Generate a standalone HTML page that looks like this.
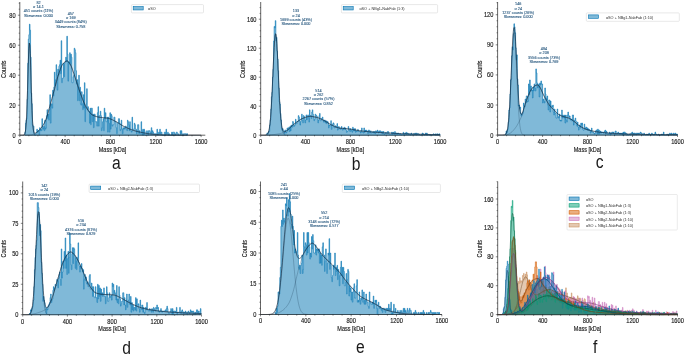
<!DOCTYPE html>
<html><head><meta charset="utf-8"><title>Mass photometry histograms</title>
<style>
html,body{margin:0;padding:0;background:#fff;}
svg{display:block;will-change:transform;}
text{font-family:"Liberation Sans",sans-serif;fill:#1a1a1a;}
.tk,.lb{stroke:#1a1a1a;stroke-width:0.14px;}
.tk{font-size:6.3px;}
.lb{font-size:6.5px;}
.lg{font-size:3.8px;fill:#333;}
.an{font-size:3.8px;fill:#28587f;stroke:#28587f;stroke-width:0.1px;}
.pl{font-size:17.6px;fill:#1a1a1a;}
</style></head><body>
<svg width="685" height="355" viewBox="0 0 685 355">
<rect width="685" height="355" fill="#fff"/>
<defs><filter id="idf" x="0" y="0" width="685" height="355" filterUnits="userSpaceOnUse" color-interpolation-filters="sRGB"><feColorMatrix type="matrix" values="1 0 0 0 0 0 1 0 0 0 0 0 1 0 0 0 0 0 1 0"/></filter></defs>
<g filter="url(#idf)">
<path d="M24.9,135.2V132.2H25.47V123.2H26.03V120.2H26.6V118.7H27.17V99.2H27.73V63.2H28.3V39.2H28.86V34.7H29.43V24.2H30V30.2H30.56V57.2H31.13V93.2H31.7V103.7H32.26V124.7H32.83V126.2H33.4V126.2H33.96V133.7H34.53V135.2H35.1V135.2H35.66V133.7H36.23V133.7H36.8V129.2H37.36V132.2H37.93V130.7H38.5V130.7H39.06V135.2H39.63V127.7H40.2V130.7H40.76V129.2H41.33V130.7H41.9V118.7H42.46V127.7H43.03V129.2H43.6V126.2H44.16V130.7H44.73V120.2H45.3V129.2H45.86V127.7H46.43V115.7H46.99V109.7H47.56V118.7H48.13V114.2H48.69V120.2H49.26V109.7H49.83V94.7H50.39V123.2H50.96V105.2H51.53V103.7H52.09V108.2H52.66V90.2H53.23V96.2H53.79V87.2H54.36V72.2H54.93V85.7H55.49V79.7H56.06V64.7H56.63V75.2H57.19V90.2H57.76V69.2H58.33V75.2H58.89V66.2H59.46V64.7H60.03V60.2H60.59V73.7H61.16V40.7H61.73V82.7H62.29V78.2H62.86V78.2H63.43V63.2H63.99V76.7H64.56V63.2H65.12V61.7H65.69V57.2H66.26V61.7H66.82V36.2H67.39V54.2H67.96V81.2H68.52V61.7H69.09V63.2H69.66V52.7H70.22V64.7H70.79V54.2H71.36V57.2H71.92V82.7H72.49V82.7H73.06V76.7H73.62V75.2H74.19V48.2H74.76V49.7H75.32V52.7H75.89V70.7H76.46V84.2H77.02V79.7H77.59V100.7H78.16V84.2H78.72V75.2H79.29V100.7H79.86V87.2H80.42V103.7H80.99V105.2H81.56V91.7H82.12V103.7H82.69V109.7H83.25V94.7H83.82V108.2H84.39V82.7H84.95V121.7H85.52V106.7H86.09V103.7H86.65V88.7H87.22V109.7H87.79V106.7H88.35V111.2H88.92V111.2H89.49V123.2H90.05V108.2H90.62V124.7H91.19V108.2H91.75V108.2H92.32V121.7H92.89V114.2H93.45V127.7H94.02V114.2H94.59V114.2H95.15V121.7H95.72V121.7H96.29V121.7H96.85V126.2H97.42V112.7H97.99V106.7H98.55V126.2H99.12V115.7H99.69V115.7H100.25V111.2H100.82V115.7H101.38V130.7H101.95V127.7H102.52V121.7H103.08V118.7H103.65V130.7H104.22V108.2H104.78V118.7H105.35V112.7H105.92V121.7H106.48V121.7H107.05V117.2H107.62V132.2H108.18V117.2H108.75V123.2H109.32V132.2H109.88V112.7H110.45V129.2H111.02V114.2H111.58V115.7H112.15V126.2H112.72V124.7H113.28V124.7H113.85V117.2H114.42V117.2H114.98V121.7H115.55V121.7H116.12V127.7H116.68V133.7H117.25V123.2H117.82V123.2H118.38V118.7H118.95V118.7H119.51V123.2H120.08V130.7H120.65V129.2H121.21V120.2H121.78V129.2H122.35V133.7H122.91V127.7H123.48V129.2H124.05V127.7H124.61V129.2H125.18V126.2H125.75V126.2H126.31V129.2H126.88V130.7H127.45V120.2H128.01V121.7H128.58V124.7H129.15V130.7H129.71V121.7H130.28V130.7H130.85V130.7H131.41V132.2H131.98V117.2H132.55V129.2H133.11V129.2H133.68V129.2H134.25V123.2H134.81V124.7H135.38V129.2H135.95V129.2H136.51V133.7H137.08V130.7H137.64V124.7H138.21V124.7H138.78V133.7H139.34V130.7H139.91V133.7H140.48V133.7H141.04V121.7H141.61V130.7H142.18V135.2H142.74V129.2H143.31V135.2H143.88V129.2H144.44V130.7H145.01V135.2H145.58V135.2H146.14V132.2H146.71V130.7H147.28V132.2H147.84V135.2H148.41V130.7H148.98V130.7H149.54V130.7H150.11V132.2H150.68V133.7H151.24V127.7H151.81V133.7H152.38V130.7H152.94V132.2H153.51V133.7H154.08V133.7H154.64V133.7H155.21V133.7H155.77V133.7H156.34V133.7H156.91V129.2H157.47V135.2H158.04V133.7H158.61V132.2H159.17V133.7H159.74V129.2H160.31V133.7H160.87V132.2H161.44V132.2H162.01V135.2H162.57V135.2H163.14V135.2H163.71V135.2H164.27V132.2H164.84V132.2H165.41V135.2H165.97V129.2H166.54V133.7H167.11V133.7H167.67V132.2H168.24V135.2H168.81V133.7H169.37V135.2H169.94V135.2H170.51V135.2H171.07V135.2H171.64V132.2H172.21V135.2H172.77V132.2H173.34V132.2H173.91V132.2H174.47V133.7H175.04V135.2H175.6V133.7H176.17V132.2H176.74V132.2H177.3V133.7H177.87V133.7H178.44V135.2H179V135.2H179.57V135.2H180.14V130.7H180.7V133.7H181.27V130.7H181.84V133.7H182.4V135.2H182.97V135.2H183.54V133.7H184.1V133.7H184.67V133.7H185.24V133.7H185.8V133.7H186.37V135.2H186.94V133.7H187.5V135.2Z" fill="#0173b2" fill-opacity="0.5" stroke="#0173b2" stroke-width="0.6" stroke-opacity="1" stroke-linejoin="miter"/>
<path d="M23.04,135.17L23.49,135.11L23.95,134.95L24.4,134.55L24.85,133.68L25.31,131.91L25.76,128.62L26.21,123.07L26.67,114.56L27.12,102.81L27.57,88.3L28.03,72.54L28.48,57.95L28.93,47.33L29.39,42.99L29.84,45.91L30.29,55.42L30.75,69.43L31.2,85.18L31.65,100.09L32.11,112.47L32.56,121.62L33.01,127.71L33.47,131.39L33.92,133.41L34.37,134.43L34.83,134.89L35.28,135.09L35.73,135.16" fill="none" stroke="#0b2a45" stroke-width="0.3" stroke-opacity="0.8"/>
<path d="M19.8,135.2L20.25,135.2L20.71,135.2L21.16,135.2L21.61,135.2L22.07,135.2L22.52,135.2L22.97,135.2L23.43,135.2L23.88,135.2L24.33,135.2L24.79,135.2L25.24,135.2L25.69,135.2L26.15,135.2L26.6,135.2L27.05,135.2L27.51,135.2L27.96,135.2L28.41,135.2L28.86,135.2L29.32,135.2L29.77,135.2L30.22,135.2L30.68,135.2L31.13,135.2L31.58,135.04L32.04,134.87L32.49,134.68L32.94,134.48L33.4,134.27L33.85,134.05L34.3,133.82L34.76,133.58L35.21,133.33L35.66,133.06L36.12,132.78L36.57,132.48L37.02,132.16L37.48,131.81L37.93,131.45L38.38,131.06L38.84,130.63L39.29,130.18L39.74,129.69L40.2,129.18L40.65,128.64L41.1,128.07L41.56,127.47L42.01,126.85L42.46,126.2L42.92,125.51L43.37,124.78L43.82,123.99L44.28,123.15L44.73,122.25L45.18,121.29L45.64,120.26L46.09,119.17L46.54,117.92L46.99,116.52L47.45,114.99L47.9,113.38L48.35,111.71L48.81,110.02L49.26,108.34L49.71,106.7L50.17,105.08L50.62,103.44L51.07,101.78L51.53,100.1L51.98,98.42L52.43,96.73L52.89,95.05L53.34,93.37L53.79,91.7L54.25,90.02L54.7,88.29L55.15,86.54L55.61,84.79L56.06,83.05L56.51,81.34L56.97,79.69L57.42,78.1L57.87,76.6L58.33,75.2L58.78,73.85L59.23,72.48L59.69,71.12L60.14,69.79L60.59,68.53L61.05,67.35L61.5,66.27L61.95,65.33L62.41,64.55L62.86,63.95L63.31,63.45L63.77,62.98L64.22,62.52L64.67,62.11L65.12,61.74L65.58,61.43L66.03,61.19L66.48,61.03L66.94,60.95L67.39,61.01L67.84,61.25L68.3,61.65L68.75,62.18L69.2,62.82L69.66,63.53L70.11,64.29L70.56,65.07L71.02,65.86L71.47,66.85L71.92,68.02L72.38,69.3L72.83,70.66L73.28,72.04L73.74,73.38L74.19,74.67L74.64,76.01L75.1,77.37L75.55,78.76L76,80.17L76.46,81.59L76.91,83.02L77.36,84.44L77.82,85.84L78.27,87.23L78.72,88.59L79.18,89.92L79.63,91.21L80.08,92.45L80.54,93.67L80.99,94.9L81.44,96.13L81.9,97.35L82.35,98.56L82.8,99.75L83.25,100.91L83.71,102.04L84.16,103.12L84.61,104.15L85.07,105.13L85.52,106.04L85.97,106.87L86.43,107.63L86.88,108.36L87.33,109.08L87.79,109.78L88.24,110.46L88.69,111.11L89.15,111.73L89.6,112.32L90.05,112.87L90.51,113.38L90.96,113.84L91.41,114.25L91.87,114.6L92.32,114.89L92.77,115.13L93.23,115.35L93.68,115.56L94.13,115.76L94.59,115.94L95.04,116.11L95.49,116.28L95.95,116.42L96.4,116.56L96.85,116.69L97.31,116.81L97.76,116.92L98.21,117.02L98.67,117.11L99.12,117.2L99.57,117.28L100.03,117.35L100.48,117.41L100.93,117.46L101.38,117.52L101.84,117.56L102.29,117.61L102.74,117.65L103.2,117.69L103.65,117.73L104.1,117.77L104.56,117.81L105.01,117.85L105.46,117.9L105.92,117.95L106.37,118L106.82,118.06L107.28,118.13L107.73,118.21L108.18,118.29L108.64,118.4L109.09,118.52L109.54,118.66L110,118.81L110.45,118.98L110.9,119.16L111.36,119.35L111.81,119.55L112.26,119.76L112.72,119.98L113.17,120.2L113.62,120.43L114.08,120.66L114.53,120.89L114.98,121.12L115.44,121.36L115.89,121.59L116.34,121.82L116.8,122.06L117.25,122.32L117.7,122.59L118.16,122.87L118.61,123.16L119.06,123.46L119.51,123.76L119.97,124.06L120.42,124.36L120.87,124.66L121.33,124.95L121.78,125.24L122.23,125.51L122.69,125.78L123.14,126.02L123.59,126.26L124.05,126.48L124.5,126.7L124.95,126.92L125.41,127.14L125.86,127.35L126.31,127.56L126.77,127.76L127.22,127.97L127.67,128.16L128.13,128.36L128.58,128.55L129.03,128.74L129.49,128.92L129.94,129.1L130.39,129.28L130.85,129.45L131.3,129.62L131.75,129.78L132.21,129.94L132.66,130.1L133.11,130.25L133.57,130.4L134.02,130.54L134.47,130.69L134.93,130.83L135.38,130.96L135.83,131.1L136.29,131.22L136.74,131.35L137.19,131.47L137.64,131.58L138.1,131.69L138.55,131.8L139,131.9L139.46,132L139.91,132.09L140.36,132.19L140.82,132.29L141.27,132.38L141.72,132.48L142.18,132.57L142.63,132.66L143.08,132.76L143.54,132.85L143.99,132.94L144.44,133.02L144.9,133.11L145.35,133.2L145.8,133.28L146.26,133.36L146.71,133.44L147.16,133.52L147.62,133.6L148.07,133.67L148.52,133.74L148.98,133.81L149.43,133.88L149.88,133.95L150.34,134.01L150.79,134.07L151.24,134.13L151.7,134.18L152.15,134.23L152.6,134.28L153.06,134.33L153.51,134.37L153.96,134.41L154.42,134.44L154.87,134.47L155.32,134.51L155.77,134.54L156.23,134.57L156.68,134.6L157.13,134.63L157.59,134.66L158.04,134.69L158.49,134.72L158.95,134.74L159.4,134.77L159.85,134.79L160.31,134.82L160.76,134.84L161.21,134.86L161.67,134.89L162.12,134.91L162.57,134.92L163.03,134.94L163.48,134.96L163.93,134.98L164.39,134.99L164.84,135L165.29,135.02L165.75,135.03L166.2,135.04L166.65,135.04L167.11,135.05L167.56,135.06L168.01,135.06L168.47,135.07L168.92,135.07L169.37,135.08L169.83,135.08L170.28,135.09L170.73,135.09L171.19,135.1L171.64,135.1L172.09,135.11L172.55,135.11L173,135.12L173.45,135.12L173.91,135.12L174.36,135.13L174.81,135.13L175.26,135.14L175.72,135.14L176.17,135.14L176.62,135.15L177.08,135.15L177.53,135.15L177.98,135.16L178.44,135.16L178.89,135.16L179.34,135.17L179.8,135.17L180.25,135.17L180.7,135.17L181.16,135.18L181.61,135.18L182.06,135.18L182.52,135.18L182.97,135.19L183.42,135.19L183.88,135.19L184.33,135.19L184.78,135.19L185.24,135.19L185.69,135.19L186.14,135.2L186.6,135.2L187.05,135.2L187.5,135.2L187.96,135.2L188.41,135.2L188.86,135.2L189.32,135.2L189.77,135.2L190.22,135.2L190.68,135.2L191.13,135.2L191.58,135.2L192.03,135.2L192.49,135.2L192.94,135.2L193.39,135.2L193.85,135.2L194.3,135.2L194.75,135.2L195.21,135.2L195.66,135.2L196.11,135.2L196.57,135.2L197.02,135.2L197.47,135.2L197.93,135.2L198.38,135.2L198.83,135.2L199.29,135.2L199.74,135.2L200.19,135.2L200.65,135.2L201.1,135.2" fill="none" stroke="#0b2a45" stroke-width="0.3" stroke-opacity="0.8"/>
<path d="M19.8,135.2L20.25,135.2L20.71,135.2L21.16,135.2L21.61,135.2L22.07,135.2L22.52,135.19L22.97,135.17L23.43,135.12L23.88,134.98L24.33,134.63L24.79,133.85L25.24,132.25L25.69,129.24L26.15,124.07L26.6,116.04L27.05,104.77L27.51,90.6L27.96,74.89L28.41,59.95L28.86,48.57L29.32,43.18L29.77,45.01L30.22,53.65L30.68,67.15L31.13,82.81L31.58,97.83L32.04,110.48L32.49,119.94L32.94,126.25L33.4,130.04L33.85,132.04L34.3,132.94L34.76,133.22L35.21,133.19L35.66,133.01L36.12,132.76L36.57,132.47L37.02,132.16L37.48,131.81L37.93,131.45L38.38,131.06L38.84,130.63L39.29,130.18L39.74,129.69L40.2,129.18L40.65,128.64L41.1,128.07L41.56,127.47L42.01,126.85L42.46,126.2L42.92,125.51L43.37,124.78L43.82,123.99L44.28,123.15L44.73,122.25L45.18,121.29L45.64,120.26L46.09,119.17L46.54,117.92L46.99,116.52L47.45,114.99L47.9,113.38L48.35,111.71L48.81,110.02L49.26,108.34L49.71,106.7L50.17,105.08L50.62,103.44L51.07,101.78L51.53,100.1L51.98,98.42L52.43,96.73L52.89,95.05L53.34,93.37L53.79,91.7L54.25,90.02L54.7,88.29L55.15,86.54L55.61,84.79L56.06,83.05L56.51,81.34L56.97,79.69L57.42,78.1L57.87,76.6L58.33,75.2L58.78,73.85L59.23,72.48L59.69,71.12L60.14,69.79L60.59,68.53L61.05,67.35L61.5,66.27L61.95,65.33L62.41,64.55L62.86,63.95L63.31,63.45L63.77,62.98L64.22,62.52L64.67,62.11L65.12,61.74L65.58,61.43L66.03,61.19L66.48,61.03L66.94,60.95L67.39,61.01L67.84,61.25L68.3,61.65L68.75,62.18L69.2,62.82L69.66,63.53L70.11,64.29L70.56,65.07L71.02,65.86L71.47,66.85L71.92,68.02L72.38,69.3L72.83,70.66L73.28,72.04L73.74,73.38L74.19,74.67L74.64,76.01L75.1,77.37L75.55,78.76L76,80.17L76.46,81.59L76.91,83.02L77.36,84.44L77.82,85.84L78.27,87.23L78.72,88.59L79.18,89.92L79.63,91.21L80.08,92.45L80.54,93.67L80.99,94.9L81.44,96.13L81.9,97.35L82.35,98.56L82.8,99.75L83.25,100.91L83.71,102.04L84.16,103.12L84.61,104.15L85.07,105.13L85.52,106.04L85.97,106.87L86.43,107.63L86.88,108.36L87.33,109.08L87.79,109.78L88.24,110.46L88.69,111.11L89.15,111.73L89.6,112.32L90.05,112.87L90.51,113.38L90.96,113.84L91.41,114.25L91.87,114.6L92.32,114.89L92.77,115.13L93.23,115.35L93.68,115.56L94.13,115.76L94.59,115.94L95.04,116.11L95.49,116.28L95.95,116.42L96.4,116.56L96.85,116.69L97.31,116.81L97.76,116.92L98.21,117.02L98.67,117.11L99.12,117.2L99.57,117.28L100.03,117.35L100.48,117.41L100.93,117.46L101.38,117.52L101.84,117.56L102.29,117.61L102.74,117.65L103.2,117.69L103.65,117.73L104.1,117.77L104.56,117.81L105.01,117.85L105.46,117.9L105.92,117.95L106.37,118L106.82,118.06L107.28,118.13L107.73,118.21L108.18,118.29L108.64,118.4L109.09,118.52L109.54,118.66L110,118.81L110.45,118.98L110.9,119.16L111.36,119.35L111.81,119.55L112.26,119.76L112.72,119.98L113.17,120.2L113.62,120.43L114.08,120.66L114.53,120.89L114.98,121.12L115.44,121.36L115.89,121.59L116.34,121.82L116.8,122.06L117.25,122.32L117.7,122.59L118.16,122.87L118.61,123.16L119.06,123.46L119.51,123.76L119.97,124.06L120.42,124.36L120.87,124.66L121.33,124.95L121.78,125.24L122.23,125.51L122.69,125.78L123.14,126.02L123.59,126.26L124.05,126.48L124.5,126.7L124.95,126.92L125.41,127.14L125.86,127.35L126.31,127.56L126.77,127.76L127.22,127.97L127.67,128.16L128.13,128.36L128.58,128.55L129.03,128.74L129.49,128.92L129.94,129.1L130.39,129.28L130.85,129.45L131.3,129.62L131.75,129.78L132.21,129.94L132.66,130.1L133.11,130.25L133.57,130.4L134.02,130.54L134.47,130.69L134.93,130.83L135.38,130.96L135.83,131.1L136.29,131.22L136.74,131.35L137.19,131.47L137.64,131.58L138.1,131.69L138.55,131.8L139,131.9L139.46,132L139.91,132.09L140.36,132.19L140.82,132.29L141.27,132.38L141.72,132.48L142.18,132.57L142.63,132.66L143.08,132.76L143.54,132.85L143.99,132.94L144.44,133.02L144.9,133.11L145.35,133.2L145.8,133.28L146.26,133.36L146.71,133.44L147.16,133.52L147.62,133.6L148.07,133.67L148.52,133.74L148.98,133.81L149.43,133.88L149.88,133.95L150.34,134.01L150.79,134.07L151.24,134.13L151.7,134.18L152.15,134.23L152.6,134.28L153.06,134.33L153.51,134.37L153.96,134.41L154.42,134.44L154.87,134.47L155.32,134.51L155.77,134.54L156.23,134.57L156.68,134.6L157.13,134.63L157.59,134.66L158.04,134.69L158.49,134.72L158.95,134.74L159.4,134.77L159.85,134.79L160.31,134.82L160.76,134.84L161.21,134.86L161.67,134.89L162.12,134.91L162.57,134.92L163.03,134.94L163.48,134.96L163.93,134.98L164.39,134.99L164.84,135L165.29,135.02L165.75,135.03L166.2,135.04L166.65,135.04L167.11,135.05L167.56,135.06L168.01,135.06L168.47,135.07L168.92,135.07L169.37,135.08L169.83,135.08L170.28,135.09L170.73,135.09L171.19,135.1L171.64,135.1L172.09,135.11L172.55,135.11L173,135.12L173.45,135.12L173.91,135.12L174.36,135.13L174.81,135.13L175.26,135.14L175.72,135.14L176.17,135.14L176.62,135.15L177.08,135.15L177.53,135.15L177.98,135.16L178.44,135.16L178.89,135.16L179.34,135.17L179.8,135.17L180.25,135.17L180.7,135.17L181.16,135.18L181.61,135.18L182.06,135.18L182.52,135.18L182.97,135.19L183.42,135.19L183.88,135.19L184.33,135.19L184.78,135.19L185.24,135.19L185.69,135.19L186.14,135.2L186.6,135.2L187.05,135.2L187.5,135.2L187.96,135.2L188.41,135.2L188.86,135.2L189.32,135.2L189.77,135.2L190.22,135.2L190.68,135.2L191.13,135.2L191.58,135.2L192.03,135.2L192.49,135.2L192.94,135.2L193.39,135.2L193.85,135.2L194.3,135.2L194.75,135.2L195.21,135.2L195.66,135.2L196.11,135.2L196.57,135.2L197.02,135.2L197.47,135.2L197.93,135.2L198.38,135.2L198.83,135.2L199.29,135.2L199.74,135.2L200.19,135.2L200.65,135.2L201.1,135.2" fill="none" stroke="#0b2238" stroke-width="0.6"/>
<path d="M19.8,2V135.2H205.3" fill="none" stroke="#333" stroke-width="0.75"/>
<path d="M19.8,135.2v1.9M65.12,135.2v1.9M110.45,135.2v1.9M155.77,135.2v1.9M201.1,135.2v1.9M28.86,135.2v1.1M37.93,135.2v1.1M46.99,135.2v1.1M56.06,135.2v1.1M74.19,135.2v1.1M83.25,135.2v1.1M92.32,135.2v1.1M101.38,135.2v1.1M119.51,135.2v1.1M128.58,135.2v1.1M137.64,135.2v1.1M146.71,135.2v1.1M164.84,135.2v1.1M173.91,135.2v1.1M182.97,135.2v1.1M192.03,135.2v1.1M19.8,135.2h-1.9M19.8,105.2h-1.9M19.8,75.2h-1.9M19.8,45.2h-1.9M19.8,15.2h-1.9M19.8,129.2h-1.1M19.8,123.2h-1.1M19.8,117.2h-1.1M19.8,111.2h-1.1M19.8,99.2h-1.1M19.8,93.2h-1.1M19.8,87.2h-1.1M19.8,81.2h-1.1M19.8,69.2h-1.1M19.8,63.2h-1.1M19.8,57.2h-1.1M19.8,51.2h-1.1M19.8,39.2h-1.1M19.8,33.2h-1.1M19.8,27.2h-1.1M19.8,21.2h-1.1M19.8,9.2h-1.1M19.8,3.2h-1.1" fill="none" stroke="#111" stroke-width="0.5"/>
<text transform="translate(19.8,144) scale(0.9,1)" text-anchor="middle" class="tk">0</text>
<text transform="translate(65.12,144) scale(0.9,1)" text-anchor="middle" class="tk">400</text>
<text transform="translate(110.45,144) scale(0.9,1)" text-anchor="middle" class="tk">800</text>
<text transform="translate(155.77,144) scale(0.9,1)" text-anchor="middle" class="tk">1200</text>
<text transform="translate(201.1,144) scale(0.9,1)" text-anchor="middle" class="tk">1600</text>
<text transform="translate(15.6,137.7) scale(0.9,1)" text-anchor="end" class="tk">0</text>
<text transform="translate(15.6,107.7) scale(0.9,1)" text-anchor="end" class="tk">20</text>
<text transform="translate(15.6,77.7) scale(0.9,1)" text-anchor="end" class="tk">40</text>
<text transform="translate(15.6,47.7) scale(0.9,1)" text-anchor="end" class="tk">60</text>
<text transform="translate(15.6,17.7) scale(0.9,1)" text-anchor="end" class="tk">80</text>
<text transform="translate(112.55,151.6) scale(0.85,1)" text-anchor="middle" class="lb">Mass [kDa]</text>
<text transform="translate(6.2,69.2) rotate(-90) scale(0.85,1)" text-anchor="middle" class="lb">Counts</text>
<rect x="131.4" y="4.6" width="72.1" height="8.3" rx="0.9" fill="#fff" fill-opacity="0.8" stroke="#d0d0d0" stroke-width="0.5"/>
<rect x="133.2" y="6.55" width="10" height="3.4" fill="#0173b2" fill-opacity="0.5" stroke="#0173b2" stroke-width="0.6"/>
<text x="148.1" y="10.25" class="lg">αSO</text>
<text x="38.5" y="3.6" text-anchor="middle" class="an">82</text>
<text x="38.5" y="7.9" text-anchor="middle" class="an">σ 14.1</text>
<text x="38.5" y="12.2" text-anchor="middle" class="an">451 counts (11%)</text>
<text x="38.5" y="16.5" text-anchor="middle" class="an">Skewness: 0.000</text>
<text x="70.8" y="14.6" text-anchor="middle" class="an">457</text>
<text x="70.8" y="18.9" text-anchor="middle" class="an">σ 169</text>
<text x="70.8" y="23.2" text-anchor="middle" class="an">3449 counts (84%)</text>
<text x="70.8" y="27.5" text-anchor="middle" class="an">Skewness: 0.758</text>
<path d="M266.87,135.2V133.02H267.43V133.02H267.99V133.02H268.55V131.57H269.11V131.57H269.67V125.05H270.23V119.97H270.79V109.1H271.35V96.77H271.91V92.42H272.47V77.2H273.03V69.22H273.59V40.95H274.15V26.45H274.72V27.9H275.28V20.65H275.84V40.95H276.4V37.32H276.96V51.1H277.52V59.07H278.08V70.67H278.64V88.07H279.2V101.85H279.76V104.02H280.32V113.45H280.88V119.97H281.44V127.95H282V130.12H282.56V128.67H283.12V131.57H283.69V131.57H284.25V133.75H284.81V130.12H285.37V130.12H285.93V133.02H286.49V132.3H287.05V127.95H287.61V130.12H288.17V129.4H288.73V127.22H289.29V131.57H289.85V126.5H290.41V130.85H290.97V125.05H291.53V125.77H292.09V127.22H292.66V121.42H293.22V122.87H293.78V126.5H294.34V125.05H294.9V125.05H295.46V119.25H296.02V123.6H296.58V123.6H297.14V121.42H297.7V121.42H298.26V115.62H298.82V117.07H299.38V121.42H299.94V125.05H300.5V121.42H301.06V118.52H301.63V114.17H302.19V119.97H302.75V122.87H303.31V115.62H303.87V116.35H304.43V117.8H304.99V122.87H305.55V119.97H306.11V114.9H306.67V119.97H307.23V117.8H307.79V114.9H308.35V117.8H308.91V122.15H309.47V109.82H310.03V115.62H310.6V115.62H311.16V118.52H311.72V112H312.28V109.82H312.84V114.17H313.4V117.07H313.96V120.7H314.52V119.25H315.08V114.17H315.64V114.9H316.2V115.62H316.76V116.35H317.32V119.25H317.88V122.87H318.44V119.97H319V115.62H319.57V113.45H320.13V120.7H320.69V120.7H321.25V118.52H321.81V118.52H322.37V117.07H322.93V119.97H323.49V122.15H324.05V120.7H324.61V119.97H325.17V122.87H325.73V120.7H326.29V123.6H326.85V121.42H327.41V121.42H327.98V122.87H328.54V127.95H329.1V125.05H329.66V125.77H330.22V125.77H330.78V120.7H331.34V129.4H331.9V125.05H332.46V124.32H333.02V122.87H333.58V123.6H334.14V127.95H334.7V127.22H335.26V125.77H335.82V127.22H336.38V126.5H336.94V123.6H337.51V130.12H338.07V129.4H338.63V126.5H339.19V128.67H339.75V127.95H340.31V129.4H340.87V128.67H341.43V126.5H341.99V129.4H342.55V130.12H343.11V127.95H343.67V129.4H344.23V127.22H344.79V129.4H345.35V127.95H345.92V130.12H346.48V132.3H347.04V131.57H347.6V130.85H348.16V126.5H348.72V128.67H349.28V130.12H349.84V131.57H350.4V128.67H350.96V130.12H351.52V130.85H352.08V132.3H352.64V127.22H353.2V130.85H353.76V128.67H354.32V130.85H354.88V128.67H355.45V132.3H356.01V130.85H356.57V131.57H357.13V131.57H357.69V129.4H358.25V130.85H358.81V131.57H359.37V131.57H359.93V131.57H360.49V133.02H361.05V130.12H361.61V127.95H362.17V132.3H362.73V132.3H363.29V133.02H363.86V127.95H364.42V132.3H364.98V130.12H365.54V131.57H366.1V130.12H366.66V130.85H367.22V131.57H367.78V133.75H368.34V130.12H368.9V130.12H369.46V133.02H370.02V133.02H370.58V130.85H371.14V133.02H371.7V133.02H372.26V132.3H372.82V131.57H373.39V133.02H373.95V131.57H374.51V133.02H375.07V133.75H375.63V130.85H376.19V132.3H376.75V131.57H377.31V130.12H377.87V131.57H378.43V133.02H378.99V130.85H379.55V131.57H380.11V130.85H380.67V131.57H381.23V133.02H381.8V131.57H382.36V133.75H382.92V131.57H383.48V131.57H384.04V134.47H384.6V133.75H385.16V133.02H385.72V132.3H386.28V133.75H386.84V133.75H387.4V131.57H387.96V131.57H388.52V132.3H389.08V134.47H389.64V134.47H390.2V134.47H390.76V134.47H391.33V132.3H391.89V132.3H392.45V134.47H393.01V132.3H393.57V133.02H394.13V134.47H394.69V131.57H395.25V133.02H395.81V134.47H396.37V133.02H396.93V133.02H397.49V134.47H398.05V133.02H398.61V133.75H399.17V134.47H399.74V133.75H400.3V133.75H400.86V135.2H401.42V134.47H401.98V134.47H402.54V134.47H403.1V132.3H403.66V134.47H404.22V135.2H404.78V133.02H405.34V133.75H405.9V132.3H406.46V134.47H407.02V133.02H407.58V133.02H408.14V134.47H408.71V133.75H409.27V134.47H409.83V134.47H410.39V135.2H410.95V133.02H411.51V133.75H412.07V134.47H412.63V134.47H413.19V133.75H413.75V133.75H414.31V134.47H414.87V133.02H415.43V134.47H415.99V135.2H416.55V133.02H417.11V134.47H417.68V133.75H418.24V133.75H418.8V134.47H419.36V134.47H419.92V135.2H420.48V135.2H421.04V135.2H421.6V134.47H422.16V133.02H422.72V134.47H423.28V133.75H423.84V134.47H424.4V135.2H424.96V134.47H425.52V133.02H426.08V135.2H426.64V133.02H427.21V135.2H427.77V134.47H428.33V134.47H428.89V134.47H429.45V135.2H430.01V135.2H430.57V134.47H431.13V135.2H431.69V135.2H432.25V135.2H432.81V134.47H433.37V133.75H433.93V134.47H434.49V134.47H435.05V135.2H435.62V133.75H436.18V135.2H436.74V135.2H437.3V133.75H437.86V135.2H438.42V134.47H438.98V133.75H439.54V134.47H440.1V135.2Z" fill="#0173b2" fill-opacity="0.5" stroke="#0173b2" stroke-width="0.6" stroke-opacity="1" stroke-linejoin="miter"/>
<path d="M264.85,135.17L265.3,135.14L265.75,135.08L266.19,134.98L266.64,134.81L267.09,134.53L267.54,134.08L267.99,133.38L268.44,132.32L268.89,130.77L269.33,128.58L269.78,125.56L270.23,121.56L270.68,116.43L271.13,110.07L271.58,102.48L272.02,93.77L272.47,84.17L272.92,74.08L273.37,63.99L273.82,54.51L274.27,46.27L274.72,39.87L275.16,35.81L275.61,34.42L276.06,35.81L276.51,39.87L276.96,46.27L277.41,54.51L277.86,63.99L278.3,74.08L278.75,84.17L279.2,93.77L279.65,102.48L280.1,110.07L280.55,116.43L280.99,121.56L281.44,125.56L281.89,128.58L282.34,130.77L282.79,132.32L283.24,133.38L283.69,134.08L284.13,134.53L284.58,134.81L285.03,134.98L285.48,135.08L285.93,135.14L286.38,135.17" fill="none" stroke="#0b2a45" stroke-width="0.3" stroke-opacity="0.8"/>
<path d="M260.7,135.2L261.15,135.2L261.6,135.2L262.05,135.2L262.49,135.2L262.94,135.2L263.39,135.2L263.84,135.2L264.29,135.2L264.74,135.19L265.19,135.18L265.63,135.16L266.08,135.15L266.53,135.13L266.98,135.1L267.43,135.08L267.88,135.05L268.32,135.03L268.77,135L269.22,134.97L269.67,134.94L270.12,134.9L270.57,134.87L271.02,134.84L271.46,134.8L271.91,134.76L272.36,134.73L272.81,134.69L273.26,134.64L273.71,134.59L274.15,134.54L274.6,134.48L275.05,134.42L275.5,134.35L275.95,134.29L276.4,134.22L276.85,134.15L277.29,134.08L277.74,134L278.19,133.93L278.64,133.85L279.09,133.76L279.54,133.67L279.99,133.58L280.43,133.48L280.88,133.38L281.33,133.27L281.78,133.15L282.23,133.02L282.68,132.88L283.12,132.73L283.57,132.57L284.02,132.37L284.47,132.14L284.92,131.89L285.37,131.62L285.82,131.33L286.26,131.03L286.71,130.72L287.16,130.41L287.61,130.05L288.06,129.66L288.51,129.24L288.96,128.8L289.4,128.34L289.85,127.88L290.3,127.42L290.75,126.97L291.2,126.54L291.65,126.14L292.09,125.75L292.54,125.37L292.99,125L293.44,124.63L293.89,124.26L294.34,123.9L294.79,123.55L295.23,123.2L295.68,122.86L296.13,122.52L296.58,122.2L297.03,121.88L297.48,121.58L297.93,121.28L298.37,120.98L298.82,120.68L299.27,120.38L299.72,120.08L300.17,119.8L300.62,119.52L301.06,119.25L301.51,119L301.96,118.76L302.41,118.54L302.86,118.34L303.31,118.16L303.76,117.99L304.2,117.82L304.65,117.65L305.1,117.49L305.55,117.32L306,117.16L306.45,117.01L306.9,116.87L307.34,116.75L307.79,116.63L308.24,116.54L308.69,116.46L309.14,116.4L309.59,116.36L310.03,116.35L310.48,116.36L310.93,116.38L311.38,116.41L311.83,116.46L312.28,116.52L312.73,116.58L313.17,116.66L313.62,116.74L314.07,116.83L314.52,116.92L314.97,117.02L315.42,117.12L315.87,117.23L316.31,117.33L316.76,117.44L317.21,117.55L317.66,117.68L318.11,117.82L318.56,117.98L319,118.15L319.45,118.33L319.9,118.52L320.35,118.72L320.8,118.93L321.25,119.14L321.7,119.35L322.14,119.57L322.59,119.8L323.04,120.02L323.49,120.24L323.94,120.47L324.39,120.7L324.84,120.95L325.28,121.21L325.73,121.48L326.18,121.76L326.63,122.04L327.08,122.33L327.53,122.62L327.98,122.91L328.42,123.2L328.87,123.48L329.32,123.75L329.77,124.02L330.22,124.28L330.67,124.52L331.11,124.74L331.56,124.97L332.01,125.2L332.46,125.42L332.91,125.65L333.36,125.88L333.81,126.1L334.25,126.32L334.7,126.53L335.15,126.74L335.6,126.93L336.05,127.11L336.5,127.28L336.94,127.43L337.39,127.57L337.84,127.68L338.29,127.78L338.74,127.87L339.19,127.94L339.64,128.01L340.08,128.08L340.53,128.14L340.98,128.2L341.43,128.25L341.88,128.3L342.33,128.35L342.78,128.39L343.22,128.44L343.67,128.48L344.12,128.52L344.57,128.56L345.02,128.6L345.47,128.64L345.92,128.67L346.36,128.71L346.81,128.75L347.26,128.8L347.71,128.84L348.16,128.88L348.61,128.93L349.05,128.98L349.5,129.04L349.95,129.09L350.4,129.16L350.85,129.22L351.3,129.29L351.75,129.37L352.19,129.44L352.64,129.52L353.09,129.6L353.54,129.69L353.99,129.77L354.44,129.86L354.88,129.94L355.33,130.03L355.78,130.11L356.23,130.2L356.68,130.28L357.13,130.36L357.58,130.44L358.02,130.52L358.47,130.59L358.92,130.66L359.37,130.73L359.82,130.79L360.27,130.85L360.72,130.9L361.16,130.96L361.61,131.01L362.06,131.06L362.51,131.11L362.96,131.16L363.41,131.21L363.86,131.25L364.3,131.3L364.75,131.34L365.2,131.39L365.65,131.43L366.1,131.47L366.55,131.51L366.99,131.55L367.44,131.59L367.89,131.63L368.34,131.67L368.79,131.71L369.24,131.75L369.69,131.78L370.13,131.82L370.58,131.86L371.03,131.89L371.48,131.93L371.93,131.96L372.38,132L372.82,132.03L373.27,132.07L373.72,132.1L374.17,132.13L374.62,132.17L375.07,132.2L375.52,132.23L375.96,132.26L376.41,132.29L376.86,132.32L377.31,132.36L377.76,132.39L378.21,132.42L378.66,132.44L379.1,132.47L379.55,132.5L380,132.53L380.45,132.56L380.9,132.59L381.35,132.62L381.8,132.65L382.24,132.67L382.69,132.7L383.14,132.73L383.59,132.76L384.04,132.78L384.49,132.81L384.93,132.84L385.38,132.86L385.83,132.89L386.28,132.92L386.73,132.94L387.18,132.97L387.63,132.99L388.07,133.02L388.52,133.04L388.97,133.07L389.42,133.09L389.87,133.12L390.32,133.14L390.76,133.17L391.21,133.19L391.66,133.21L392.11,133.24L392.56,133.26L393.01,133.28L393.46,133.3L393.9,133.33L394.35,133.35L394.8,133.37L395.25,133.39L395.7,133.41L396.15,133.43L396.6,133.45L397.04,133.47L397.49,133.49L397.94,133.51L398.39,133.53L398.84,133.55L399.29,133.57L399.74,133.59L400.18,133.6L400.63,133.62L401.08,133.64L401.53,133.66L401.98,133.68L402.43,133.7L402.87,133.72L403.32,133.74L403.77,133.75L404.22,133.77L404.67,133.79L405.12,133.81L405.57,133.82L406.01,133.84L406.46,133.86L406.91,133.88L407.36,133.89L407.81,133.91L408.26,133.93L408.71,133.94L409.15,133.96L409.6,133.97L410.05,133.99L410.5,134L410.95,134.02L411.4,134.03L411.84,134.05L412.29,134.06L412.74,134.08L413.19,134.09L413.64,134.1L414.09,134.12L414.54,134.13L414.98,134.14L415.43,134.15L415.88,134.16L416.33,134.18L416.78,134.19L417.23,134.2L417.68,134.21L418.12,134.22L418.57,134.23L419.02,134.24L419.47,134.25L419.92,134.26L420.37,134.28L420.81,134.29L421.26,134.3L421.71,134.31L422.16,134.32L422.61,134.33L423.06,134.34L423.51,134.35L423.95,134.36L424.4,134.37L424.85,134.38L425.3,134.39L425.75,134.4L426.2,134.41L426.64,134.41L427.09,134.42L427.54,134.43L427.99,134.44L428.44,134.45L428.89,134.46L429.34,134.47L429.78,134.48L430.23,134.48L430.68,134.49L431.13,134.5L431.58,134.51L432.03,134.52L432.48,134.52L432.92,134.53L433.37,134.54L433.82,134.54L434.27,134.55L434.72,134.56L435.17,134.56L435.62,134.57L436.06,134.58L436.51,134.58L436.96,134.59L437.41,134.59L437.86,134.6L438.31,134.6L438.75,134.61L439.2,134.61L439.65,134.62L440.1,134.62" fill="none" stroke="#0b2a45" stroke-width="0.3" stroke-opacity="0.8"/>
<path d="M260.7,135.2L261.15,135.2L261.6,135.2L262.05,135.2L262.49,135.2L262.94,135.2L263.39,135.2L263.84,135.19L264.29,135.18L264.74,135.16L265.19,135.12L265.63,135.06L266.08,134.96L266.53,134.79L266.98,134.52L267.43,134.09L267.88,133.44L268.32,132.45L268.77,131.01L269.22,128.96L269.67,126.14L270.12,122.37L270.57,117.49L271.02,111.41L271.46,104.09L271.91,95.61L272.36,86.16L272.81,76.11L273.26,65.92L273.71,56.17L274.15,47.51L274.6,40.55L275.05,35.81L275.5,33.67L275.95,34.3L276.4,37.64L276.85,43.42L277.29,51.18L277.74,60.34L278.19,70.26L278.64,80.32L279.09,90L279.54,98.88L279.99,106.67L280.43,113.24L280.88,118.57L281.33,122.73L281.78,125.85L282.23,128.11L282.68,129.67L283.12,130.69L283.57,131.3L284.02,131.6L284.47,131.69L284.92,131.64L285.37,131.48L285.82,131.26L286.26,130.99L286.71,130.7L287.16,130.4L287.61,130.05L288.06,129.66L288.51,129.24L288.96,128.8L289.4,128.34L289.85,127.88L290.3,127.42L290.75,126.97L291.2,126.54L291.65,126.14L292.09,125.75L292.54,125.37L292.99,125L293.44,124.63L293.89,124.26L294.34,123.9L294.79,123.55L295.23,123.2L295.68,122.86L296.13,122.52L296.58,122.2L297.03,121.88L297.48,121.58L297.93,121.28L298.37,120.98L298.82,120.68L299.27,120.38L299.72,120.08L300.17,119.8L300.62,119.52L301.06,119.25L301.51,119L301.96,118.76L302.41,118.54L302.86,118.34L303.31,118.16L303.76,117.99L304.2,117.82L304.65,117.65L305.1,117.49L305.55,117.32L306,117.16L306.45,117.01L306.9,116.87L307.34,116.75L307.79,116.63L308.24,116.54L308.69,116.46L309.14,116.4L309.59,116.36L310.03,116.35L310.48,116.36L310.93,116.38L311.38,116.41L311.83,116.46L312.28,116.52L312.73,116.58L313.17,116.66L313.62,116.74L314.07,116.83L314.52,116.92L314.97,117.02L315.42,117.12L315.87,117.23L316.31,117.33L316.76,117.44L317.21,117.55L317.66,117.68L318.11,117.82L318.56,117.98L319,118.15L319.45,118.33L319.9,118.52L320.35,118.72L320.8,118.93L321.25,119.14L321.7,119.35L322.14,119.57L322.59,119.8L323.04,120.02L323.49,120.24L323.94,120.47L324.39,120.7L324.84,120.95L325.28,121.21L325.73,121.48L326.18,121.76L326.63,122.04L327.08,122.33L327.53,122.62L327.98,122.91L328.42,123.2L328.87,123.48L329.32,123.75L329.77,124.02L330.22,124.28L330.67,124.52L331.11,124.74L331.56,124.97L332.01,125.2L332.46,125.42L332.91,125.65L333.36,125.88L333.81,126.1L334.25,126.32L334.7,126.53L335.15,126.74L335.6,126.93L336.05,127.11L336.5,127.28L336.94,127.43L337.39,127.57L337.84,127.68L338.29,127.78L338.74,127.87L339.19,127.94L339.64,128.01L340.08,128.08L340.53,128.14L340.98,128.2L341.43,128.25L341.88,128.3L342.33,128.35L342.78,128.39L343.22,128.44L343.67,128.48L344.12,128.52L344.57,128.56L345.02,128.6L345.47,128.64L345.92,128.67L346.36,128.71L346.81,128.75L347.26,128.8L347.71,128.84L348.16,128.88L348.61,128.93L349.05,128.98L349.5,129.04L349.95,129.09L350.4,129.16L350.85,129.22L351.3,129.29L351.75,129.37L352.19,129.44L352.64,129.52L353.09,129.6L353.54,129.69L353.99,129.77L354.44,129.86L354.88,129.94L355.33,130.03L355.78,130.11L356.23,130.2L356.68,130.28L357.13,130.36L357.58,130.44L358.02,130.52L358.47,130.59L358.92,130.66L359.37,130.73L359.82,130.79L360.27,130.85L360.72,130.9L361.16,130.96L361.61,131.01L362.06,131.06L362.51,131.11L362.96,131.16L363.41,131.21L363.86,131.25L364.3,131.3L364.75,131.34L365.2,131.39L365.65,131.43L366.1,131.47L366.55,131.51L366.99,131.55L367.44,131.59L367.89,131.63L368.34,131.67L368.79,131.71L369.24,131.75L369.69,131.78L370.13,131.82L370.58,131.86L371.03,131.89L371.48,131.93L371.93,131.96L372.38,132L372.82,132.03L373.27,132.07L373.72,132.1L374.17,132.13L374.62,132.17L375.07,132.2L375.52,132.23L375.96,132.26L376.41,132.29L376.86,132.32L377.31,132.36L377.76,132.39L378.21,132.42L378.66,132.44L379.1,132.47L379.55,132.5L380,132.53L380.45,132.56L380.9,132.59L381.35,132.62L381.8,132.65L382.24,132.67L382.69,132.7L383.14,132.73L383.59,132.76L384.04,132.78L384.49,132.81L384.93,132.84L385.38,132.86L385.83,132.89L386.28,132.92L386.73,132.94L387.18,132.97L387.63,132.99L388.07,133.02L388.52,133.04L388.97,133.07L389.42,133.09L389.87,133.12L390.32,133.14L390.76,133.17L391.21,133.19L391.66,133.21L392.11,133.24L392.56,133.26L393.01,133.28L393.46,133.3L393.9,133.33L394.35,133.35L394.8,133.37L395.25,133.39L395.7,133.41L396.15,133.43L396.6,133.45L397.04,133.47L397.49,133.49L397.94,133.51L398.39,133.53L398.84,133.55L399.29,133.57L399.74,133.59L400.18,133.6L400.63,133.62L401.08,133.64L401.53,133.66L401.98,133.68L402.43,133.7L402.87,133.72L403.32,133.74L403.77,133.75L404.22,133.77L404.67,133.79L405.12,133.81L405.57,133.82L406.01,133.84L406.46,133.86L406.91,133.88L407.36,133.89L407.81,133.91L408.26,133.93L408.71,133.94L409.15,133.96L409.6,133.97L410.05,133.99L410.5,134L410.95,134.02L411.4,134.03L411.84,134.05L412.29,134.06L412.74,134.08L413.19,134.09L413.64,134.1L414.09,134.12L414.54,134.13L414.98,134.14L415.43,134.15L415.88,134.16L416.33,134.18L416.78,134.19L417.23,134.2L417.68,134.21L418.12,134.22L418.57,134.23L419.02,134.24L419.47,134.25L419.92,134.26L420.37,134.28L420.81,134.29L421.26,134.3L421.71,134.31L422.16,134.32L422.61,134.33L423.06,134.34L423.51,134.35L423.95,134.36L424.4,134.37L424.85,134.38L425.3,134.39L425.75,134.4L426.2,134.41L426.64,134.41L427.09,134.42L427.54,134.43L427.99,134.44L428.44,134.45L428.89,134.46L429.34,134.47L429.78,134.48L430.23,134.48L430.68,134.49L431.13,134.5L431.58,134.51L432.03,134.52L432.48,134.52L432.92,134.53L433.37,134.54L433.82,134.54L434.27,134.55L434.72,134.56L435.17,134.56L435.62,134.57L436.06,134.58L436.51,134.58L436.96,134.59L437.41,134.59L437.86,134.6L438.31,134.6L438.75,134.61L439.2,134.61L439.65,134.62L440.1,134.62" fill="none" stroke="#0b2238" stroke-width="0.6"/>
<path d="M260.7,2V135.2H440.1" fill="none" stroke="#333" stroke-width="0.75"/>
<path d="M260.7,135.2v1.9M305.55,135.2v1.9M350.4,135.2v1.9M395.25,135.2v1.9M440.1,135.2v1.9M269.67,135.2v1.1M278.64,135.2v1.1M287.61,135.2v1.1M296.58,135.2v1.1M314.52,135.2v1.1M323.49,135.2v1.1M332.46,135.2v1.1M341.43,135.2v1.1M359.37,135.2v1.1M368.34,135.2v1.1M377.31,135.2v1.1M386.28,135.2v1.1M404.22,135.2v1.1M413.19,135.2v1.1M422.16,135.2v1.1M431.13,135.2v1.1M260.7,135.2h-1.9M260.7,106.2h-1.9M260.7,77.2h-1.9M260.7,48.2h-1.9M260.7,19.2h-1.9M260.7,129.4h-1.1M260.7,123.6h-1.1M260.7,117.8h-1.1M260.7,112h-1.1M260.7,100.4h-1.1M260.7,94.6h-1.1M260.7,88.8h-1.1M260.7,83h-1.1M260.7,71.4h-1.1M260.7,65.6h-1.1M260.7,59.8h-1.1M260.7,54h-1.1M260.7,42.4h-1.1M260.7,36.6h-1.1M260.7,30.8h-1.1M260.7,25h-1.1M260.7,13.4h-1.1M260.7,7.6h-1.1" fill="none" stroke="#111" stroke-width="0.5"/>
<text transform="translate(260.7,144) scale(0.9,1)" text-anchor="middle" class="tk">0</text>
<text transform="translate(305.55,144) scale(0.9,1)" text-anchor="middle" class="tk">400</text>
<text transform="translate(350.4,144) scale(0.9,1)" text-anchor="middle" class="tk">800</text>
<text transform="translate(395.25,144) scale(0.9,1)" text-anchor="middle" class="tk">1200</text>
<text transform="translate(440.1,144) scale(0.9,1)" text-anchor="middle" class="tk">1600</text>
<text transform="translate(256.5,137.7) scale(0.9,1)" text-anchor="end" class="tk">0</text>
<text transform="translate(256.5,108.7) scale(0.9,1)" text-anchor="end" class="tk">40</text>
<text transform="translate(256.5,79.7) scale(0.9,1)" text-anchor="end" class="tk">80</text>
<text transform="translate(256.5,50.7) scale(0.9,1)" text-anchor="end" class="tk">120</text>
<text transform="translate(256.5,21.7) scale(0.9,1)" text-anchor="end" class="tk">160</text>
<text transform="translate(350.4,151.6) scale(0.85,1)" text-anchor="middle" class="lb">Mass [kDa]</text>
<text transform="translate(244.5,69.2) rotate(-90) scale(0.85,1)" text-anchor="middle" class="lb">Counts</text>
<rect x="341.4" y="4.6" width="96.2" height="8.3" rx="0.9" fill="#fff" fill-opacity="0.8" stroke="#d0d0d0" stroke-width="0.5"/>
<rect x="343.2" y="6.55" width="10" height="3.4" fill="#0173b2" fill-opacity="0.5" stroke="#0173b2" stroke-width="0.6"/>
<text x="359.4" y="10.25" class="lg">αSO + NBg1-NabFab (1:3)</text>
<text x="296" y="12.3" text-anchor="middle" class="an">133</text>
<text x="296" y="16.6" text-anchor="middle" class="an">σ 24</text>
<text x="296" y="20.9" text-anchor="middle" class="an">1699 counts (43%)</text>
<text x="296" y="25.2" text-anchor="middle" class="an">Skewness: 0.000</text>
<text x="318.5" y="91.8" text-anchor="middle" class="an">514</text>
<text x="318.5" y="96.1" text-anchor="middle" class="an">σ 262</text>
<text x="318.5" y="100.4" text-anchor="middle" class="an">2267 counts (57%)</text>
<text x="318.5" y="104.7" text-anchor="middle" class="an">Skewness: 0.852</text>
<path d="M505.47,135.1V134.1H506.03V131.09H506.6V133.09H507.16V130.09H507.72V129.08H508.28V122.06H508.84V110.03H509.41V108.02H509.97V93.98H510.53V79.94H511.09V78.93H511.65V55.86H512.22V46.84H512.78V49.84H513.34V33.8H513.9V23.77H514.47V26.78H515.03V32.79H515.59V47.84H516.15V59.88H516.71V54.86H517.28V78.93H517.84V84.95H518.4V106.01H518.96V105.01H519.53V109.02H520.09V107.02H520.65V113.03H521.21V116.04H521.77V114.04H522.34V114.04H522.9V112.03H523.46V103H524.02V106.01H524.59V107.02H525.15V98.99H525.71V103H526.27V95.98H526.83V95.98H527.4V102H527.96V101H528.52V83.95H529.08V94.98H529.64V79.94H530.21V90.97H530.77V85.95H531.33V90.97H531.89V89.97H532.46V97.99H533.02V86.96H533.58V90.97H534.14V83.95H534.7V87.96H535.27V90.97H535.83V68.9H536.39V72.91H536.95V82.94H537.52V87.96H538.08V85.95H538.64V83.95H539.2V96.99H539.76V82.94H540.33V84.95H540.89V80.94H541.45V83.95H542.01V83.95H542.58V103H543.14V98.99H543.7V101H544.26V103H544.82V87.96H545.39V93.98H545.95V97.99H546.51V100H547.07V95.98H547.63V105.01H548.2V110.03H548.76V100H549.32V100H549.88V112.03H550.45V101H551.01V106.01H551.57V106.01H552.13V107.02H552.69V105.01H553.26V112.03H553.82V115.04H554.38V109.02H554.94V113.03H555.51V113.03H556.07V118.05H556.63V118.05H557.19V109.02H557.75V116.04H558.32V118.05H558.88V117.05H559.44V114.04H560V121.06H560.57V120.05H561.13V121.06H561.69V110.03H562.25V118.05H562.81V115.04H563.38V117.05H563.94V118.05H564.5V115.04H565.06V123.06H565.62V115.04H566.19V120.05H566.75V122.06H567.31V115.04H567.87V112.03H568.44V115.04H569V117.05H569.56V116.04H570.12V120.05H570.68V119.05H571.25V119.05H571.81V121.06H572.37V115.04H572.93V115.04H573.5V125.07H574.06V121.06H574.62V120.05H575.18V118.05H575.74V121.06H576.31V124.07H576.87V126.07H577.43V122.06H577.99V127.08H578.56V130.09H579.12V125.07H579.68V125.07H580.24V128.08H580.8V123.06H581.37V125.07H581.93V123.06H582.49V128.08H583.05V130.09H583.61V130.09H584.18V124.07H584.74V127.08H585.3V129.08H585.86V128.08H586.43V127.08H586.99V130.09H587.55V128.08H588.11V130.09H588.67V129.08H589.24V130.09H589.8V130.09H590.36V133.09H590.92V131.09H591.49V128.08H592.05V132.09H592.61V132.09H593.17V132.09H593.73V133.09H594.3V134.1H594.86V133.09H595.42V131.09H595.98V130.09H596.54V130.09H597.11V134.1H597.67V129.08H598.23V134.1H598.79V130.09H599.36V134.1H599.92V132.09H600.48V131.09H601.04V133.09H601.6V132.09H602.17V132.09H602.73V132.09H603.29V133.09H603.85V132.09H604.42V131.09H604.98V130.09H605.54V134.1H606.1V131.09H606.66V132.09H607.23V134.1H607.79V134.1H608.35V134.1H608.91V133.09H609.48V132.09H610.04V135.1H610.6V133.09H611.16V134.1H611.72V132.09H612.29V132.09H612.85V133.09H613.41V132.09H613.97V134.1H614.53V135.1H615.1V131.09H615.66V131.09H616.22V134.1H616.78V134.1H617.35V133.09H617.91V132.09H618.47V133.09H619.03V134.1H619.59V133.09H620.16V134.1H620.72V133.09H621.28V134.1H621.84V133.09H622.41V135.1H622.97V132.09H623.53V135.1H624.09V132.09H624.65V132.09H625.22V134.1H625.78V133.09H626.34V135.1H626.9V135.1H627.47V134.1H628.03V135.1H628.59V135.1H629.15V134.1H629.71V134.1H630.28V135.1H630.84V133.09H631.4V133.09H631.96V132.09H632.52V134.1H633.09V133.09H633.65V135.1H634.21V133.09H634.77V133.09H635.34V134.1H635.9V135.1H636.46V133.09H637.02V133.09H637.58V134.1H638.15V133.09H638.71V134.1H639.27V133.09H639.83V133.09H640.4V132.09H640.96V133.09H641.52V133.09H642.08V134.1H642.64V135.1H643.21V135.1H643.77V133.09H644.33V134.1H644.89V135.1H645.46V135.1H646.02V135.1H646.58V134.1H647.14V135.1H647.7V134.1H648.27V135.1H648.83V133.09H649.39V134.1H649.95V134.1H650.51V135.1H651.08V135.1H651.64V133.09H652.2V134.1H652.76V134.1H653.33V135.1H653.89V135.1H654.45V134.1H655.01V132.09H655.57V134.1H656.14V134.1H656.7V135.1H657.26V135.1H657.82V135.1H658.39V134.1H658.95V135.1H659.51V135.1H660.07V135.1H660.63V135.1H661.2V134.1H661.76V135.1H662.32V134.1H662.88V135.1H663.45V132.09H664.01V135.1H664.57V135.1H665.13V135.1H665.69V135.1H666.26V135.1H666.82V134.1H667.38V135.1H667.94V134.1H668.5V135.1H669.07V135.1H669.63V133.09H670.19V134.1H670.75V135.1H671.32V133.09H671.88V134.1H672.44V134.1H673V135.1H673.56V133.09H674.13V134.1H674.69V135.1H675.25V133.09H675.81V134.1H676.38V135.1H676.94V134.1H677.5V135.1Z" fill="#0173b2" fill-opacity="0.5" stroke="#0173b2" stroke-width="0.6" stroke-opacity="1" stroke-linejoin="miter"/>
<path d="M503.22,135.07L503.67,135.03L504.12,134.98L504.57,134.88L505.02,134.7L505.47,134.42L505.92,133.96L506.37,133.25L506.82,132.18L507.27,130.6L507.72,128.38L508.17,125.32L508.62,121.25L509.07,116.04L509.52,109.59L509.97,101.89L510.42,93.04L510.87,83.3L511.32,73.05L511.77,62.81L512.22,53.18L512.67,44.82L513.12,38.32L513.57,34.21L514.02,32.79L514.47,34.21L514.92,38.32L515.37,44.82L515.81,53.18L516.26,62.81L516.71,73.05L517.16,83.3L517.61,93.04L518.06,101.89L518.51,109.59L518.96,116.04L519.41,121.25L519.86,125.32L520.31,128.38L520.76,130.6L521.21,132.18L521.66,133.25L522.11,133.96L522.56,134.42L523.01,134.7L523.46,134.88L523.91,134.98L524.36,135.03L524.81,135.07" fill="none" stroke="#0b2a45" stroke-width="0.3" stroke-opacity="0.8"/>
<path d="M497.6,135.1L498.05,135.1L498.5,135.1L498.95,135.1L499.4,135.1L499.85,135.1L500.3,135.1L500.75,135.1L501.2,135.1L501.65,135.1L502.1,135.1L502.55,135.1L503,135.1L503.45,135.1L503.9,135.1L504.35,135.1L504.8,135.08L505.25,135.04L505.7,134.96L506.15,134.85L506.6,134.73L507.04,134.58L507.49,134.41L507.94,134.23L508.39,134.04L508.84,133.83L509.29,133.62L509.74,133.4L510.19,133.18L510.64,132.9L511.09,132.57L511.54,132.2L511.99,131.79L512.44,131.34L512.89,130.87L513.34,130.37L513.79,129.86L514.24,129.34L514.69,128.81L515.14,128.25L515.59,127.63L516.04,126.98L516.49,126.29L516.94,125.58L517.39,124.83L517.84,124.07L518.29,123.25L518.74,122.36L519.19,121.43L519.64,120.48L520.09,119.55L520.54,118.68L520.99,117.81L521.44,116.82L521.89,115.59L522.34,114.08L522.79,112.43L523.24,110.79L523.69,109.28L524.14,107.77L524.59,106.25L525.03,104.75L525.48,103.3L525.93,101.91L526.38,100.61L526.83,99.4L527.28,98.21L527.73,97.04L528.18,95.89L528.63,94.78L529.08,93.72L529.53,92.72L529.98,91.78L530.43,90.92L530.88,90.14L531.33,89.46L531.78,88.85L532.23,88.27L532.68,87.72L533.13,87.22L533.58,86.78L534.03,86.39L534.48,86.08L534.93,85.84L535.38,85.6L535.83,85.39L536.28,85.2L536.73,85.06L537.18,84.97L537.63,84.96L538.08,85.13L538.53,85.5L538.98,86.01L539.43,86.62L539.88,87.29L540.33,87.96L540.78,88.75L541.23,89.75L541.68,90.85L542.13,91.96L542.58,92.97L543.02,93.9L543.47,94.81L543.92,95.71L544.37,96.58L544.82,97.44L545.27,98.28L545.72,99.09L546.17,99.89L546.62,100.69L547.07,101.48L547.52,102.25L547.97,103L548.42,103.73L548.87,104.42L549.32,105.06L549.77,105.66L550.22,106.21L550.67,106.74L551.12,107.25L551.57,107.74L552.02,108.21L552.47,108.66L552.92,109.11L553.37,109.54L553.82,109.97L554.27,110.39L554.72,110.82L555.17,111.24L555.62,111.68L556.07,112.13L556.52,112.57L556.97,113.01L557.42,113.44L557.87,113.84L558.32,114.21L558.77,114.55L559.22,114.85L559.67,115.1L560.12,115.32L560.57,115.52L561.01,115.71L561.46,115.88L561.91,116.04L562.36,116.2L562.81,116.34L563.26,116.48L563.71,116.62L564.16,116.76L564.61,116.9L565.06,117.05L565.51,117.19L565.96,117.31L566.41,117.43L566.86,117.55L567.31,117.67L567.76,117.79L568.21,117.92L568.66,118.06L569.11,118.22L569.56,118.4L570.01,118.61L570.46,118.85L570.91,119.12L571.36,119.41L571.81,119.72L572.26,120.04L572.71,120.38L573.16,120.72L573.61,121.07L574.06,121.41L574.51,121.74L574.96,122.1L575.41,122.48L575.86,122.87L576.31,123.28L576.76,123.68L577.21,124.09L577.66,124.48L578.11,124.86L578.56,125.22L579,125.55L579.45,125.84L579.9,126.12L580.35,126.4L580.8,126.67L581.25,126.93L581.7,127.19L582.15,127.44L582.6,127.69L583.05,127.92L583.5,128.15L583.95,128.37L584.4,128.59L584.85,128.79L585.3,128.98L585.75,129.16L586.2,129.34L586.65,129.5L587.1,129.65L587.55,129.78L588,129.91L588.45,130.04L588.9,130.16L589.35,130.28L589.8,130.39L590.25,130.5L590.7,130.61L591.15,130.71L591.6,130.81L592.05,130.91L592.5,131.01L592.95,131.1L593.4,131.19L593.85,131.27L594.3,131.35L594.75,131.44L595.2,131.51L595.65,131.59L596.1,131.66L596.54,131.73L596.99,131.8L597.44,131.87L597.89,131.94L598.34,132L598.79,132.06L599.24,132.12L599.69,132.18L600.14,132.24L600.59,132.29L601.04,132.35L601.49,132.4L601.94,132.45L602.39,132.5L602.84,132.55L603.29,132.6L603.74,132.64L604.19,132.69L604.64,132.73L605.09,132.77L605.54,132.81L605.99,132.85L606.44,132.89L606.89,132.93L607.34,132.97L607.79,133.01L608.24,133.04L608.69,133.08L609.14,133.11L609.59,133.14L610.04,133.18L610.49,133.21L610.94,133.24L611.39,133.27L611.84,133.3L612.29,133.33L612.74,133.36L613.19,133.39L613.64,133.42L614.09,133.45L614.53,133.47L614.98,133.5L615.43,133.53L615.88,133.55L616.33,133.57L616.78,133.6L617.23,133.62L617.68,133.64L618.13,133.66L618.58,133.69L619.03,133.71L619.48,133.73L619.93,133.75L620.38,133.77L620.83,133.78L621.28,133.8L621.73,133.82L622.18,133.84L622.63,133.86L623.08,133.88L623.53,133.9L623.98,133.91L624.43,133.93L624.88,133.95L625.33,133.97L625.78,133.98L626.23,134L626.68,134.02L627.13,134.03L627.58,134.05L628.03,134.07L628.48,134.08L628.93,134.1L629.38,134.11L629.83,134.12L630.28,134.14L630.73,134.15L631.18,134.17L631.63,134.18L632.08,134.19L632.52,134.2L632.97,134.22L633.42,134.23L633.87,134.24L634.32,134.25L634.77,134.26L635.22,134.27L635.67,134.28L636.12,134.29L636.57,134.3L637.02,134.31L637.47,134.31L637.92,134.32L638.37,134.33L638.82,134.34L639.27,134.35L639.72,134.36L640.17,134.37L640.62,134.37L641.07,134.38L641.52,134.39L641.97,134.4L642.42,134.41L642.87,134.42L643.32,134.42L643.77,134.43L644.22,134.44L644.67,134.45L645.12,134.46L645.57,134.46L646.02,134.47L646.47,134.48L646.92,134.49L647.37,134.5L647.82,134.5L648.27,134.51L648.72,134.52L649.17,134.53L649.62,134.53L650.07,134.54L650.51,134.55L650.96,134.56L651.41,134.56L651.86,134.57L652.31,134.58L652.76,134.58L653.21,134.59L653.66,134.6L654.11,134.6L654.56,134.61L655.01,134.62L655.46,134.62L655.91,134.63L656.36,134.64L656.81,134.64L657.26,134.65L657.71,134.66L658.16,134.66L658.61,134.67L659.06,134.67L659.51,134.68L659.96,134.68L660.41,134.69L660.86,134.69L661.31,134.7L661.76,134.71L662.21,134.71L662.66,134.71L663.11,134.72L663.56,134.72L664.01,134.73L664.46,134.73L664.91,134.74L665.36,134.74L665.81,134.75L666.26,134.75L666.71,134.75L667.16,134.76L667.61,134.76L668.06,134.76L668.5,134.77L668.95,134.77L669.4,134.77L669.85,134.78L670.3,134.78L670.75,134.78L671.2,134.78L671.65,134.79L672.1,134.79L672.55,134.79L673,134.79L673.45,134.79L673.9,134.79L674.35,134.79L674.8,134.8L675.25,134.8L675.7,134.8L676.15,134.8L676.6,134.8L677.05,134.8L677.5,134.8" fill="none" stroke="#0b2a45" stroke-width="0.3" stroke-opacity="0.8"/>
<path d="M497.6,135.1L498.05,135.1L498.5,135.1L498.95,135.1L499.4,135.1L499.85,135.1L500.3,135.1L500.75,135.1L501.2,135.1L501.65,135.1L502.1,135.09L502.55,135.09L503,135.08L503.45,135.05L503.9,135.01L504.35,134.93L504.8,134.78L505.25,134.51L505.7,134.08L506.15,133.4L506.6,132.4L507.04,130.94L507.49,128.9L507.94,126.09L508.39,122.36L508.84,117.53L509.29,111.5L509.74,104.19L510.19,95.67L510.64,86.06L511.09,75.68L511.54,64.99L511.99,54.56L512.44,45.04L512.89,37.07L513.34,31.21L513.79,27.91L514.24,27.39L514.69,29.66L515.14,34.45L515.59,41.33L516.04,49.76L516.49,59.08L516.94,68.68L517.39,77.99L517.84,86.56L518.29,94.04L518.74,100.23L519.19,105.13L519.64,108.8L520.09,111.41L520.54,113.16L520.99,114.17L521.44,114.49L521.89,114.13L522.34,113.19L522.79,111.91L523.24,110.5L523.69,109.11L524.14,107.68L524.59,106.2L525.03,104.73L525.48,103.29L525.93,101.9L526.38,100.6L526.83,99.4L527.28,98.21L527.73,97.04L528.18,95.89L528.63,94.78L529.08,93.72L529.53,92.72L529.98,91.78L530.43,90.92L530.88,90.14L531.33,89.46L531.78,88.85L532.23,88.27L532.68,87.72L533.13,87.22L533.58,86.78L534.03,86.39L534.48,86.08L534.93,85.84L535.38,85.6L535.83,85.39L536.28,85.2L536.73,85.06L537.18,84.97L537.63,84.96L538.08,85.13L538.53,85.5L538.98,86.01L539.43,86.62L539.88,87.29L540.33,87.96L540.78,88.75L541.23,89.75L541.68,90.85L542.13,91.96L542.58,92.97L543.02,93.9L543.47,94.81L543.92,95.71L544.37,96.58L544.82,97.44L545.27,98.28L545.72,99.09L546.17,99.89L546.62,100.69L547.07,101.48L547.52,102.25L547.97,103L548.42,103.73L548.87,104.42L549.32,105.06L549.77,105.66L550.22,106.21L550.67,106.74L551.12,107.25L551.57,107.74L552.02,108.21L552.47,108.66L552.92,109.11L553.37,109.54L553.82,109.97L554.27,110.39L554.72,110.82L555.17,111.24L555.62,111.68L556.07,112.13L556.52,112.57L556.97,113.01L557.42,113.44L557.87,113.84L558.32,114.21L558.77,114.55L559.22,114.85L559.67,115.1L560.12,115.32L560.57,115.52L561.01,115.71L561.46,115.88L561.91,116.04L562.36,116.2L562.81,116.34L563.26,116.48L563.71,116.62L564.16,116.76L564.61,116.9L565.06,117.05L565.51,117.19L565.96,117.31L566.41,117.43L566.86,117.55L567.31,117.67L567.76,117.79L568.21,117.92L568.66,118.06L569.11,118.22L569.56,118.4L570.01,118.61L570.46,118.85L570.91,119.12L571.36,119.41L571.81,119.72L572.26,120.04L572.71,120.38L573.16,120.72L573.61,121.07L574.06,121.41L574.51,121.74L574.96,122.1L575.41,122.48L575.86,122.87L576.31,123.28L576.76,123.68L577.21,124.09L577.66,124.48L578.11,124.86L578.56,125.22L579,125.55L579.45,125.84L579.9,126.12L580.35,126.4L580.8,126.67L581.25,126.93L581.7,127.19L582.15,127.44L582.6,127.69L583.05,127.92L583.5,128.15L583.95,128.37L584.4,128.59L584.85,128.79L585.3,128.98L585.75,129.16L586.2,129.34L586.65,129.5L587.1,129.65L587.55,129.78L588,129.91L588.45,130.04L588.9,130.16L589.35,130.28L589.8,130.39L590.25,130.5L590.7,130.61L591.15,130.71L591.6,130.81L592.05,130.91L592.5,131.01L592.95,131.1L593.4,131.19L593.85,131.27L594.3,131.35L594.75,131.44L595.2,131.51L595.65,131.59L596.1,131.66L596.54,131.73L596.99,131.8L597.44,131.87L597.89,131.94L598.34,132L598.79,132.06L599.24,132.12L599.69,132.18L600.14,132.24L600.59,132.29L601.04,132.35L601.49,132.4L601.94,132.45L602.39,132.5L602.84,132.55L603.29,132.6L603.74,132.64L604.19,132.69L604.64,132.73L605.09,132.77L605.54,132.81L605.99,132.85L606.44,132.89L606.89,132.93L607.34,132.97L607.79,133.01L608.24,133.04L608.69,133.08L609.14,133.11L609.59,133.14L610.04,133.18L610.49,133.21L610.94,133.24L611.39,133.27L611.84,133.3L612.29,133.33L612.74,133.36L613.19,133.39L613.64,133.42L614.09,133.45L614.53,133.47L614.98,133.5L615.43,133.53L615.88,133.55L616.33,133.57L616.78,133.6L617.23,133.62L617.68,133.64L618.13,133.66L618.58,133.69L619.03,133.71L619.48,133.73L619.93,133.75L620.38,133.77L620.83,133.78L621.28,133.8L621.73,133.82L622.18,133.84L622.63,133.86L623.08,133.88L623.53,133.9L623.98,133.91L624.43,133.93L624.88,133.95L625.33,133.97L625.78,133.98L626.23,134L626.68,134.02L627.13,134.03L627.58,134.05L628.03,134.07L628.48,134.08L628.93,134.1L629.38,134.11L629.83,134.12L630.28,134.14L630.73,134.15L631.18,134.17L631.63,134.18L632.08,134.19L632.52,134.2L632.97,134.22L633.42,134.23L633.87,134.24L634.32,134.25L634.77,134.26L635.22,134.27L635.67,134.28L636.12,134.29L636.57,134.3L637.02,134.31L637.47,134.31L637.92,134.32L638.37,134.33L638.82,134.34L639.27,134.35L639.72,134.36L640.17,134.37L640.62,134.37L641.07,134.38L641.52,134.39L641.97,134.4L642.42,134.41L642.87,134.42L643.32,134.42L643.77,134.43L644.22,134.44L644.67,134.45L645.12,134.46L645.57,134.46L646.02,134.47L646.47,134.48L646.92,134.49L647.37,134.5L647.82,134.5L648.27,134.51L648.72,134.52L649.17,134.53L649.62,134.53L650.07,134.54L650.51,134.55L650.96,134.56L651.41,134.56L651.86,134.57L652.31,134.58L652.76,134.58L653.21,134.59L653.66,134.6L654.11,134.6L654.56,134.61L655.01,134.62L655.46,134.62L655.91,134.63L656.36,134.64L656.81,134.64L657.26,134.65L657.71,134.66L658.16,134.66L658.61,134.67L659.06,134.67L659.51,134.68L659.96,134.68L660.41,134.69L660.86,134.69L661.31,134.7L661.76,134.71L662.21,134.71L662.66,134.71L663.11,134.72L663.56,134.72L664.01,134.73L664.46,134.73L664.91,134.74L665.36,134.74L665.81,134.75L666.26,134.75L666.71,134.75L667.16,134.76L667.61,134.76L668.06,134.76L668.5,134.77L668.95,134.77L669.4,134.77L669.85,134.78L670.3,134.78L670.75,134.78L671.2,134.78L671.65,134.79L672.1,134.79L672.55,134.79L673,134.79L673.45,134.79L673.9,134.79L674.35,134.79L674.8,134.8L675.25,134.8L675.7,134.8L676.15,134.8L676.6,134.8L677.05,134.8L677.5,134.8" fill="none" stroke="#0b2238" stroke-width="0.6"/>
<path d="M497.6,2V135.1H677.5" fill="none" stroke="#333" stroke-width="0.75"/>
<path d="M497.6,135.1v1.9M542.58,135.1v1.9M587.55,135.1v1.9M632.52,135.1v1.9M677.5,135.1v1.9M506.6,135.1v1.1M515.59,135.1v1.1M524.59,135.1v1.1M533.58,135.1v1.1M551.57,135.1v1.1M560.57,135.1v1.1M569.56,135.1v1.1M578.56,135.1v1.1M596.54,135.1v1.1M605.54,135.1v1.1M614.53,135.1v1.1M623.53,135.1v1.1M641.52,135.1v1.1M650.51,135.1v1.1M659.51,135.1v1.1M668.5,135.1v1.1M497.6,135.1h-1.9M497.6,105.01h-1.9M497.6,74.92h-1.9M497.6,44.83h-1.9M497.6,14.74h-1.9M497.6,129.08h-1.1M497.6,123.06h-1.1M497.6,117.05h-1.1M497.6,111.03h-1.1M497.6,98.99h-1.1M497.6,92.97h-1.1M497.6,86.96h-1.1M497.6,80.94h-1.1M497.6,68.9h-1.1M497.6,62.88h-1.1M497.6,56.87h-1.1M497.6,50.85h-1.1M497.6,38.81h-1.1M497.6,32.79h-1.1M497.6,26.78h-1.1M497.6,20.76h-1.1M497.6,8.72h-1.1M497.6,2.7h-1.1" fill="none" stroke="#111" stroke-width="0.5"/>
<text transform="translate(497.6,143.9) scale(0.9,1)" text-anchor="middle" class="tk">0</text>
<text transform="translate(542.58,143.9) scale(0.9,1)" text-anchor="middle" class="tk">400</text>
<text transform="translate(587.55,143.9) scale(0.9,1)" text-anchor="middle" class="tk">800</text>
<text transform="translate(632.52,143.9) scale(0.9,1)" text-anchor="middle" class="tk">1200</text>
<text transform="translate(677.5,143.9) scale(0.9,1)" text-anchor="middle" class="tk">1600</text>
<text transform="translate(493.4,137.6) scale(0.9,1)" text-anchor="end" class="tk">0</text>
<text transform="translate(493.4,107.51) scale(0.9,1)" text-anchor="end" class="tk">30</text>
<text transform="translate(493.4,77.42) scale(0.9,1)" text-anchor="end" class="tk">60</text>
<text transform="translate(493.4,47.33) scale(0.9,1)" text-anchor="end" class="tk">90</text>
<text transform="translate(493.4,17.24) scale(0.9,1)" text-anchor="end" class="tk">120</text>
<text transform="translate(587.55,151.5) scale(0.85,1)" text-anchor="middle" class="lb">Mass [kDa]</text>
<text transform="translate(481.8,69.15) rotate(-90) scale(0.85,1)" text-anchor="middle" class="lb">Counts</text>
<rect x="586.3" y="12.9" width="93" height="8.4" rx="0.9" fill="#fff" fill-opacity="0.8" stroke="#d0d0d0" stroke-width="0.5"/>
<rect x="588.5" y="14.9" width="10" height="3.4" fill="#0173b2" fill-opacity="0.5" stroke="#0173b2" stroke-width="0.6"/>
<text x="605.9" y="18.6" class="lg">αSO + NBg1-NabFab (1:10)</text>
<text x="518.2" y="5.4" text-anchor="middle" class="an">146</text>
<text x="518.2" y="9.7" text-anchor="middle" class="an">σ 24</text>
<text x="518.2" y="14" text-anchor="middle" class="an">1237 counts (26%)</text>
<text x="518.2" y="18.3" text-anchor="middle" class="an">Skewness: 0.000</text>
<text x="544" y="50" text-anchor="middle" class="an">484</text>
<text x="544" y="54.3" text-anchor="middle" class="an">σ 209</text>
<text x="544" y="58.6" text-anchor="middle" class="an">3556 counts (73%)</text>
<text x="544" y="62.9" text-anchor="middle" class="an">Skewness: 0.769</text>
<path d="M29.41,314.7V313.48H29.96V314.7H30.52V309.83H31.08V311.05H31.64V308.61H32.2V307.39H32.76V306.17H33.32V300.08H33.88V286.69H34.43V269.63H34.99V257.45H35.55V248.93H36.11V245.27H36.67V240.4H37.23V202.64H37.79V202.64H38.34V207.52H38.9V212.39H39.46V235.53H40.02V224.57H40.58V230.66H41.14V262.33H41.7V273.29H42.26V284.25H42.81V301.3H43.37V296.43H43.93V300.08H44.49V302.52H45.05V307.39H45.61V307.39H46.17V313.48H46.73V308.61H47.28V309.83H47.84V306.17H48.4V304.96H48.96V303.74H49.52V302.52H50.08V297.65H50.64V293.99H51.2V302.52H51.75V300.08H52.31V298.87H52.87V290.34H53.43V286.69H53.99V290.34H54.55V287.9H55.11V284.25H55.67V285.47H56.22V285.47H56.78V279.38H57.34V280.6H57.9V287.9H58.46V278.16H59.02V274.51H59.58V272.07H60.14V279.38H60.69V285.47H61.25V248.93H61.81V278.16H62.37V272.07H62.93V261.11H63.49V268.42H64.05V251.36H64.61V261.11H65.17V237.97H65.72V268.42H66.28V255.02H66.84V274.51H67.4V258.67H67.96V251.36H68.52V273.29H69.08V257.45H69.64V233.09H70.19V244.06H70.75V264.76H71.31V269.63H71.87V253.8H72.43V247.71H72.99V263.54H73.55V247.71H74.11V248.93H74.66V256.24H75.22V268.42H75.78V257.45H76.34V269.63H76.9V261.11H77.46V257.45H78.02V242.84H78.58V262.33H79.13V265.98H79.69V272.07H80.25V265.98H80.81V268.42H81.37V263.54H81.93V268.42H82.49V272.07H83.05V269.63H83.6V289.12H84.16V279.38H84.72V274.51H85.28V280.6H85.84V276.94H86.4V283.03H86.96V284.25H87.52V281.81H88.07V286.69H88.63V285.47H89.19V275.72H89.75V274.51H90.31V289.12H90.87V289.12H91.43V283.03H91.98V286.69H92.54V296.43H93.1V286.69H93.66V296.43H94.22V297.65H94.78V297.65H95.34V286.69H95.9V297.65H96.45V297.65H97.01V302.52H97.57V284.25H98.13V298.87H98.69V285.47H99.25V296.43H99.81V287.9H100.37V301.3H100.93V289.12H101.48V295.21H102.04V292.78H102.6V296.43H103.16V293.99H103.72V287.9H104.28V296.43H104.84V296.43H105.4V303.74H105.95V293.99H106.51V286.69H107.07V292.78H107.63V301.3H108.19V301.3H108.75V297.65H109.31V292.78H109.87V297.65H110.42V296.43H110.98V295.21H111.54V300.08H112.1V283.03H112.66V286.69H113.22V284.25H113.78V293.99H114.34V290.34H114.89V292.78H115.45V296.43H116.01V300.08H116.57V285.47H117.13V302.52H117.69V298.87H118.25V303.74H118.81V286.69H119.36V295.21H119.92V298.87H120.48V306.17H121.04V303.74H121.6V301.3H122.16V301.3H122.72V292.78H123.28V292.78H123.83V304.96H124.39V297.65H124.95V304.96H125.51V309.83H126.07V300.08H126.63V293.99H127.19V307.39H127.75V301.3H128.3V300.08H128.86V293.99H129.42V301.3H129.98V304.96H130.54V296.43H131.1V312.26H131.66V302.52H132.22V309.83H132.77V304.96H133.33V311.05H133.89V307.39H134.45V307.39H135.01V309.83H135.57V297.65H136.13V311.05H136.69V298.87H137.24V304.96H137.8V304.96H138.36V303.74H138.92V308.61H139.48V312.26H140.04V300.08H140.6V304.96H141.16V308.61H141.71V309.83H142.27V304.96H142.83V312.26H143.39V307.39H143.95V312.26H144.51V313.48H145.07V307.39H145.62V307.39H146.18V309.83H146.74V302.52H147.3V309.83H147.86V309.83H148.42V311.05H148.98V311.05H149.54V308.61H150.09V309.83H150.65V309.83H151.21V312.26H151.77V308.61H152.33V309.83H152.89V312.26H153.45V307.39H154.01V308.61H154.56V309.83H155.12V311.05H155.68V307.39H156.24V308.61H156.8V304.96H157.36V308.61H157.92V307.39H158.48V311.05H159.03V312.26H159.59V311.05H160.15V311.05H160.71V308.61H161.27V311.05H161.83V312.26H162.39V311.05H162.95V311.05H163.5V311.05H164.06V311.05H164.62V311.05H165.18V309.83H165.74V311.05H166.3V308.61H166.86V306.17H167.42V308.61H167.97V312.26H168.53V313.48H169.09V313.48H169.65V312.26H170.21V311.05H170.77V308.61H171.33V309.83H171.89V314.7H172.44V308.61H173V314.7H173.56V311.05H174.12V311.05H174.68V311.05H175.24V312.26H175.8V311.05H176.36V307.39H176.91V314.7H177.47V312.26H178.03V312.26H178.59V312.26H179.15V312.26H179.71V307.39H180.27V312.26H180.83V313.48H181.38V311.05H181.94V309.83H182.5V311.05H183.06V313.48H183.62V312.26H184.18V312.26H184.74V313.48H185.3V311.05H185.85V312.26H186.41V313.48H186.97V314.7H187.53V312.26H188.09V311.05H188.65V312.26H189.21V313.48H189.77V312.26H190.32V309.83H190.88V312.26H191.44V311.05H192V312.26H192.56V311.05H193.12V311.05H193.68V314.7H194.24V313.48H194.79V312.26H195.35V314.7H195.91V312.26H196.47V309.83H197.03V309.83H197.59V313.48H198.15V311.05H198.71V313.48H199.26V314.7H199.82V311.05H200.38V308.61H200.94V314.7Z" fill="#0173b2" fill-opacity="0.5" stroke="#0173b2" stroke-width="0.6" stroke-opacity="1" stroke-linejoin="miter"/>
<path d="M27.73,314.67L28.18,314.63L28.62,314.58L29.07,314.48L29.52,314.31L29.96,314.03L30.41,313.58L30.86,312.87L31.3,311.81L31.75,310.26L32.2,308.06L32.65,305.03L33.09,301.02L33.54,295.87L33.99,289.49L34.43,281.88L34.88,273.14L35.33,263.51L35.77,253.38L36.22,243.26L36.67,233.75L37.12,225.48L37.56,219.07L38.01,215L38.46,213.61L38.9,215L39.35,219.07L39.8,225.48L40.24,233.75L40.69,243.26L41.14,253.38L41.59,263.51L42.03,273.14L42.48,281.88L42.93,289.49L43.37,295.87L43.82,301.02L44.27,305.03L44.71,308.06L45.16,310.26L45.61,311.81L46.06,312.87L46.5,313.58L46.95,314.03L47.4,314.31L47.84,314.48L48.29,314.58L48.74,314.63L49.18,314.67" fill="none" stroke="#0b2a45" stroke-width="0.3" stroke-opacity="0.8"/>
<path d="M22.7,314.7L23.15,314.7L23.59,314.7L24.04,314.7L24.49,314.7L24.93,314.7L25.38,314.7L25.83,314.7L26.28,314.7L26.72,314.7L27.17,314.7L27.62,314.7L28.06,314.7L28.51,314.68L28.96,314.63L29.41,314.58L29.85,314.53L30.3,314.47L30.75,314.4L31.19,314.33L31.64,314.26L32.09,314.18L32.53,314.1L32.98,314.02L33.43,313.94L33.88,313.85L34.32,313.76L34.77,313.66L35.22,313.55L35.66,313.44L36.11,313.33L36.56,313.2L37,313.08L37.45,312.94L37.9,312.8L38.34,312.66L38.79,312.5L39.24,312.35L39.69,312.18L40.13,312.02L40.58,311.85L41.03,311.68L41.47,311.51L41.92,311.32L42.37,311.13L42.81,310.93L43.26,310.72L43.71,310.49L44.16,310.25L44.6,309.99L45.05,309.71L45.5,309.42L45.94,309.1L46.39,308.76L46.84,308.39L47.28,308L47.73,307.52L48.18,306.89L48.63,306.14L49.07,305.28L49.52,304.33L49.97,303.31L50.41,302.23L50.86,301.11L51.31,299.97L51.75,298.83L52.2,297.68L52.65,296.44L53.1,295.1L53.54,293.69L53.99,292.2L54.44,290.67L54.88,289.09L55.33,287.5L55.78,285.89L56.22,284.28L56.67,282.69L57.12,281.13L57.57,279.62L58.01,278.16L58.46,276.72L58.91,275.24L59.35,273.73L59.8,272.22L60.25,270.71L60.69,269.22L61.14,267.75L61.59,266.34L62.04,264.97L62.48,263.68L62.93,262.48L63.38,261.37L63.82,260.36L64.27,259.46L64.72,258.59L65.17,257.76L65.61,256.97L66.06,256.23L66.51,255.55L66.95,254.93L67.4,254.38L67.85,253.91L68.29,253.48L68.74,253.06L69.19,252.67L69.64,252.33L70.08,252.09L70.53,251.98L70.98,252.01L71.42,252.16L71.87,252.4L72.32,252.73L72.76,253.11L73.21,253.53L73.66,253.97L74.11,254.41L74.55,254.88L75,255.42L75.45,256.02L75.89,256.69L76.34,257.41L76.79,258.18L77.23,258.99L77.68,259.83L78.13,260.71L78.58,261.6L79.02,262.52L79.47,263.44L79.92,264.37L80.36,265.29L80.81,266.21L81.26,267.17L81.7,268.18L82.15,269.23L82.6,270.32L83.05,271.42L83.49,272.54L83.94,273.66L84.39,274.78L84.83,275.87L85.28,276.94L85.73,278.02L86.17,279.11L86.62,280.21L87.07,281.26L87.52,282.24L87.96,283.12L88.41,283.94L88.86,284.72L89.3,285.45L89.75,286.15L90.2,286.82L90.64,287.45L91.09,288.05L91.54,288.66L91.98,289.26L92.43,289.86L92.88,290.43L93.33,290.97L93.77,291.46L94.22,291.89L94.67,292.26L95.11,292.53L95.56,292.75L96.01,292.94L96.45,293.12L96.9,293.27L97.35,293.41L97.8,293.53L98.24,293.65L98.69,293.75L99.14,293.85L99.58,293.95L100.03,294.04L100.48,294.12L100.93,294.2L101.37,294.26L101.82,294.32L102.27,294.36L102.71,294.39L103.16,294.42L103.61,294.44L104.05,294.46L104.5,294.48L104.95,294.5L105.4,294.51L105.84,294.53L106.29,294.54L106.74,294.56L107.18,294.58L107.63,294.6L108.08,294.63L108.52,294.65L108.97,294.67L109.42,294.69L109.87,294.71L110.31,294.73L110.76,294.75L111.21,294.77L111.65,294.8L112.1,294.83L112.55,294.86L112.99,294.89L113.44,294.94L113.89,294.98L114.34,295.05L114.78,295.15L115.23,295.28L115.68,295.43L116.12,295.6L116.57,295.79L117.02,295.99L117.46,296.2L117.91,296.42L118.36,296.64L118.81,296.86L119.25,297.07L119.7,297.28L120.15,297.5L120.59,297.72L121.04,297.96L121.49,298.2L121.93,298.45L122.38,298.71L122.83,298.96L123.28,299.22L123.72,299.47L124.17,299.72L124.62,299.97L125.06,300.23L125.51,300.49L125.96,300.75L126.4,301.01L126.85,301.27L127.3,301.53L127.75,301.79L128.19,302.04L128.64,302.29L129.09,302.53L129.53,302.76L129.98,302.99L130.43,303.21L130.87,303.43L131.32,303.65L131.77,303.86L132.22,304.07L132.66,304.27L133.11,304.48L133.56,304.68L134,304.88L134.45,305.08L134.9,305.28L135.34,305.48L135.79,305.69L136.24,305.89L136.69,306.09L137.13,306.29L137.58,306.48L138.03,306.66L138.47,306.84L138.92,307L139.37,307.15L139.81,307.29L140.26,307.43L140.71,307.56L141.16,307.69L141.6,307.82L142.05,307.94L142.5,308.06L142.94,308.18L143.39,308.3L143.84,308.41L144.28,308.52L144.73,308.63L145.18,308.73L145.62,308.83L146.07,308.93L146.52,309.03L146.97,309.12L147.41,309.22L147.86,309.31L148.31,309.39L148.75,309.48L149.2,309.56L149.65,309.65L150.09,309.73L150.54,309.81L150.99,309.89L151.44,309.96L151.88,310.04L152.33,310.11L152.78,310.18L153.22,310.26L153.67,310.33L154.12,310.39L154.56,310.46L155.01,310.52L155.46,310.59L155.91,310.65L156.35,310.71L156.8,310.77L157.25,310.83L157.69,310.88L158.14,310.93L158.59,310.98L159.03,311.03L159.48,311.08L159.93,311.13L160.38,311.18L160.82,311.22L161.27,311.27L161.72,311.31L162.16,311.36L162.61,311.4L163.06,311.45L163.5,311.49L163.95,311.53L164.4,311.57L164.85,311.62L165.29,311.66L165.74,311.7L166.19,311.74L166.63,311.78L167.08,311.81L167.53,311.85L167.97,311.89L168.42,311.93L168.87,311.96L169.32,312L169.76,312.03L170.21,312.07L170.66,312.1L171.1,312.14L171.55,312.17L172,312.2L172.44,312.23L172.89,312.26L173.34,312.29L173.79,312.32L174.23,312.35L174.68,312.38L175.13,312.41L175.57,312.44L176.02,312.47L176.47,312.49L176.91,312.52L177.36,312.54L177.81,312.57L178.26,312.59L178.7,312.62L179.15,312.64L179.6,312.66L180.04,312.69L180.49,312.71L180.94,312.73L181.38,312.75L181.83,312.78L182.28,312.8L182.73,312.82L183.17,312.84L183.62,312.87L184.07,312.89L184.51,312.91L184.96,312.93L185.41,312.95L185.85,312.97L186.3,312.99L186.75,313.01L187.2,313.03L187.64,313.05L188.09,313.07L188.54,313.09L188.98,313.11L189.43,313.13L189.88,313.15L190.32,313.16L190.77,313.18L191.22,313.2L191.67,313.21L192.11,313.23L192.56,313.25L193.01,313.26L193.45,313.28L193.9,313.29L194.35,313.31L194.79,313.32L195.24,313.34L195.69,313.35L196.14,313.36L196.58,313.38L197.03,313.39L197.48,313.4L197.92,313.41L198.37,313.42L198.82,313.43L199.26,313.44L199.71,313.45L200.16,313.46L200.61,313.47L201.05,313.47L201.5,313.48" fill="none" stroke="#0b2a45" stroke-width="0.3" stroke-opacity="0.8"/>
<path d="M22.7,314.7L23.15,314.7L23.59,314.7L24.04,314.7L24.49,314.7L24.93,314.7L25.38,314.7L25.83,314.7L26.28,314.7L26.72,314.69L27.17,314.69L27.62,314.67L28.06,314.64L28.51,314.58L28.96,314.44L29.41,314.24L29.85,313.94L30.3,313.48L30.75,312.78L31.19,311.75L31.64,310.26L32.09,308.16L32.53,305.28L32.98,301.44L33.43,296.5L33.88,290.35L34.32,282.95L34.77,274.38L35.22,264.84L35.66,254.68L36.11,244.39L36.56,234.54L37,225.78L37.45,218.71L37.9,213.88L38.34,211.65L38.79,212.2L39.24,215.46L39.69,221.17L40.13,228.86L40.58,237.95L41.03,247.81L41.47,257.81L41.92,267.43L42.37,276.22L42.81,283.93L43.26,290.41L43.71,295.63L44.16,299.68L44.6,302.67L45.05,304.79L45.5,306.19L45.94,307.05L46.39,307.49L46.84,307.63L47.28,307.55L47.73,307.26L48.18,306.75L48.63,306.07L49.07,305.24L49.52,304.31L49.97,303.3L50.41,302.22L50.86,301.11L51.31,299.97L51.75,298.83L52.2,297.68L52.65,296.44L53.1,295.1L53.54,293.69L53.99,292.2L54.44,290.67L54.88,289.09L55.33,287.5L55.78,285.89L56.22,284.28L56.67,282.69L57.12,281.13L57.57,279.62L58.01,278.16L58.46,276.72L58.91,275.24L59.35,273.73L59.8,272.22L60.25,270.71L60.69,269.22L61.14,267.75L61.59,266.34L62.04,264.97L62.48,263.68L62.93,262.48L63.38,261.37L63.82,260.36L64.27,259.46L64.72,258.59L65.17,257.76L65.61,256.97L66.06,256.23L66.51,255.55L66.95,254.93L67.4,254.38L67.85,253.91L68.29,253.48L68.74,253.06L69.19,252.67L69.64,252.33L70.08,252.09L70.53,251.98L70.98,252.01L71.42,252.16L71.87,252.4L72.32,252.73L72.76,253.11L73.21,253.53L73.66,253.97L74.11,254.41L74.55,254.88L75,255.42L75.45,256.02L75.89,256.69L76.34,257.41L76.79,258.18L77.23,258.99L77.68,259.83L78.13,260.71L78.58,261.6L79.02,262.52L79.47,263.44L79.92,264.37L80.36,265.29L80.81,266.21L81.26,267.17L81.7,268.18L82.15,269.23L82.6,270.32L83.05,271.42L83.49,272.54L83.94,273.66L84.39,274.78L84.83,275.87L85.28,276.94L85.73,278.02L86.17,279.11L86.62,280.21L87.07,281.26L87.52,282.24L87.96,283.12L88.41,283.94L88.86,284.72L89.3,285.45L89.75,286.15L90.2,286.82L90.64,287.45L91.09,288.05L91.54,288.66L91.98,289.26L92.43,289.86L92.88,290.43L93.33,290.97L93.77,291.46L94.22,291.89L94.67,292.26L95.11,292.53L95.56,292.75L96.01,292.94L96.45,293.12L96.9,293.27L97.35,293.41L97.8,293.53L98.24,293.65L98.69,293.75L99.14,293.85L99.58,293.95L100.03,294.04L100.48,294.12L100.93,294.2L101.37,294.26L101.82,294.32L102.27,294.36L102.71,294.39L103.16,294.42L103.61,294.44L104.05,294.46L104.5,294.48L104.95,294.5L105.4,294.51L105.84,294.53L106.29,294.54L106.74,294.56L107.18,294.58L107.63,294.6L108.08,294.63L108.52,294.65L108.97,294.67L109.42,294.69L109.87,294.71L110.31,294.73L110.76,294.75L111.21,294.77L111.65,294.8L112.1,294.83L112.55,294.86L112.99,294.89L113.44,294.94L113.89,294.98L114.34,295.05L114.78,295.15L115.23,295.28L115.68,295.43L116.12,295.6L116.57,295.79L117.02,295.99L117.46,296.2L117.91,296.42L118.36,296.64L118.81,296.86L119.25,297.07L119.7,297.28L120.15,297.5L120.59,297.72L121.04,297.96L121.49,298.2L121.93,298.45L122.38,298.71L122.83,298.96L123.28,299.22L123.72,299.47L124.17,299.72L124.62,299.97L125.06,300.23L125.51,300.49L125.96,300.75L126.4,301.01L126.85,301.27L127.3,301.53L127.75,301.79L128.19,302.04L128.64,302.29L129.09,302.53L129.53,302.76L129.98,302.99L130.43,303.21L130.87,303.43L131.32,303.65L131.77,303.86L132.22,304.07L132.66,304.27L133.11,304.48L133.56,304.68L134,304.88L134.45,305.08L134.9,305.28L135.34,305.48L135.79,305.69L136.24,305.89L136.69,306.09L137.13,306.29L137.58,306.48L138.03,306.66L138.47,306.84L138.92,307L139.37,307.15L139.81,307.29L140.26,307.43L140.71,307.56L141.16,307.69L141.6,307.82L142.05,307.94L142.5,308.06L142.94,308.18L143.39,308.3L143.84,308.41L144.28,308.52L144.73,308.63L145.18,308.73L145.62,308.83L146.07,308.93L146.52,309.03L146.97,309.12L147.41,309.22L147.86,309.31L148.31,309.39L148.75,309.48L149.2,309.56L149.65,309.65L150.09,309.73L150.54,309.81L150.99,309.89L151.44,309.96L151.88,310.04L152.33,310.11L152.78,310.18L153.22,310.26L153.67,310.33L154.12,310.39L154.56,310.46L155.01,310.52L155.46,310.59L155.91,310.65L156.35,310.71L156.8,310.77L157.25,310.83L157.69,310.88L158.14,310.93L158.59,310.98L159.03,311.03L159.48,311.08L159.93,311.13L160.38,311.18L160.82,311.22L161.27,311.27L161.72,311.31L162.16,311.36L162.61,311.4L163.06,311.45L163.5,311.49L163.95,311.53L164.4,311.57L164.85,311.62L165.29,311.66L165.74,311.7L166.19,311.74L166.63,311.78L167.08,311.81L167.53,311.85L167.97,311.89L168.42,311.93L168.87,311.96L169.32,312L169.76,312.03L170.21,312.07L170.66,312.1L171.1,312.14L171.55,312.17L172,312.2L172.44,312.23L172.89,312.26L173.34,312.29L173.79,312.32L174.23,312.35L174.68,312.38L175.13,312.41L175.57,312.44L176.02,312.47L176.47,312.49L176.91,312.52L177.36,312.54L177.81,312.57L178.26,312.59L178.7,312.62L179.15,312.64L179.6,312.66L180.04,312.69L180.49,312.71L180.94,312.73L181.38,312.75L181.83,312.78L182.28,312.8L182.73,312.82L183.17,312.84L183.62,312.87L184.07,312.89L184.51,312.91L184.96,312.93L185.41,312.95L185.85,312.97L186.3,312.99L186.75,313.01L187.2,313.03L187.64,313.05L188.09,313.07L188.54,313.09L188.98,313.11L189.43,313.13L189.88,313.15L190.32,313.16L190.77,313.18L191.22,313.2L191.67,313.21L192.11,313.23L192.56,313.25L193.01,313.26L193.45,313.28L193.9,313.29L194.35,313.31L194.79,313.32L195.24,313.34L195.69,313.35L196.14,313.36L196.58,313.38L197.03,313.39L197.48,313.4L197.92,313.41L198.37,313.42L198.82,313.43L199.26,313.44L199.71,313.45L200.16,313.46L200.61,313.47L201.05,313.47L201.5,313.48" fill="none" stroke="#0b2238" stroke-width="0.6"/>
<path d="M22.7,181.5V314.7H201.5" fill="none" stroke="#333" stroke-width="0.75"/>
<path d="M22.7,314.7v1.9M67.4,314.7v1.9M112.1,314.7v1.9M156.8,314.7v1.9M201.5,314.7v1.9M31.64,314.7v1.1M40.58,314.7v1.1M49.52,314.7v1.1M58.46,314.7v1.1M76.34,314.7v1.1M85.28,314.7v1.1M94.22,314.7v1.1M103.16,314.7v1.1M121.04,314.7v1.1M129.98,314.7v1.1M138.92,314.7v1.1M147.86,314.7v1.1M165.74,314.7v1.1M174.68,314.7v1.1M183.62,314.7v1.1M192.56,314.7v1.1M22.7,314.7h-1.9M22.7,284.25h-1.9M22.7,253.8h-1.9M22.7,223.35h-1.9M22.7,192.9h-1.9M22.7,308.61h-1.1M22.7,302.52h-1.1M22.7,296.43h-1.1M22.7,290.34h-1.1M22.7,278.16h-1.1M22.7,272.07h-1.1M22.7,265.98h-1.1M22.7,259.89h-1.1M22.7,247.71h-1.1M22.7,241.62h-1.1M22.7,235.53h-1.1M22.7,229.44h-1.1M22.7,217.26h-1.1M22.7,211.17h-1.1M22.7,205.08h-1.1M22.7,198.99h-1.1M22.7,186.81h-1.1" fill="none" stroke="#111" stroke-width="0.5"/>
<text transform="translate(22.7,323.5) scale(0.9,1)" text-anchor="middle" class="tk">0</text>
<text transform="translate(67.4,323.5) scale(0.9,1)" text-anchor="middle" class="tk">400</text>
<text transform="translate(112.1,323.5) scale(0.9,1)" text-anchor="middle" class="tk">800</text>
<text transform="translate(156.8,323.5) scale(0.9,1)" text-anchor="middle" class="tk">1200</text>
<text transform="translate(201.5,323.5) scale(0.9,1)" text-anchor="middle" class="tk">1600</text>
<text transform="translate(18.5,317.2) scale(0.9,1)" text-anchor="end" class="tk">0</text>
<text transform="translate(18.5,286.75) scale(0.9,1)" text-anchor="end" class="tk">25</text>
<text transform="translate(18.5,256.3) scale(0.9,1)" text-anchor="end" class="tk">50</text>
<text transform="translate(18.5,225.85) scale(0.9,1)" text-anchor="end" class="tk">75</text>
<text transform="translate(18.5,195.4) scale(0.9,1)" text-anchor="end" class="tk">100</text>
<text transform="translate(112.1,331.1) scale(0.85,1)" text-anchor="middle" class="lb">Mass [kDa]</text>
<text transform="translate(6.4,248.7) rotate(-90) scale(0.85,1)" text-anchor="middle" class="lb">Counts</text>
<rect x="89.1" y="184.1" width="110.4" height="8.4" rx="0.9" fill="#fff" fill-opacity="0.8" stroke="#d0d0d0" stroke-width="0.5"/>
<rect x="90.7" y="186.1" width="10" height="3.4" fill="#0173b2" fill-opacity="0.5" stroke="#0173b2" stroke-width="0.6"/>
<text x="108.1" y="189.8" class="lg">αSO + NBg2-NabFab (1:3)</text>
<text x="44.3" y="187.1" text-anchor="middle" class="an">142</text>
<text x="44.3" y="191.4" text-anchor="middle" class="an">σ 24</text>
<text x="44.3" y="195.7" text-anchor="middle" class="an">1015 counts (19%)</text>
<text x="44.3" y="200" text-anchor="middle" class="an">Skewness: 0.000</text>
<text x="81" y="222.1" text-anchor="middle" class="an">516</text>
<text x="81" y="226.4" text-anchor="middle" class="an">σ 234</text>
<text x="81" y="230.7" text-anchor="middle" class="an">4376 counts (81%)</text>
<text x="81" y="235" text-anchor="middle" class="an">Skewness: 0.929</text>
<path d="M275.23,314.5V312.45H275.8V314.5H276.36V308.35H276.93V312.45H277.5V306.3H278.06V291.95H278.63V291.95H279.2V294H279.76V277.6H280.33V267.35H280.9V226.35H281.46V220.2H282.03V226.35H282.6V209.95H283.16V224.3H283.73V218.15H284.3V222.25H284.86V220.2H285.43V203.8H286V205.85H286.56V197.65H287.13V209.95H287.69V216.1H288.26V199.7H288.83V212H289.39V193.55H289.96V201.75H290.53V214.05H291.09V224.3H291.66V228.4H292.23V216.1H292.79V226.35H293.36V244.8H293.93V230.45H294.49V253H295.06V248.9H295.63V253H296.19V253H296.76V250.95H297.33V232.5H297.89V255.05H298.46V267.35H299.03V269.4H299.59V265.3H300.16V273.5H300.73V265.3H301.29V263.25H301.86V255.05H302.43V273.5H302.99V269.4H303.56V232.5H304.13V246.85H304.69V250.95H305.26V242.75H305.82V244.8H306.39V255.05H306.96V232.5H307.52V253H308.09V232.5H308.66V242.75H309.22V246.85H309.79V259.15H310.36V253H310.92V257.1H311.49V236.6H312.06V248.9H312.62V234.55H313.19V240.7H313.76V253H314.32V253H314.89V253H315.46V244.8H316.02V255.05H316.59V248.9H317.16V250.95H317.72V248.9H318.29V253H318.86V248.9H319.42V263.25H319.99V253H320.56V263.25H321.12V255.05H321.69V265.3H322.26V246.85H322.82V242.75H323.39V255.05H323.95V255.05H324.52V271.45H325.09V261.2H325.65V248.9H326.22V259.15H326.79V273.5H327.35V263.25H327.92V253H328.49V255.05H329.05V238.65H329.62V269.4H330.19V253H330.75V265.3H331.32V277.6H331.89V281.7H332.45V275.55H333.02V265.3H333.59V269.4H334.15V265.3H334.72V253H335.29V275.55H335.85V267.35H336.42V271.45H336.99V265.3H337.55V279.65H338.12V269.4H338.69V273.5H339.25V285.8H339.82V275.55H340.39V267.35H340.95V261.2H341.52V275.55H342.09V267.35H342.65V283.75H343.22V267.35H343.78V271.45H344.35V285.8H344.92V285.8H345.48V281.7H346.05V273.5H346.62V294H347.18V279.65H347.75V269.4H348.32V271.45H348.88V296.05H349.45V285.8H350.02V291.95H350.58V287.85H351.15V300.15H351.72V291.95H352.28V302.2H352.85V291.95H353.42V287.85H353.98V283.75H354.55V298.1H355.12V298.1H355.68V291.95H356.25V285.8H356.82V279.65H357.38V302.2H357.95V300.15H358.52V302.2H359.08V291.95H359.65V300.15H360.22V304.25H360.78V298.1H361.35V300.15H361.91V289.9H362.48V302.2H363.05V302.2H363.61V291.95H364.18V304.25H364.75V300.15H365.31V304.25H365.88V294H366.45V300.15H367.01V302.2H367.58V302.2H368.15V306.3H368.71V308.35H369.28V291.95H369.85V302.2H370.41V302.2H370.98V304.25H371.55V304.25H372.11V302.2H372.68V304.25H373.25V296.05H373.81V308.35H374.38V304.25H374.95V300.15H375.51V302.2H376.08V300.15H376.65V308.35H377.21V314.5H377.78V304.25H378.35V302.2H378.91V306.3H379.48V308.35H380.04V306.3H380.61V308.35H381.18V310.4H381.74V308.35H382.31V312.45H382.88V308.35H383.44V308.35H384.01V308.35H384.58V310.4H385.14V312.45H385.71V308.35H386.28V308.35H386.84V310.4H387.41V308.35H387.98V310.4H388.54V304.25H389.11V310.4H389.68V308.35H390.24V310.4H390.81V302.2H391.38V314.5H391.94V312.45H392.51V314.5H393.08V310.4H393.64V304.25H394.21V312.45H394.78V312.45H395.34V308.35H395.91V312.45H396.48V312.45H397.04V312.45H397.61V310.4H398.17V312.45H398.74V312.45H399.31V314.5H399.87V310.4H400.44V312.45H401.01V312.45H401.57V310.4H402.14V312.45H402.71V312.45H403.27V308.35H403.84V312.45H404.41V308.35H404.97V312.45H405.54V310.4H406.11V312.45H406.67V312.45H407.24V308.35H407.81V310.4H408.37V312.45H408.94V312.45H409.51V308.35H410.07V310.4H410.64V310.4H411.21V312.45H411.77V314.5H412.34V314.5H412.91V314.5H413.47V312.45H414.04V312.45H414.61V314.5H415.17V310.4H415.74V312.45H416.3V312.45H416.87V314.5H417.44V314.5H418V312.45H418.57V312.45H419.14V314.5H419.7V314.5H420.27V312.45H420.84V314.5H421.4V312.45H421.97V314.5H422.54V312.45H423.1V310.4H423.67V314.5H424.24V312.45H424.8V314.5H425.37V314.5H425.94V314.5H426.5V312.45H427.07V314.5H427.64V314.5H428.2V312.45H428.77V314.5H429.34V312.45H429.9V312.45H430.47V310.4H431.04V312.45H431.6V312.45H432.17V314.5H432.74V312.45H433.3V314.5H433.87V312.45H434.43V314.5H435V312.45H435.57V314.5H436.13V314.5H436.7V312.45H437.27V312.45H437.83V312.45H438.4V314.5H438.97V312.45H439.53V314.5Z" fill="#0173b2" fill-opacity="0.5" stroke="#0173b2" stroke-width="0.6" stroke-opacity="1" stroke-linejoin="miter"/>
<path d="M268.21,314.47L268.66,314.45L269.11,314.43L269.56,314.41L270.02,314.37L270.47,314.32L270.92,314.25L271.38,314.16L271.83,314.04L272.28,313.89L272.74,313.69L273.19,313.43L273.64,313.1L274.1,312.68L274.55,312.16L275,311.52L275.46,310.73L275.91,309.76L276.36,308.6L276.82,307.22L277.27,305.58L277.72,303.67L278.18,301.46L278.63,298.92L279.08,296.05L279.54,292.82L279.99,289.24L280.44,285.31L280.9,281.05L281.35,276.48L281.8,271.63L282.26,266.57L282.71,261.36L283.16,256.06L283.62,250.76L284.07,245.56L284.52,240.54L284.98,235.81L285.43,231.47L285.88,227.61L286.34,224.31L286.79,221.67L287.24,219.73L287.69,218.55L288.15,218.15L288.6,218.55L289.05,219.73L289.51,221.67L289.96,224.31L290.41,227.61L290.87,231.47L291.32,235.81L291.77,240.54L292.23,245.56L292.68,250.76L293.13,256.06L293.59,261.36L294.04,266.57L294.49,271.63L294.95,276.48L295.4,281.05L295.85,285.31L296.31,289.24L296.76,292.82L297.21,296.05L297.67,298.92L298.12,301.46L298.57,303.67L299.03,305.58L299.48,307.22L299.93,308.6L300.39,309.76L300.84,310.73L301.29,311.52L301.75,312.16L302.2,312.68L302.65,313.1L303.11,313.43L303.56,313.69L304.01,313.89L304.47,314.04L304.92,314.16L305.37,314.25L305.82,314.32L306.28,314.37L306.73,314.41L307.18,314.43L307.64,314.45L308.09,314.47" fill="none" stroke="#0b2a45" stroke-width="0.3" stroke-opacity="0.8"/>
<path d="M260.5,314.5L260.95,314.5L261.41,314.5L261.86,314.5L262.31,314.5L262.77,314.5L263.22,314.5L263.67,314.5L264.13,314.5L264.58,314.5L265.03,314.5L265.49,314.5L265.94,314.5L266.39,314.5L266.85,314.5L267.3,314.5L267.75,314.5L268.21,314.5L268.66,314.5L269.11,314.5L269.56,314.5L270.02,314.5L270.47,314.5L270.92,314.5L271.38,314.5L271.83,314.5L272.28,314.5L272.74,314.5L273.19,314.47L273.64,314.39L274.1,314.3L274.55,314.19L275,314.08L275.46,313.95L275.91,313.81L276.36,313.67L276.82,313.51L277.27,313.35L277.72,313.19L278.18,313L278.63,312.81L279.08,312.59L279.54,312.36L279.99,312.12L280.44,311.86L280.9,311.58L281.35,311.29L281.8,310.99L282.26,310.67L282.71,310.34L283.16,309.99L283.62,309.62L284.07,309.23L284.52,308.81L284.98,308.37L285.43,307.89L285.88,307.38L286.34,306.84L286.79,306.27L287.24,305.66L287.69,305.01L288.15,304.33L288.6,303.6L289.05,302.83L289.51,301.93L289.96,300.91L290.41,299.79L290.87,298.57L291.32,297.28L291.77,295.92L292.23,294.51L292.68,293.05L293.13,291.57L293.59,289.96L294.04,288.21L294.49,286.34L294.95,284.4L295.4,282.42L295.85,280.43L296.31,278.47L296.76,276.57L297.21,274.68L297.67,272.75L298.12,270.85L298.57,269.03L299.03,267.35L299.48,265.79L299.93,264.29L300.39,262.84L300.84,261.45L301.29,260.13L301.75,258.87L302.2,257.67L302.65,256.54L303.11,255.45L303.56,254.39L304.01,253.38L304.47,252.42L304.92,251.52L305.37,250.69L305.82,249.93L306.28,249.21L306.73,248.51L307.18,247.83L307.64,247.18L308.09,246.57L308.54,245.99L309,245.46L309.45,244.98L309.9,244.55L310.36,244.19L310.81,243.84L311.26,243.5L311.72,243.26L312.17,243.16L312.62,243.23L313.08,243.42L313.53,243.72L313.98,244.11L314.44,244.57L314.89,245.09L315.34,245.64L315.8,246.21L316.25,246.79L316.7,247.35L317.16,247.88L317.61,248.41L318.06,248.98L318.52,249.59L318.97,250.23L319.42,250.89L319.88,251.56L320.33,252.23L320.78,252.89L321.24,253.55L321.69,254.17L322.14,254.77L322.6,255.33L323.05,255.85L323.5,256.34L323.95,256.82L324.41,257.28L324.86,257.74L325.31,258.18L325.77,258.61L326.22,259.04L326.67,259.47L327.13,259.89L327.58,260.32L328.03,260.76L328.49,261.2L328.94,261.65L329.39,262.09L329.85,262.53L330.3,262.96L330.75,263.4L331.21,263.83L331.66,264.27L332.11,264.71L332.57,265.14L333.02,265.59L333.47,266.03L333.93,266.48L334.38,266.93L334.83,267.39L335.29,267.85L335.74,268.31L336.19,268.78L336.65,269.24L337.1,269.71L337.55,270.18L338.01,270.66L338.46,271.15L338.91,271.64L339.37,272.15L339.82,272.68L340.27,273.22L340.73,273.79L341.18,274.4L341.63,275.04L342.09,275.7L342.54,276.36L342.99,276.99L343.44,277.59L343.9,278.2L344.35,278.8L344.8,279.39L345.26,279.98L345.71,280.56L346.16,281.13L346.62,281.7L347.07,282.26L347.52,282.81L347.98,283.37L348.43,283.91L348.88,284.45L349.34,284.98L349.79,285.51L350.24,286.02L350.7,286.53L351.15,287.03L351.6,287.52L352.06,288.02L352.51,288.52L352.96,289.02L353.42,289.52L353.87,290.02L354.32,290.52L354.78,291.01L355.23,291.5L355.68,291.98L356.14,292.45L356.59,292.92L357.04,293.37L357.5,293.81L357.95,294.24L358.4,294.65L358.86,295.05L359.31,295.43L359.76,295.79L360.22,296.14L360.67,296.46L361.12,296.77L361.57,297.06L362.03,297.35L362.48,297.62L362.93,297.89L363.39,298.15L363.84,298.4L364.29,298.64L364.75,298.88L365.2,299.11L365.65,299.34L366.11,299.56L366.56,299.77L367.01,299.99L367.47,300.2L367.92,300.41L368.37,300.62L368.83,300.83L369.28,301.04L369.73,301.24L370.19,301.45L370.64,301.67L371.09,301.88L371.55,302.1L372,302.32L372.45,302.55L372.91,302.78L373.36,303.02L373.81,303.27L374.27,303.52L374.72,303.78L375.17,304.04L375.63,304.31L376.08,304.59L376.53,304.87L376.99,305.15L377.44,305.43L377.89,305.71L378.35,305.99L378.8,306.28L379.25,306.56L379.7,306.83L380.16,307.11L380.61,307.38L381.06,307.64L381.52,307.9L381.97,308.15L382.42,308.4L382.88,308.64L383.33,308.86L383.78,309.08L384.24,309.29L384.69,309.48L385.14,309.67L385.6,309.83L386.05,309.99L386.5,310.14L386.96,310.28L387.41,310.41L387.86,310.55L388.32,310.67L388.77,310.8L389.22,310.92L389.68,311.04L390.13,311.15L390.58,311.26L391.04,311.37L391.49,311.47L391.94,311.57L392.4,311.67L392.85,311.77L393.3,311.86L393.76,311.95L394.21,312.04L394.66,312.12L395.12,312.21L395.57,312.29L396.02,312.37L396.48,312.45L396.93,312.53L397.38,312.61L397.83,312.69L398.29,312.76L398.74,312.84L399.19,312.92L399.65,313L400.1,313.07L400.55,313.14L401.01,313.22L401.46,313.29L401.91,313.35L402.37,313.42L402.82,313.48L403.27,313.54L403.73,313.6L404.18,313.65L404.63,313.7L405.09,313.74L405.54,313.78L405.99,313.82L406.45,313.85L406.9,313.88L407.35,313.9L407.81,313.92L408.26,313.95L408.71,313.97L409.17,313.99L409.62,314.01L410.07,314.03L410.53,314.05L410.98,314.06L411.43,314.08L411.89,314.1L412.34,314.12L412.79,314.13L413.25,314.15L413.7,314.16L414.15,314.18L414.61,314.19L415.06,314.21L415.51,314.22L415.96,314.23L416.42,314.25L416.87,314.26L417.32,314.27L417.78,314.28L418.23,314.29L418.68,314.3L419.14,314.31L419.59,314.32L420.04,314.33L420.5,314.34L420.95,314.35L421.4,314.35L421.86,314.36L422.31,314.37L422.76,314.37L423.22,314.38L423.67,314.39L424.12,314.39L424.58,314.4L425.03,314.4L425.48,314.4L425.94,314.41L426.39,314.41L426.84,314.42L427.3,314.42L427.75,314.43L428.2,314.43L428.66,314.43L429.11,314.44L429.56,314.44L430.02,314.45L430.47,314.45L430.92,314.45L431.38,314.46L431.83,314.46L432.28,314.46L432.74,314.47L433.19,314.47L433.64,314.47L434.09,314.47L434.55,314.48L435,314.48L435.45,314.48L435.91,314.48L436.36,314.49L436.81,314.49L437.27,314.49L437.72,314.49L438.17,314.49L438.63,314.5L439.08,314.5L439.53,314.5L439.99,314.5L440.44,314.5L440.89,314.5L441.35,314.5L441.8,314.5" fill="none" stroke="#0b2a45" stroke-width="0.3" stroke-opacity="0.8"/>
<path d="M260.5,314.5L260.95,314.5L261.41,314.5L261.86,314.5L262.31,314.5L262.77,314.5L263.22,314.5L263.67,314.5L264.13,314.5L264.58,314.5L265.03,314.5L265.49,314.5L265.94,314.5L266.39,314.49L266.85,314.49L267.3,314.48L267.75,314.48L268.21,314.47L268.66,314.45L269.11,314.43L269.56,314.41L270.02,314.37L270.47,314.32L270.92,314.25L271.38,314.16L271.83,314.04L272.28,313.89L272.74,313.69L273.19,313.4L273.64,312.99L274.1,312.48L274.55,311.86L275,311.1L275.46,310.18L275.91,309.07L276.36,307.77L276.82,306.23L277.27,304.44L277.72,302.36L278.18,299.96L278.63,297.23L279.08,294.14L279.54,290.69L279.99,286.86L280.44,282.67L280.9,278.13L281.35,273.27L281.8,268.12L282.26,262.74L282.71,257.2L283.16,251.55L283.62,245.89L284.07,240.29L284.52,234.85L284.98,229.68L285.43,224.86L285.88,220.49L286.34,216.65L286.79,213.43L287.24,210.89L287.69,209.06L288.15,207.98L288.6,207.65L289.05,208.06L289.51,209.1L289.96,210.73L290.41,212.9L290.87,215.54L291.32,218.59L291.77,221.96L292.23,225.56L292.68,229.32L293.13,233.14L293.59,236.82L294.04,240.28L294.49,243.48L294.95,246.38L295.4,248.97L295.85,251.24L296.31,253.21L296.76,254.9L297.21,256.23L297.67,257.18L298.12,257.81L298.57,258.2L299.03,258.43L299.48,258.51L299.93,258.39L300.39,258.1L300.84,257.68L301.29,257.14L301.75,256.53L302.2,255.85L302.65,255.14L303.11,254.38L303.56,253.58L304.01,252.77L304.47,251.97L304.92,251.19L305.37,250.44L305.82,249.75L306.28,249.08L306.73,248.41L307.18,247.76L307.64,247.14L308.09,246.53L308.54,245.97L309,245.45L309.45,244.97L309.9,244.55L310.36,244.18L310.81,243.83L311.26,243.5L311.72,243.26L312.17,243.16L312.62,243.23L313.08,243.42L313.53,243.72L313.98,244.11L314.44,244.57L314.89,245.09L315.34,245.64L315.8,246.21L316.25,246.79L316.7,247.35L317.16,247.87L317.61,248.41L318.06,248.98L318.52,249.59L318.97,250.23L319.42,250.89L319.88,251.56L320.33,252.23L320.78,252.89L321.24,253.55L321.69,254.17L322.14,254.77L322.6,255.33L323.05,255.85L323.5,256.34L323.95,256.82L324.41,257.28L324.86,257.74L325.31,258.18L325.77,258.61L326.22,259.04L326.67,259.47L327.13,259.89L327.58,260.32L328.03,260.76L328.49,261.2L328.94,261.65L329.39,262.09L329.85,262.53L330.3,262.96L330.75,263.4L331.21,263.83L331.66,264.27L332.11,264.71L332.57,265.14L333.02,265.59L333.47,266.03L333.93,266.48L334.38,266.93L334.83,267.39L335.29,267.85L335.74,268.31L336.19,268.78L336.65,269.24L337.1,269.71L337.55,270.18L338.01,270.66L338.46,271.15L338.91,271.64L339.37,272.15L339.82,272.68L340.27,273.22L340.73,273.79L341.18,274.4L341.63,275.04L342.09,275.7L342.54,276.36L342.99,276.99L343.44,277.59L343.9,278.2L344.35,278.8L344.8,279.39L345.26,279.98L345.71,280.56L346.16,281.13L346.62,281.7L347.07,282.26L347.52,282.81L347.98,283.37L348.43,283.91L348.88,284.45L349.34,284.98L349.79,285.51L350.24,286.02L350.7,286.53L351.15,287.03L351.6,287.52L352.06,288.02L352.51,288.52L352.96,289.02L353.42,289.52L353.87,290.02L354.32,290.52L354.78,291.01L355.23,291.5L355.68,291.98L356.14,292.45L356.59,292.92L357.04,293.37L357.5,293.81L357.95,294.24L358.4,294.65L358.86,295.05L359.31,295.43L359.76,295.79L360.22,296.14L360.67,296.46L361.12,296.77L361.57,297.06L362.03,297.35L362.48,297.62L362.93,297.89L363.39,298.15L363.84,298.4L364.29,298.64L364.75,298.88L365.2,299.11L365.65,299.34L366.11,299.56L366.56,299.77L367.01,299.99L367.47,300.2L367.92,300.41L368.37,300.62L368.83,300.83L369.28,301.04L369.73,301.24L370.19,301.45L370.64,301.67L371.09,301.88L371.55,302.1L372,302.32L372.45,302.55L372.91,302.78L373.36,303.02L373.81,303.27L374.27,303.52L374.72,303.78L375.17,304.04L375.63,304.31L376.08,304.59L376.53,304.87L376.99,305.15L377.44,305.43L377.89,305.71L378.35,305.99L378.8,306.28L379.25,306.56L379.7,306.83L380.16,307.11L380.61,307.38L381.06,307.64L381.52,307.9L381.97,308.15L382.42,308.4L382.88,308.64L383.33,308.86L383.78,309.08L384.24,309.29L384.69,309.48L385.14,309.67L385.6,309.83L386.05,309.99L386.5,310.14L386.96,310.28L387.41,310.41L387.86,310.55L388.32,310.67L388.77,310.8L389.22,310.92L389.68,311.04L390.13,311.15L390.58,311.26L391.04,311.37L391.49,311.47L391.94,311.57L392.4,311.67L392.85,311.77L393.3,311.86L393.76,311.95L394.21,312.04L394.66,312.12L395.12,312.21L395.57,312.29L396.02,312.37L396.48,312.45L396.93,312.53L397.38,312.61L397.83,312.69L398.29,312.76L398.74,312.84L399.19,312.92L399.65,313L400.1,313.07L400.55,313.14L401.01,313.22L401.46,313.29L401.91,313.35L402.37,313.42L402.82,313.48L403.27,313.54L403.73,313.6L404.18,313.65L404.63,313.7L405.09,313.74L405.54,313.78L405.99,313.82L406.45,313.85L406.9,313.88L407.35,313.9L407.81,313.92L408.26,313.95L408.71,313.97L409.17,313.99L409.62,314.01L410.07,314.03L410.53,314.05L410.98,314.06L411.43,314.08L411.89,314.1L412.34,314.12L412.79,314.13L413.25,314.15L413.7,314.16L414.15,314.18L414.61,314.19L415.06,314.21L415.51,314.22L415.96,314.23L416.42,314.25L416.87,314.26L417.32,314.27L417.78,314.28L418.23,314.29L418.68,314.3L419.14,314.31L419.59,314.32L420.04,314.33L420.5,314.34L420.95,314.35L421.4,314.35L421.86,314.36L422.31,314.37L422.76,314.37L423.22,314.38L423.67,314.39L424.12,314.39L424.58,314.4L425.03,314.4L425.48,314.4L425.94,314.41L426.39,314.41L426.84,314.42L427.3,314.42L427.75,314.43L428.2,314.43L428.66,314.43L429.11,314.44L429.56,314.44L430.02,314.45L430.47,314.45L430.92,314.45L431.38,314.46L431.83,314.46L432.28,314.46L432.74,314.47L433.19,314.47L433.64,314.47L434.09,314.47L434.55,314.48L435,314.48L435.45,314.48L435.91,314.48L436.36,314.49L436.81,314.49L437.27,314.49L437.72,314.49L438.17,314.49L438.63,314.5L439.08,314.5L439.53,314.5L439.99,314.5L440.44,314.5L440.89,314.5L441.35,314.5L441.8,314.5" fill="none" stroke="#0b2238" stroke-width="0.6"/>
<path d="M260.5,181.5V314.5H441.8" fill="none" stroke="#333" stroke-width="0.75"/>
<path d="M260.5,314.5v1.9M305.82,314.5v1.9M351.15,314.5v1.9M396.48,314.5v1.9M441.8,314.5v1.9M269.56,314.5v1.1M278.63,314.5v1.1M287.69,314.5v1.1M296.76,314.5v1.1M314.89,314.5v1.1M323.95,314.5v1.1M333.02,314.5v1.1M342.09,314.5v1.1M360.22,314.5v1.1M369.28,314.5v1.1M378.35,314.5v1.1M387.41,314.5v1.1M405.54,314.5v1.1M414.61,314.5v1.1M423.67,314.5v1.1M432.74,314.5v1.1M260.5,314.5h-1.9M260.5,283.75h-1.9M260.5,253h-1.9M260.5,222.25h-1.9M260.5,191.5h-1.9M260.5,308.35h-1.1M260.5,302.2h-1.1M260.5,296.05h-1.1M260.5,289.9h-1.1M260.5,277.6h-1.1M260.5,271.45h-1.1M260.5,265.3h-1.1M260.5,259.15h-1.1M260.5,246.85h-1.1M260.5,240.7h-1.1M260.5,234.55h-1.1M260.5,228.4h-1.1M260.5,216.1h-1.1M260.5,209.95h-1.1M260.5,203.8h-1.1M260.5,197.65h-1.1M260.5,185.35h-1.1" fill="none" stroke="#111" stroke-width="0.5"/>
<text transform="translate(260.5,323.3) scale(0.9,1)" text-anchor="middle" class="tk">0</text>
<text transform="translate(305.82,323.3) scale(0.9,1)" text-anchor="middle" class="tk">400</text>
<text transform="translate(351.15,323.3) scale(0.9,1)" text-anchor="middle" class="tk">800</text>
<text transform="translate(396.48,323.3) scale(0.9,1)" text-anchor="middle" class="tk">1200</text>
<text transform="translate(441.8,323.3) scale(0.9,1)" text-anchor="middle" class="tk">1600</text>
<text transform="translate(256.3,317) scale(0.9,1)" text-anchor="end" class="tk">0</text>
<text transform="translate(256.3,286.25) scale(0.9,1)" text-anchor="end" class="tk">15</text>
<text transform="translate(256.3,255.5) scale(0.9,1)" text-anchor="end" class="tk">30</text>
<text transform="translate(256.3,224.75) scale(0.9,1)" text-anchor="end" class="tk">45</text>
<text transform="translate(256.3,194) scale(0.9,1)" text-anchor="end" class="tk">60</text>
<text transform="translate(351.15,330.9) scale(0.85,1)" text-anchor="middle" class="lb">Mass [kDa]</text>
<text transform="translate(247,248.6) rotate(-90) scale(0.85,1)" text-anchor="middle" class="lb">Counts</text>
<rect x="342.3" y="184.1" width="98.1" height="8.4" rx="0.9" fill="#fff" fill-opacity="0.8" stroke="#d0d0d0" stroke-width="0.5"/>
<rect x="344.5" y="186.1" width="10" height="3.4" fill="#0173b2" fill-opacity="0.5" stroke="#0173b2" stroke-width="0.6"/>
<text x="361.9" y="189.8" class="lg">αSO + NBg2-NabFab (1:10)</text>
<text x="284" y="186.1" text-anchor="middle" class="an">241</text>
<text x="284" y="190.4" text-anchor="middle" class="an">σ 44</text>
<text x="284" y="194.7" text-anchor="middle" class="an">1085 counts (25%)</text>
<text x="284" y="199" text-anchor="middle" class="an">Skewness: 0.000</text>
<text x="324.1" y="214.4" text-anchor="middle" class="an">552</text>
<text x="324.1" y="218.7" text-anchor="middle" class="an">σ 214</text>
<text x="324.1" y="223" text-anchor="middle" class="an">3148 counts (72%)</text>
<text x="324.1" y="227.3" text-anchor="middle" class="an">Skewness: 0.577</text>
<path d="M512.31,314.6V313.88H512.87V314.6H513.43V312.43H513.99V313.88H514.56V311.71H515.12V306.65H515.68V306.65H516.24V307.38H516.8V301.6H517.37V297.98H517.93V283.53H518.49V281.37H519.05V283.53H519.61V277.75H520.17V282.81H520.74V280.64H521.3V282.09H521.86V281.37H522.42V275.59H522.98V276.31H523.55V273.42H524.11V277.75H524.67V279.92H525.23V274.14H525.79V278.48H526.36V271.97H526.92V274.86H527.48V279.2H528.04V282.81H528.6V284.25H529.16V279.92H529.73V283.53H530.29V290.04H530.85V284.98H531.41V292.93H531.97V291.48H532.54V292.93H533.1V292.93H533.66V292.2H534.22V285.7H534.78V293.65H535.35V297.98H535.91V298.71H536.47V297.26H537.03V300.15H537.59V297.26H538.15V296.54H538.72V293.65H539.28V300.15H539.84V298.71H540.4V285.7H540.96V290.76H541.53V292.2H542.09V289.31H542.65V290.04H543.21V293.65H543.77V285.7H544.34V292.93H544.9V285.7H545.46V289.31H546.02V290.76H546.58V295.09H547.14V292.93H547.71V294.37H548.27V287.15H548.83V291.48H549.39V286.42H549.95V288.59H550.52V292.93H551.08V292.93H551.64V292.93H552.2V290.04H552.76V293.65H553.33V291.48H553.89V292.2H554.45V291.48H555.01V292.93H555.57V291.48H556.13V296.54H556.7V292.93H557.26V296.54H557.82V293.65H558.38V297.26H558.94V290.76H559.51V289.31H560.07V293.65H560.63V293.65H561.19V299.43H561.75V295.81H562.32V291.48H562.88V295.09H563.44V300.15H564V296.54H564.56V292.93H565.12V293.65H565.69V287.87H566.25V298.71H566.81V292.93H567.37V297.26H567.93V301.6H568.5V303.04H569.06V300.87H569.62V297.26H570.18V298.71H570.74V297.26H571.31V292.93H571.87V300.87H572.43V297.98H572.99V299.43H573.55V297.26H574.12V302.32H574.68V298.71H575.24V300.15H575.8V304.49H576.36V300.87H576.92V297.98H577.49V295.81H578.05V300.87H578.61V297.98H579.17V303.76H579.73V297.98H580.3V299.43H580.86V304.49H581.42V304.49H581.98V303.04H582.54V300.15H583.11V307.38H583.67V302.32H584.23V298.71H584.79V299.43H585.35V308.1H585.91V304.49H586.48V306.65H587.04V305.21H587.6V309.54H588.16V306.65H588.72V310.27H589.29V306.65H589.85V305.21H590.41V303.76H590.97V308.82H591.53V308.82H592.1V306.65H592.66V304.49H593.22V302.32H593.78V310.27H594.34V309.54H594.9V310.27H595.47V306.65H596.03V309.54H596.59V310.99H597.15V308.82H597.71V309.54H598.28V305.93H598.84V310.27H599.4V310.27H599.96V306.65H600.52V310.99H601.09V309.54H601.65V310.99H602.21V307.38H602.77V309.54H603.33V310.27H603.89V310.27H604.46V311.71H605.02V312.43H605.58V306.65H606.14V310.27H606.7V310.27H607.27V310.99H607.83V310.99H608.39V310.27H608.95V310.99H609.51V308.1H610.08V312.43H610.64V310.99H611.2V309.54H611.76V310.27H612.32V309.54H612.88V312.43H613.45V314.6H614.01V310.99H614.57V310.27H615.13V311.71H615.69V312.43H616.26V311.71H616.82V312.43H617.38V313.16H617.94V312.43H618.5V313.88H619.07V312.43H619.63V312.43H620.19V312.43H620.75V313.16H621.31V313.88H621.87V312.43H622.44V312.43H623V313.16H623.56V312.43H624.12V313.16H624.68V310.99H625.25V313.16H625.81V312.43H626.37V313.16H626.93V310.27H627.49V314.6H628.05V313.88H628.62V314.6H629.18V313.16H629.74V310.99H630.3V313.88H630.86V313.88H631.43V312.43H631.99V313.88H632.55V313.88H633.11V313.88H633.67V313.16H634.24V313.88H634.8V313.88H635.36V314.6H635.92V313.16H636.48V313.88H637.04V313.88H637.61V313.16H638.17V313.88H638.73V313.88H639.29V312.43H639.85V313.88H640.42V312.43H640.98V313.88H641.54V313.16H642.1V313.88H642.66V313.88H643.23V312.43H643.79V313.16H644.35V313.88H644.91V313.88H645.47V312.43H646.03V313.16H646.6V313.16H647.16V313.88H647.72V314.6H648.28V314.6H648.84V314.6H649.41V313.88H649.97V313.88H650.53V314.6H651.09V313.16H651.65V313.88H652.22V313.88H652.78V314.6H653.34V314.6H653.9V313.88H654.46V313.88H655.02V314.6H655.59V314.6H656.15V313.88H656.71V314.6H657.27V313.88H657.83V314.6H658.4V313.88H658.96V313.16H659.52V314.6H660.08V313.88H660.64V314.6H661.21V314.6H661.77V314.6H662.33V313.88H662.89V314.6H663.45V314.6H664.01V313.88H664.58V314.6H665.14V313.88H665.7V313.88H666.26V313.16H666.82V313.88H667.39V313.88H667.95V314.6H668.51V313.88H669.07V314.6H669.63V313.88H670.2V314.6H670.76V313.88H671.32V314.6H671.88V314.6H672.44V313.88H673V313.88H673.57V313.88H674.13V314.6H674.69V313.88H675.25V314.6Z" fill="#ca9161" fill-opacity="0.5" stroke="#ca9161" stroke-width="0.55" stroke-opacity="1"/>
<path d="M504.44,314.6V313.88H505V314.6H505.57V311.71H506.13V312.43H506.69V310.99H507.25V310.27H507.81V309.54H508.38V305.93H508.94V297.98H509.5V287.87H510.06V280.64H510.62V275.59H511.19V273.42H511.75V270.53H512.31V248.13H512.87V248.13H513.43V251.02H513.99V253.91H514.56V267.64H515.12V261.13H515.68V264.75H516.24V283.53H516.8V290.04H517.37V296.54H517.93V306.65H518.49V303.76H519.05V305.93H519.61V307.38H520.17V310.27H520.74V310.27H521.3V313.88H521.86V310.99H522.42V311.71H522.98V309.54H523.55V308.82H524.11V308.1H524.67V307.38H525.23V304.49H525.79V302.32H526.36V307.38H526.92V305.93H527.48V305.21H528.04V300.15H528.6V297.98H529.16V300.15H529.73V298.71H530.29V296.54H530.85V297.26H531.41V297.26H531.97V293.65H532.54V294.37H533.1V298.71H533.66V292.93H534.22V290.76H534.78V289.31H535.35V293.65H535.91V297.26H536.47V275.59H537.03V292.93H537.59V289.31H538.15V282.81H538.72V287.15H539.28V277.03H539.84V282.81H540.4V269.08H540.96V287.15H541.53V279.2H542.09V290.76H542.65V281.37H543.21V277.03H543.77V290.04H544.34V280.64H544.9V266.19H545.46V272.7H546.02V284.98H546.58V287.87H547.14V278.48H547.71V274.86H548.27V284.25H548.83V274.86H549.39V275.59H549.95V279.92H550.52V287.15H551.08V280.64H551.64V287.87H552.2V282.81H552.76V280.64H553.33V271.97H553.89V283.53H554.45V285.7H555.01V289.31H555.57V285.7H556.13V287.15H556.7V284.25H557.26V287.15H557.82V289.31H558.38V287.87H558.94V299.43H559.51V293.65H560.07V290.76H560.63V294.37H561.19V292.2H561.75V295.81H562.32V296.54H562.88V295.09H563.44V297.98H564V297.26H564.56V291.48H565.12V290.76H565.69V299.43H566.25V299.43H566.81V295.81H567.37V297.98H567.93V303.76H568.5V297.98H569.06V303.76H569.62V304.49H570.18V304.49H570.74V297.98H571.31V304.49H571.87V304.49H572.43V307.38H572.99V296.54H573.55V305.21H574.12V297.26H574.68V303.76H575.24V298.71H575.8V306.65H576.36V299.43H576.92V303.04H577.49V301.6H578.05V303.76H578.61V302.32H579.17V298.71H579.73V303.76H580.3V303.76H580.86V308.1H581.42V302.32H581.98V297.98H582.54V301.6H583.11V306.65H583.67V306.65H584.23V304.49H584.79V301.6H585.35V304.49H585.91V303.76H586.48V303.04H587.04V305.93H587.6V295.81H588.16V297.98H588.72V296.54H589.29V302.32H589.85V300.15H590.41V301.6H590.97V303.76H591.53V305.93H592.1V297.26H592.66V307.38H593.22V305.21H593.78V308.1H594.34V297.98H594.9V303.04H595.47V305.21H596.03V309.54H596.59V308.1H597.15V306.65H597.71V306.65H598.28V301.6H598.84V301.6H599.4V308.82H599.96V304.49H600.52V308.82H601.09V311.71H601.65V305.93H602.21V302.32H602.77V310.27H603.33V306.65H603.89V305.93H604.46V302.32H605.02V306.65H605.58V308.82H606.14V303.76H606.7V313.16H607.27V307.38H607.83V311.71H608.39V308.82H608.95V312.43H609.51V310.27H610.08V310.27H610.64V311.71H611.2V304.49H611.76V312.43H612.32V305.21H612.88V308.82H613.45V308.82H614.01V308.1H614.57V310.99H615.13V313.16H615.69V305.93H616.26V308.82H616.82V310.99H617.38V311.71H617.94V308.82H618.5V313.16H619.07V310.27H619.63V313.16H620.19V313.88H620.75V310.27H621.31V310.27H621.87V311.71H622.44V307.38H623V311.71H623.56V311.71H624.12V312.43H624.68V312.43H625.25V310.99H625.81V311.71H626.37V311.71H626.93V313.16H627.49V310.99H628.05V311.71H628.62V313.16H629.18V310.27H629.74V310.99H630.3V311.71H630.86V312.43H631.43V310.27H631.99V310.99H632.55V308.82H633.11V310.99H633.67V310.27H634.24V312.43H634.8V313.16H635.36V312.43H635.92V312.43H636.48V310.99H637.04V312.43H637.61V313.16H638.17V312.43H638.73V312.43H639.29V312.43H639.85V312.43H640.42V312.43H640.98V311.71H641.54V312.43H642.1V310.99H642.66V309.54H643.23V310.99H643.79V313.16H644.35V313.88H644.91V313.88H645.47V313.16H646.03V312.43H646.6V310.99H647.16V311.71H647.72V314.6H648.28V310.99H648.84V314.6H649.41V312.43H649.97V312.43H650.53V312.43H651.09V313.16H651.65V312.43H652.22V310.27H652.78V314.6H653.34V313.16H653.9V313.16H654.46V313.16H655.02V313.16H655.59V310.27H656.15V313.16H656.71V313.88H657.27V312.43H657.83V311.71H658.4V312.43H658.96V313.88H659.52V313.16H660.08V313.16H660.64V313.88H661.21V312.43H661.77V313.16H662.33V313.88H662.89V314.6H663.45V313.16H664.01V312.43H664.58V313.16H665.14V313.88H665.7V313.16H666.26V311.71H666.82V313.16H667.39V312.43H667.95V313.16H668.51V312.43H669.07V312.43H669.63V314.6H670.2V313.88H670.76V313.16H671.32V314.6H671.88V313.16H672.44V311.71H673V311.71H673.57V313.88H674.13V312.43H674.69V313.88H675.25V314.6H675.81V312.43H676.38V310.99H676.94V314.6Z" fill="#cc78bc" fill-opacity="0.5" stroke="#cc78bc" stroke-width="0.55" stroke-opacity="1"/>
<path d="M505.57,314.6V311.71H506.13V313.16H506.69V312.43H507.25V309.54H507.81V307.38H508.38V303.04H508.94V297.98H509.5V281.37H510.06V272.7H510.62V263.3H511.19V256.8H511.75V241.63H512.31V240.18H512.87V240.18H513.43V236.57H513.99V238.02H514.56V245.24H515.12V252.47H515.68V269.08H516.24V276.31H516.8V284.25H517.37V289.31H517.93V291.48H518.49V292.2H519.05V302.32H519.61V296.54H520.17V300.15H520.74V302.32H521.3V303.04H521.86V296.54H522.42V297.98H522.98V295.09H523.55V297.26H524.11V292.93H524.67V292.93H525.23V292.93H525.79V289.31H526.36V289.31H526.92V282.81H527.48V280.64H528.04V283.53H528.6V290.04H529.16V279.92H529.73V282.09H530.29V282.81H530.85V285.7H531.41V282.81H531.97V279.92H532.54V279.92H533.1V274.14H533.66V278.48H534.22V274.14H534.78V266.92H535.35V261.86H535.91V261.86H536.47V266.92H537.03V275.59H537.59V279.92H538.15V286.42H538.72V284.98H539.28V279.92H539.84V278.48H540.4V271.97H540.96V280.64H541.53V287.15H542.09V284.98H542.65V280.64H543.21V284.98H543.77V292.93H544.34V290.04H544.9V287.15H545.46V287.15H546.02V287.87H546.58V291.48H547.14V290.04H547.71V290.04H548.27V295.81H548.83V298.71H549.39V295.09H549.95V292.2H550.52V295.81H551.08V291.48H551.64V297.98H552.2V294.37H552.76V300.15H553.33V295.09H553.89V293.65H554.45V292.93H555.01V300.15H555.57V292.2H556.13V300.15H556.7V297.26H557.26V300.15H557.82V297.98H558.38V300.87H558.94V299.43H559.51V302.32H560.07V300.87H560.63V298.71H561.19V302.32H561.75V298.71H562.32V304.49H562.88V303.04H563.44V298.71H564V303.76H564.56V297.98H565.12V300.15H565.69V299.43H566.25V303.04H566.81V301.6H567.37V304.49H567.93V301.6H568.5V298.71H569.06V300.87H569.62V300.15H570.18V303.76H570.74V305.21H571.31V301.6H571.87V304.49H572.43V304.49H572.99V301.6H573.55V305.21H574.12V303.76H574.68V305.93H575.24V308.1H575.8V308.82H576.36V308.1H576.92V307.38H577.49V310.27H578.05V308.82H578.61V308.82H579.17V309.54H579.73V306.65H580.3V308.1H580.86V307.38H581.42V308.1H581.98V307.38H582.54V308.82H583.11V310.27H583.67V310.99H584.23V310.99H584.79V308.82H585.35V308.1H585.91V308.82H586.48V308.82H587.04V310.27H587.6V309.54H588.16V309.54H588.72V310.99H589.29V310.99H589.85V312.43H590.41V310.99H590.97V311.71H591.53V311.71H592.1V311.71H592.66V310.27H593.22V312.43H593.78V313.16H594.34V312.43H594.9V313.16H595.47V313.88H596.03V313.16H596.59V311.71H597.15V310.99H597.71V310.99H598.28V313.88H598.84V309.54H599.4V313.88H599.96V310.99H600.52V313.88H601.09V312.43H601.65V311.71H602.21V313.16H602.77V312.43H603.33V312.43H603.89V313.16H604.46V313.88H605.02V313.16H605.58V312.43H606.14V311.71H606.7V310.99H607.27V313.88H607.83V311.71H608.39V312.43H608.95V313.88H609.51V313.88H610.08V313.88H610.64V313.16H611.2V312.43H611.76V314.6H612.32V313.16H612.88V313.88H613.45V312.43H614.01V312.43H614.57V313.16H615.13V312.43H615.69V313.88H616.26V314.6H616.82V311.71H617.38V311.71H617.94V313.88H618.5V313.88H619.07V313.16H619.63V312.43H620.19V313.16H620.75V313.88H621.31V313.16H621.87V313.88H622.44V313.16H623V313.88H623.56V313.16H624.12V314.6H624.68V313.16H625.25V313.88H625.81V312.43H626.37V313.16H626.93V314.6H627.49V313.88H628.05V313.16H628.62V314.6H629.18V314.6H629.74V313.88H630.3V314.6H630.86V314.6H631.43V313.88H631.99V313.88H632.55V314.6H633.11V313.88H633.67V314.6H634.24V313.16H634.8V313.16H635.36V313.88H635.92V314.6H636.48V313.88H637.04V313.88H637.61V313.16H638.17V313.16H638.73V313.88H639.29V314.6H639.85V313.16H640.42V313.16H640.98V313.88H641.54V313.16H642.1V313.88H642.66V313.16H643.23V313.16H643.79V312.43H644.35V313.16H644.91V313.16H645.47V313.88H646.03V314.6H646.6V314.6H647.16V313.16H647.72V313.88H648.28V314.6H648.84V314.6H649.41V314.6H649.97V313.88H650.53V314.6H651.09V313.88H651.65V314.6H652.22V313.16H652.78V313.88H653.34V313.88H653.9V314.6H654.46V314.6H655.02V313.88H655.59V314.6H656.15V313.88H656.71V313.88H657.27V314.6H657.83V314.6H658.4V313.88H658.96V312.43H659.52V313.88H660.08V313.88H660.64V314.6H661.21V314.6H661.77V314.6H662.33V313.88H662.89V314.6H663.45V314.6H664.01V314.6H664.58V314.6H665.14V313.88H665.7V314.6H666.26V313.88H666.82V314.6H667.39V312.43H667.95V314.6H668.51V314.6H669.07V314.6H669.63V314.6H670.2V314.6H670.76V313.88H671.32V314.6H671.88V313.88H672.44V314.6H673V314.6H673.57V313.16H674.13V313.88H674.69V314.6H675.25V313.16H675.81V313.88H676.38V313.88H676.94V314.6Z" fill="#d55e00" fill-opacity="0.5" stroke="#d55e00" stroke-width="0.55" stroke-opacity="1"/>
<path d="M502.76,314.6V313.16H503.32V308.82H503.88V307.38H504.44V306.65H505V297.26H505.57V279.92H506.13V268.36H506.69V266.19H507.25V261.13H507.81V264.03H508.38V277.03H508.94V294.37H509.5V299.43H510.06V309.54H510.62V310.27H511.19V310.27H511.75V313.88H512.31V314.6H512.87V314.6H513.43V313.88H513.99V313.88H514.56V311.71H515.12V313.16H515.68V312.43H516.24V312.43H516.8V314.6H517.37V310.99H517.93V312.43H518.49V311.71H519.05V312.43H519.61V306.65H520.17V310.99H520.74V311.71H521.3V310.27H521.86V312.43H522.42V307.38H522.98V311.71H523.55V310.99H524.11V305.21H524.67V302.32H525.23V306.65H525.79V304.49H526.36V307.38H526.92V302.32H527.48V295.09H528.04V308.82H528.6V300.15H529.16V299.43H529.73V301.6H530.29V292.93H530.85V295.81H531.41V291.48H531.97V284.25H532.54V290.76H533.1V287.87H533.66V280.64H534.22V285.7H534.78V292.93H535.35V282.81H535.91V285.7H536.47V281.37H537.03V280.64H537.59V278.48H538.15V284.98H538.72V269.08H539.28V289.31H539.84V287.15H540.4V287.15H540.96V279.92H541.53V286.42H542.09V279.92H542.65V279.2H543.21V277.03H543.77V279.2H544.34V266.92H544.9V275.59H545.46V288.59H546.02V279.2H546.58V279.92H547.14V274.86H547.71V280.64H548.27V275.59H548.83V277.03H549.39V289.31H549.95V289.31H550.52V286.42H551.08V285.7H551.64V272.7H552.2V273.42H552.76V274.86H553.33V283.53H553.89V290.04H554.45V287.87H555.01V297.98H555.57V290.04H556.13V285.7H556.7V297.98H557.26V291.48H557.82V299.43H558.38V300.15H558.94V293.65H559.51V299.43H560.07V302.32H560.63V295.09H561.19V301.6H561.75V289.31H562.32V308.1H562.88V300.87H563.44V299.43H564V292.2H564.56V302.32H565.12V300.87H565.69V303.04H566.25V303.04H566.81V308.82H567.37V301.6H567.93V309.54H568.5V301.6H569.06V301.6H569.62V308.1H570.18V304.49H570.74V310.99H571.31V304.49H571.87V304.49H572.43V308.1H572.99V308.1H573.55V308.1H574.12V310.27H574.68V303.76H575.24V300.87H575.8V310.27H576.36V305.21H576.92V305.21H577.49V303.04H578.05V305.21H578.61V312.43H579.17V310.99H579.73V308.1H580.3V306.65H580.86V312.43H581.42V301.6H581.98V306.65H582.54V303.76H583.11V308.1H583.67V308.1H584.23V305.93H584.79V313.16H585.35V305.93H585.91V308.82H586.48V313.16H587.04V303.76H587.6V311.71H588.16V304.49H588.72V305.21H589.29V310.27H589.85V309.54H590.41V309.54H590.97V305.93H591.53V305.93H592.1V308.1H592.66V308.1H593.22V310.99H593.78V313.88H594.34V308.82H594.9V308.82H595.47V306.65H596.03V306.65H596.59V308.82H597.15V312.43H597.71V311.71H598.28V307.38H598.84V311.71H599.4V313.88H599.96V310.99H600.52V311.71H601.09V310.99H601.65V311.71H602.21V310.27H602.77V310.27H603.33V311.71H603.89V312.43H604.46V307.38H605.02V308.1H605.58V309.54H606.14V312.43H606.7V308.1H607.27V312.43H607.83V312.43H608.39V313.16H608.95V305.93H609.51V311.71H610.08V311.71H610.64V311.71H611.2V308.82H611.76V309.54H612.32V311.71H612.88V311.71H613.45V313.88H614.01V312.43H614.57V309.54H615.13V309.54H615.69V313.88H616.26V312.43H616.82V313.88H617.38V313.88H617.94V308.1H618.5V312.43H619.07V314.6H619.63V311.71H620.19V314.6H620.75V311.71H621.31V312.43H621.87V314.6H622.44V314.6H623V313.16H623.56V312.43H624.12V313.16H624.68V314.6H625.25V312.43H625.81V312.43H626.37V312.43H626.93V313.16H627.49V313.88H628.05V310.99H628.62V313.88H629.18V312.43H629.74V313.16H630.3V313.88H630.86V313.88H631.43V313.88H631.99V313.88H632.55V313.88H633.11V313.88H633.67V311.71H634.24V314.6H634.8V313.88H635.36V313.16H635.92V313.88H636.48V311.71H637.04V313.88H637.61V313.16H638.17V313.16H638.73V314.6H639.29V314.6H639.85V314.6H640.42V314.6H640.98V313.16H641.54V313.16H642.1V314.6H642.66V311.71H643.23V313.88H643.79V313.88H644.35V313.16H644.91V314.6H645.47V313.88H646.03V314.6H646.6V314.6H647.16V314.6H647.72V314.6H648.28V313.16H648.84V314.6H649.41V313.16H649.97V313.16H650.53V313.16H651.09V313.88H651.65V314.6H652.22V313.88H652.78V313.16H653.34V313.16H653.9V313.88H654.46V313.88H655.02V314.6H655.59V314.6H656.15V314.6H656.71V312.43H657.27V313.88H657.83V312.43H658.4V313.88H658.96V314.6H659.52V314.6H660.08V313.88H660.64V313.88H661.21V313.88H661.77V313.88H662.33V313.88H662.89V314.6H663.45V313.88H664.01V314.6Z" fill="#0173b2" fill-opacity="0.5" stroke="#0173b2" stroke-width="0.55" stroke-opacity="1"/>
<path d="M503.88,314.6V312.43H504.44V312.43H505V312.43H505.57V310.99H506.13V310.99H506.69V304.49H507.25V299.43H507.81V288.59H508.38V276.31H508.94V271.97H509.5V256.8H510.06V248.85H510.62V220.68H511.19V206.23H511.75V207.67H512.31V200.45H512.87V220.68H513.43V217.06H513.99V230.79H514.56V238.74H515.12V250.3H515.68V267.64H516.24V281.37H516.8V283.53H517.37V292.93H517.93V299.43H518.49V307.38H519.05V309.54H519.61V308.1H520.17V310.99H520.74V310.99H521.3V313.16H521.86V309.54H522.42V309.54H522.98V312.43H523.55V311.71H524.11V307.38H524.67V309.54H525.23V308.82H525.79V306.65H526.36V310.99H526.92V305.93H527.48V310.27H528.04V304.49H528.6V305.21H529.16V306.65H529.73V300.87H530.29V302.32H530.85V305.93H531.41V304.49H531.97V304.49H532.54V298.71H533.1V303.04H533.66V303.04H534.22V300.87H534.78V300.87H535.35V295.09H535.91V296.54H536.47V300.87H537.03V304.49H537.59V300.87H538.15V297.98H538.72V293.65H539.28V299.43H539.84V302.32H540.4V295.09H540.96V295.81H541.53V297.26H542.09V302.32H542.65V299.43H543.21V294.37H543.77V299.43H544.34V297.26H544.9V294.37H545.46V297.26H546.02V301.6H546.58V289.31H547.14V295.09H547.71V295.09H548.27V297.98H548.83V291.48H549.39V289.31H549.95V293.65H550.52V296.54H551.08V300.15H551.64V298.71H552.2V293.65H552.76V294.37H553.33V295.09H553.89V295.81H554.45V298.71H555.01V302.32H555.57V299.43H556.13V295.09H556.7V292.93H557.26V300.15H557.82V300.15H558.38V297.98H558.94V297.98H559.51V296.54H560.07V299.43H560.63V301.6H561.19V300.15H561.75V299.43H562.32V302.32H562.88V300.15H563.44V303.04H564V300.87H564.56V300.87H565.12V302.32H565.69V307.38H566.25V304.49H566.81V305.21H567.37V305.21H567.93V300.15H568.5V308.82H569.06V304.49H569.62V303.76H570.18V302.32H570.74V303.04H571.31V307.38H571.87V306.65H572.43V305.21H572.99V306.65H573.55V305.93H574.12V303.04H574.68V309.54H575.24V308.82H575.8V305.93H576.36V308.1H576.92V307.38H577.49V308.82H578.05V308.1H578.61V305.93H579.17V308.82H579.73V309.54H580.3V307.38H580.86V308.82H581.42V306.65H581.98V308.82H582.54V307.38H583.11V309.54H583.67V311.71H584.23V310.99H584.79V310.27H585.35V305.93H585.91V308.1H586.48V309.54H587.04V310.99H587.6V308.1H588.16V309.54H588.72V310.27H589.29V311.71H589.85V306.65H590.41V310.27H590.97V308.1H591.53V310.27H592.1V308.1H592.66V311.71H593.22V310.27H593.78V310.99H594.34V310.99H594.9V308.82H595.47V310.27H596.03V310.99H596.59V310.99H597.15V310.99H597.71V312.43H598.28V309.54H598.84V307.38H599.4V311.71H599.96V311.71H600.52V312.43H601.09V307.38H601.65V311.71H602.21V309.54H602.77V310.99H603.33V309.54H603.89V310.27H604.46V310.99H605.02V313.16H605.58V309.54H606.14V309.54H606.7V312.43H607.27V312.43H607.83V310.27H608.39V312.43H608.95V312.43H609.51V311.71H610.08V310.99H610.64V312.43H611.2V310.99H611.76V312.43H612.32V313.16H612.88V310.27H613.45V311.71H614.01V310.99H614.57V309.54H615.13V310.99H615.69V312.43H616.26V310.27H616.82V310.99H617.38V310.27H617.94V310.99H618.5V312.43H619.07V310.99H619.63V313.16H620.19V310.99H620.75V310.99H621.31V313.88H621.87V313.16H622.44V312.43H623V311.71H623.56V313.16H624.12V313.16H624.68V310.99H625.25V310.99H625.81V311.71H626.37V313.88H626.93V313.88H627.49V313.88H628.05V313.88H628.62V311.71H629.18V311.71H629.74V313.88H630.3V311.71H630.86V312.43H631.43V313.88H631.99V310.99H632.55V312.43H633.11V313.88H633.67V312.43H634.24V312.43H634.8V313.88H635.36V312.43H635.92V313.16H636.48V313.88H637.04V313.16H637.61V313.16H638.17V314.6H638.73V313.88H639.29V313.88H639.85V313.88H640.42V311.71H640.98V313.88H641.54V314.6H642.1V312.43H642.66V313.16H643.23V311.71H643.79V313.88H644.35V312.43H644.91V312.43H645.47V313.88H646.03V313.16H646.6V313.88H647.16V313.88H647.72V314.6H648.28V312.43H648.84V313.16H649.41V313.88H649.97V313.88H650.53V313.16H651.09V313.16H651.65V313.88H652.22V312.43H652.78V313.88H653.34V314.6H653.9V312.43H654.46V313.88H655.02V313.16H655.59V313.16H656.15V313.88H656.71V313.88H657.27V314.6H657.83V314.6H658.4V314.6H658.96V313.88H659.52V312.43H660.08V313.88H660.64V313.16H661.21V313.88H661.77V314.6H662.33V313.88H662.89V312.43H663.45V314.6H664.01V312.43H664.58V314.6H665.14V313.88H665.7V313.88H666.26V313.88H666.82V314.6H667.39V314.6H667.95V313.88H668.51V314.6H669.07V314.6H669.63V314.6H670.2V313.88H670.76V313.16H671.32V313.88H671.88V313.88H672.44V314.6H673V313.16H673.57V314.6H674.13V314.6H674.69V313.16H675.25V314.6H675.81V313.88H676.38V313.16H676.94V313.88H677.5V314.6Z" fill="#029e73" fill-opacity="0.5" stroke="#029e73" stroke-width="0.55" stroke-opacity="1"/>
<path d="M497.7,314.6L498.15,314.6L498.6,314.6L499.05,314.6L499.5,314.6L499.95,314.6L500.4,314.6L500.85,314.6L501.3,314.6L501.75,314.6L502.19,314.6L502.64,314.6L503.09,314.6L503.54,314.6L503.99,314.6L504.44,314.6L504.89,314.6L505.34,314.6L505.79,314.6L506.24,314.6L506.69,314.6L507.14,314.6L507.59,314.6L508.04,314.6L508.49,314.6L508.94,314.6L509.39,314.52L509.84,314.44L510.29,314.35L510.74,314.25L511.19,314.15L511.63,314.05L512.08,313.93L512.53,313.82L512.98,313.7L513.43,313.57L513.88,313.43L514.33,313.29L514.78,313.13L515.23,312.97L515.68,312.79L516.13,312.6L516.58,312.4L517.03,312.18L517.48,311.95L517.93,311.7L518.38,311.44L518.83,311.17L519.28,310.88L519.73,310.58L520.17,310.27L520.62,309.93L521.07,309.58L521.52,309.2L521.97,308.8L522.42,308.36L522.87,307.9L523.32,307.41L523.77,306.88L524.22,306.28L524.67,305.6L525.12,304.87L525.57,304.09L526.02,303.28L526.47,302.47L526.92,301.66L527.37,300.87L527.82,300.09L528.27,299.3L528.72,298.5L529.16,297.7L529.61,296.88L530.06,296.07L530.51,295.26L530.96,294.45L531.41,293.65L531.86,292.84L532.31,292L532.76,291.16L533.21,290.32L533.66,289.48L534.11,288.66L534.56,287.86L535.01,287.1L535.46,286.37L535.91,285.7L536.36,285.05L536.81,284.39L537.26,283.73L537.71,283.1L538.15,282.49L538.6,281.92L539.05,281.4L539.5,280.95L539.95,280.57L540.4,280.28L540.85,280.04L541.3,279.81L541.75,279.59L542.2,279.39L542.65,279.22L543.1,279.07L543.55,278.95L544,278.87L544.45,278.84L544.9,278.86L545.35,278.98L545.8,279.17L546.25,279.43L546.7,279.74L547.14,280.08L547.59,280.45L548.04,280.82L548.49,281.2L548.94,281.68L549.39,282.24L549.84,282.86L550.29,283.51L550.74,284.18L551.19,284.82L551.64,285.45L552.09,286.09L552.54,286.75L552.99,287.42L553.44,288.09L553.89,288.78L554.34,289.46L554.79,290.15L555.24,290.83L555.69,291.5L556.13,292.15L556.58,292.79L557.03,293.41L557.48,294.01L557.93,294.6L558.38,295.19L558.83,295.78L559.28,296.37L559.73,296.95L560.18,297.53L560.63,298.08L561.08,298.63L561.53,299.15L561.98,299.65L562.43,300.12L562.88,300.55L563.33,300.96L563.78,301.32L564.23,301.67L564.68,302.02L565.12,302.36L565.57,302.68L566.02,303L566.47,303.3L566.92,303.58L567.37,303.85L567.82,304.09L568.27,304.31L568.72,304.51L569.17,304.68L569.62,304.82L570.07,304.93L570.52,305.04L570.97,305.14L571.42,305.24L571.87,305.32L572.32,305.41L572.77,305.48L573.22,305.56L573.67,305.62L574.12,305.69L574.56,305.74L575.01,305.8L575.46,305.84L575.91,305.89L576.36,305.93L576.81,305.97L577.26,306L577.71,306.03L578.16,306.06L578.61,306.08L579.06,306.1L579.51,306.13L579.96,306.15L580.41,306.16L580.86,306.18L581.31,306.2L581.76,306.22L582.21,306.24L582.66,306.27L583.11,306.29L583.55,306.32L584,306.35L584.45,306.38L584.9,306.42L585.35,306.46L585.8,306.51L586.25,306.57L586.7,306.63L587.15,306.71L587.6,306.79L588.05,306.87L588.5,306.97L588.95,307.06L589.4,307.16L589.85,307.27L590.3,307.37L590.75,307.48L591.2,307.6L591.65,307.71L592.1,307.82L592.54,307.93L592.99,308.04L593.44,308.15L593.89,308.27L594.34,308.4L594.79,308.53L595.24,308.66L595.69,308.8L596.14,308.95L596.59,309.09L597.04,309.24L597.49,309.38L597.94,309.52L598.39,309.66L598.84,309.8L599.29,309.93L599.74,310.06L600.19,310.18L600.64,310.29L601.09,310.4L601.53,310.51L601.98,310.61L602.43,310.72L602.88,310.82L603.33,310.92L603.78,311.02L604.23,311.12L604.68,311.21L605.13,311.31L605.58,311.4L606.03,311.49L606.48,311.58L606.93,311.66L607.38,311.75L607.83,311.83L608.28,311.91L608.73,311.99L609.18,312.07L609.63,312.14L610.08,312.22L610.52,312.29L610.97,312.36L611.42,312.43L611.87,312.49L612.32,312.56L612.77,312.62L613.22,312.68L613.67,312.74L614.12,312.8L614.57,312.86L615.02,312.91L615.47,312.96L615.92,313.01L616.37,313.06L616.82,313.1L617.27,313.15L617.72,313.2L618.17,313.24L618.62,313.29L619.07,313.33L619.51,313.38L619.96,313.42L620.41,313.47L620.86,313.51L621.31,313.55L621.76,313.59L622.21,313.64L622.66,313.68L623.11,313.71L623.56,313.75L624.01,313.79L624.46,313.83L624.91,313.86L625.36,313.9L625.81,313.93L626.26,313.96L626.71,314L627.16,314.03L627.61,314.05L628.05,314.08L628.5,314.11L628.95,314.13L629.4,314.16L629.85,314.18L630.3,314.2L630.75,314.22L631.2,314.23L631.65,314.25L632.1,314.27L632.55,314.28L633,314.3L633.45,314.31L633.9,314.33L634.35,314.34L634.8,314.35L635.25,314.37L635.7,314.38L636.15,314.39L636.6,314.4L637.04,314.42L637.49,314.43L637.94,314.44L638.39,314.45L638.84,314.46L639.29,314.47L639.74,314.48L640.19,314.48L640.64,314.49L641.09,314.5L641.54,314.51L641.99,314.51L642.44,314.52L642.89,314.52L643.34,314.52L643.79,314.53L644.24,314.53L644.69,314.53L645.14,314.54L645.59,314.54L646.03,314.54L646.48,314.54L646.93,314.55L647.38,314.55L647.83,314.55L648.28,314.55L648.73,314.56L649.18,314.56L649.63,314.56L650.08,314.56L650.53,314.56L650.98,314.57L651.43,314.57L651.88,314.57L652.33,314.57L652.78,314.57L653.23,314.57L653.68,314.58L654.13,314.58L654.58,314.58L655.02,314.58L655.47,314.58L655.92,314.58L656.37,314.59L656.82,314.59L657.27,314.59L657.72,314.59L658.17,314.59L658.62,314.59L659.07,314.59L659.52,314.59L659.97,314.59L660.42,314.59L660.87,314.6L661.32,314.6L661.77,314.6L662.22,314.6L662.67,314.6L663.12,314.6L663.57,314.6L664.01,314.6L664.46,314.6L664.91,314.6L665.36,314.6L665.81,314.6L666.26,314.6L666.71,314.6L667.16,314.6L667.61,314.6L668.06,314.6L668.51,314.6L668.96,314.6L669.41,314.6L669.86,314.6L670.31,314.6L670.76,314.6L671.21,314.6L671.66,314.6L672.11,314.6L672.56,314.6L673,314.6L673.45,314.6L673.9,314.6L674.35,314.6L674.8,314.6L675.25,314.6L675.7,314.6L676.15,314.6L676.6,314.6L677.05,314.6L677.5,314.6" fill="none" stroke="#0b3c66" stroke-width="0.3" stroke-opacity="0.75"/>
<path d="M497.7,314.6L498.15,314.6L498.6,314.6L499.05,314.6L499.5,314.6L499.95,314.6L500.4,314.6L500.85,314.59L501.3,314.56L501.75,314.49L502.19,314.33L502.64,313.95L503.09,313.18L503.54,311.73L503.99,309.24L504.44,305.37L504.89,299.94L505.34,293.12L505.79,285.55L506.24,278.36L506.69,272.87L507.14,270.28L507.59,271.16L508.04,275.32L508.49,281.82L508.94,289.37L509.39,296.6L509.84,302.69L510.29,307.25L510.74,310.29L511.19,312.11L511.63,313.08L512.08,313.51L512.53,313.65L512.98,313.63L513.43,313.55L513.88,313.43L514.33,313.29L514.78,313.13L515.23,312.97L515.68,312.79L516.13,312.6L516.58,312.4L517.03,312.18L517.48,311.95L517.93,311.7L518.38,311.44L518.83,311.17L519.28,310.88L519.73,310.58L520.17,310.26L520.62,309.93L521.07,309.58L521.52,309.2L521.97,308.8L522.42,308.36L522.87,307.9L523.32,307.41L523.77,306.88L524.22,306.28L524.67,305.6L525.12,304.87L525.57,304.09L526.02,303.28L526.47,302.47L526.92,301.66L527.37,300.87L527.82,300.09L528.27,299.3L528.72,298.5L529.16,297.7L529.61,296.88L530.06,296.07L530.51,295.26L530.96,294.45L531.41,293.65L531.86,292.84L532.31,292L532.76,291.16L533.21,290.32L533.66,289.48L534.11,288.66L534.56,287.86L535.01,287.1L535.46,286.37L535.91,285.7L536.36,285.05L536.81,284.39L537.26,283.73L537.71,283.1L538.15,282.49L538.6,281.92L539.05,281.4L539.5,280.95L539.95,280.57L540.4,280.28L540.85,280.04L541.3,279.81L541.75,279.59L542.2,279.39L542.65,279.22L543.1,279.07L543.55,278.95L544,278.87L544.45,278.84L544.9,278.86L545.35,278.98L545.8,279.17L546.25,279.43L546.7,279.74L547.14,280.08L547.59,280.45L548.04,280.82L548.49,281.2L548.94,281.68L549.39,282.24L549.84,282.86L550.29,283.51L550.74,284.18L551.19,284.82L551.64,285.45L552.09,286.09L552.54,286.75L552.99,287.42L553.44,288.09L553.89,288.78L554.34,289.46L554.79,290.15L555.24,290.83L555.69,291.5L556.13,292.15L556.58,292.79L557.03,293.41L557.48,294.01L557.93,294.6L558.38,295.19L558.83,295.78L559.28,296.37L559.73,296.95L560.18,297.53L560.63,298.08L561.08,298.63L561.53,299.15L561.98,299.65L562.43,300.12L562.88,300.55L563.33,300.96L563.78,301.32L564.23,301.67L564.68,302.02L565.12,302.36L565.57,302.68L566.02,303L566.47,303.3L566.92,303.58L567.37,303.85L567.82,304.09L568.27,304.31L568.72,304.51L569.17,304.68L569.62,304.82L570.07,304.93L570.52,305.04L570.97,305.14L571.42,305.24L571.87,305.32L572.32,305.41L572.77,305.48L573.22,305.56L573.67,305.62L574.12,305.69L574.56,305.74L575.01,305.8L575.46,305.84L575.91,305.89L576.36,305.93L576.81,305.97L577.26,306L577.71,306.03L578.16,306.06L578.61,306.08L579.06,306.1L579.51,306.13L579.96,306.15L580.41,306.16L580.86,306.18L581.31,306.2L581.76,306.22L582.21,306.24L582.66,306.27L583.11,306.29L583.55,306.32L584,306.35L584.45,306.38L584.9,306.42L585.35,306.46L585.8,306.51L586.25,306.57L586.7,306.63L587.15,306.71L587.6,306.79L588.05,306.87L588.5,306.97L588.95,307.06L589.4,307.16L589.85,307.27L590.3,307.37L590.75,307.48L591.2,307.6L591.65,307.71L592.1,307.82L592.54,307.93L592.99,308.04L593.44,308.15L593.89,308.27L594.34,308.4L594.79,308.53L595.24,308.66L595.69,308.8L596.14,308.95L596.59,309.09L597.04,309.24L597.49,309.38L597.94,309.52L598.39,309.66L598.84,309.8L599.29,309.93L599.74,310.06L600.19,310.18L600.64,310.29L601.09,310.4L601.53,310.51L601.98,310.61L602.43,310.72L602.88,310.82L603.33,310.92L603.78,311.02L604.23,311.12L604.68,311.21L605.13,311.31L605.58,311.4L606.03,311.49L606.48,311.58L606.93,311.66L607.38,311.75L607.83,311.83L608.28,311.91L608.73,311.99L609.18,312.07L609.63,312.14L610.08,312.22L610.52,312.29L610.97,312.36L611.42,312.43L611.87,312.49L612.32,312.56L612.77,312.62L613.22,312.68L613.67,312.74L614.12,312.8L614.57,312.86L615.02,312.91L615.47,312.96L615.92,313.01L616.37,313.06L616.82,313.1L617.27,313.15L617.72,313.2L618.17,313.24L618.62,313.29L619.07,313.33L619.51,313.38L619.96,313.42L620.41,313.47L620.86,313.51L621.31,313.55L621.76,313.59L622.21,313.64L622.66,313.68L623.11,313.71L623.56,313.75L624.01,313.79L624.46,313.83L624.91,313.86L625.36,313.9L625.81,313.93L626.26,313.96L626.71,314L627.16,314.03L627.61,314.05L628.05,314.08L628.5,314.11L628.95,314.13L629.4,314.16L629.85,314.18L630.3,314.2L630.75,314.22L631.2,314.23L631.65,314.25L632.1,314.27L632.55,314.28L633,314.3L633.45,314.31L633.9,314.33L634.35,314.34L634.8,314.35L635.25,314.37L635.7,314.38L636.15,314.39L636.6,314.4L637.04,314.42L637.49,314.43L637.94,314.44L638.39,314.45L638.84,314.46L639.29,314.47L639.74,314.48L640.19,314.48L640.64,314.49L641.09,314.5L641.54,314.51L641.99,314.51L642.44,314.52L642.89,314.52L643.34,314.52L643.79,314.53L644.24,314.53L644.69,314.53L645.14,314.54L645.59,314.54L646.03,314.54L646.48,314.54L646.93,314.55L647.38,314.55L647.83,314.55L648.28,314.55L648.73,314.56L649.18,314.56L649.63,314.56L650.08,314.56L650.53,314.56L650.98,314.57L651.43,314.57L651.88,314.57L652.33,314.57L652.78,314.57L653.23,314.57L653.68,314.58L654.13,314.58L654.58,314.58L655.02,314.58L655.47,314.58L655.92,314.58L656.37,314.59L656.82,314.59L657.27,314.59L657.72,314.59L658.17,314.59L658.62,314.59L659.07,314.59L659.52,314.59L659.97,314.59L660.42,314.59L660.87,314.6L661.32,314.6L661.77,314.6L662.22,314.6L662.67,314.6L663.12,314.6L663.57,314.6L664.01,314.6L664.46,314.6L664.91,314.6L665.36,314.6L665.81,314.6L666.26,314.6L666.71,314.6L667.16,314.6L667.61,314.6L668.06,314.6L668.51,314.6L668.96,314.6L669.41,314.6L669.86,314.6L670.31,314.6L670.76,314.6L671.21,314.6L671.66,314.6L672.11,314.6L672.56,314.6L673,314.6L673.45,314.6L673.9,314.6L674.35,314.6L674.8,314.6L675.25,314.6L675.7,314.6L676.15,314.6L676.6,314.6L677.05,314.6L677.5,314.6" fill="none" stroke="#0b3c66" stroke-width="0.5" stroke-opacity="0.95"/>
<path d="M497.7,314.6L498.15,314.6L498.6,314.6L499.05,314.6L499.5,314.6L499.95,314.6L500.4,314.6L500.85,314.6L501.3,314.6L501.75,314.59L502.19,314.58L502.64,314.56L503.09,314.55L503.54,314.53L503.99,314.5L504.44,314.48L504.89,314.46L505.34,314.43L505.79,314.4L506.24,314.37L506.69,314.34L507.14,314.3L507.59,314.27L508.04,314.24L508.49,314.2L508.94,314.17L509.39,314.13L509.84,314.09L510.29,314.04L510.74,313.99L511.19,313.94L511.63,313.88L512.08,313.82L512.53,313.76L512.98,313.69L513.43,313.62L513.88,313.55L514.33,313.48L514.78,313.41L515.23,313.33L515.68,313.25L516.13,313.17L516.58,313.08L517.03,312.99L517.48,312.89L517.93,312.79L518.38,312.67L518.83,312.55L519.28,312.43L519.73,312.29L520.17,312.14L520.62,311.98L521.07,311.78L521.52,311.55L521.97,311.3L522.42,311.03L522.87,310.75L523.32,310.45L523.77,310.14L524.22,309.82L524.67,309.47L525.12,309.08L525.57,308.66L526.02,308.22L526.47,307.76L526.92,307.3L527.37,306.84L527.82,306.4L528.27,305.97L528.72,305.57L529.16,305.19L529.61,304.81L530.06,304.43L530.51,304.06L530.96,303.7L531.41,303.34L531.86,302.99L532.31,302.64L532.76,302.3L533.21,301.97L533.66,301.64L534.11,301.33L534.56,301.02L535.01,300.72L535.46,300.42L535.91,300.13L536.36,299.83L536.81,299.54L537.26,299.25L537.71,298.97L538.15,298.71L538.6,298.46L539.05,298.22L539.5,298L539.95,297.8L540.4,297.62L540.85,297.45L541.3,297.28L541.75,297.11L542.2,296.95L542.65,296.78L543.1,296.63L543.55,296.48L544,296.34L544.45,296.21L544.9,296.1L545.35,296L545.8,295.92L546.25,295.86L546.7,295.83L547.14,295.81L547.59,295.82L548.04,295.84L548.49,295.88L548.94,295.92L549.39,295.98L549.84,296.05L550.29,296.12L550.74,296.2L551.19,296.29L551.64,296.39L552.09,296.48L552.54,296.59L552.99,296.69L553.44,296.79L553.89,296.9L554.34,297.01L554.79,297.14L555.24,297.28L555.69,297.44L556.13,297.61L556.58,297.79L557.03,297.98L557.48,298.18L557.93,298.38L558.38,298.59L558.83,298.81L559.28,299.03L559.73,299.25L560.18,299.47L560.63,299.7L561.08,299.92L561.53,300.15L561.98,300.4L562.43,300.66L562.88,300.93L563.33,301.2L563.78,301.49L564.23,301.77L564.68,302.06L565.12,302.35L565.57,302.64L566.02,302.92L566.47,303.19L566.92,303.46L567.37,303.71L567.82,303.95L568.27,304.18L568.72,304.4L569.17,304.63L569.62,304.86L570.07,305.09L570.52,305.31L570.97,305.53L571.42,305.75L571.87,305.96L572.32,306.16L572.77,306.36L573.22,306.54L573.67,306.7L574.12,306.86L574.56,306.99L575.01,307.11L575.46,307.21L575.91,307.29L576.36,307.37L576.81,307.44L577.26,307.5L577.71,307.56L578.16,307.62L578.61,307.67L579.06,307.73L579.51,307.77L579.96,307.82L580.41,307.86L580.86,307.9L581.31,307.94L581.76,307.98L582.21,308.02L582.66,308.06L583.11,308.1L583.55,308.14L584,308.18L584.45,308.22L584.9,308.26L585.35,308.31L585.8,308.35L586.25,308.4L586.7,308.46L587.15,308.52L587.6,308.58L588.05,308.64L588.5,308.71L588.95,308.79L589.4,308.86L589.85,308.94L590.3,309.02L590.75,309.11L591.2,309.19L591.65,309.27L592.1,309.36L592.54,309.44L592.99,309.53L593.44,309.61L593.89,309.7L594.34,309.78L594.79,309.86L595.24,309.93L595.69,310.01L596.14,310.08L596.59,310.14L597.04,310.21L597.49,310.27L597.94,310.32L598.39,310.37L598.84,310.43L599.29,310.48L599.74,310.53L600.19,310.57L600.64,310.62L601.09,310.67L601.53,310.71L601.98,310.76L602.43,310.8L602.88,310.84L603.33,310.88L603.78,310.92L604.23,310.96L604.68,311L605.13,311.04L605.58,311.08L606.03,311.12L606.48,311.16L606.93,311.19L607.38,311.23L607.83,311.27L608.28,311.3L608.73,311.34L609.18,311.37L609.63,311.41L610.08,311.44L610.52,311.48L610.97,311.51L611.42,311.54L611.87,311.58L612.32,311.61L612.77,311.64L613.22,311.67L613.67,311.7L614.12,311.73L614.57,311.76L615.02,311.8L615.47,311.82L615.92,311.85L616.37,311.88L616.82,311.91L617.27,311.94L617.72,311.97L618.17,312L618.62,312.03L619.07,312.05L619.51,312.08L619.96,312.11L620.41,312.14L620.86,312.16L621.31,312.19L621.76,312.22L622.21,312.24L622.66,312.27L623.11,312.3L623.56,312.32L624.01,312.35L624.46,312.38L624.91,312.4L625.36,312.43L625.81,312.45L626.26,312.48L626.71,312.5L627.16,312.53L627.61,312.55L628.05,312.57L628.5,312.6L628.95,312.62L629.4,312.64L629.85,312.67L630.3,312.69L630.75,312.71L631.2,312.73L631.65,312.75L632.1,312.77L632.55,312.79L633,312.81L633.45,312.83L633.9,312.85L634.35,312.87L634.8,312.89L635.25,312.91L635.7,312.93L636.15,312.95L636.6,312.97L637.04,312.99L637.49,313.01L637.94,313.03L638.39,313.05L638.84,313.07L639.29,313.09L639.74,313.1L640.19,313.12L640.64,313.14L641.09,313.16L641.54,313.18L641.99,313.19L642.44,313.21L642.89,313.23L643.34,313.25L643.79,313.26L644.24,313.28L644.69,313.3L645.14,313.31L645.59,313.33L646.03,313.35L646.48,313.36L646.93,313.38L647.38,313.39L647.83,313.41L648.28,313.42L648.73,313.44L649.18,313.45L649.63,313.47L650.08,313.48L650.53,313.49L650.98,313.51L651.43,313.52L651.88,313.53L652.33,313.54L652.78,313.56L653.23,313.57L653.68,313.58L654.13,313.59L654.58,313.6L655.02,313.61L655.47,313.62L655.92,313.64L656.37,313.65L656.82,313.66L657.27,313.67L657.72,313.68L658.17,313.69L658.62,313.7L659.07,313.71L659.52,313.72L659.97,313.73L660.42,313.74L660.87,313.75L661.32,313.76L661.77,313.77L662.22,313.78L662.67,313.79L663.12,313.8L663.57,313.81L664.01,313.82L664.46,313.83L664.91,313.84L665.36,313.84L665.81,313.85L666.26,313.86L666.71,313.87L667.16,313.88L667.61,313.89L668.06,313.89L668.51,313.9L668.96,313.91L669.41,313.92L669.86,313.93L670.31,313.93L670.76,313.94L671.21,313.95L671.66,313.95L672.11,313.96L672.56,313.97L673,313.97L673.45,313.98L673.9,313.98L674.35,313.99L674.8,313.99L675.25,314L675.7,314L676.15,314.01L676.6,314.01L677.05,314.02L677.5,314.02" fill="none" stroke="#0a5236" stroke-width="0.3" stroke-opacity="0.75"/>
<path d="M497.7,314.6L498.15,314.6L498.6,314.6L499.05,314.6L499.5,314.6L499.95,314.6L500.4,314.6L500.85,314.59L501.3,314.58L501.75,314.56L502.19,314.52L502.64,314.46L503.09,314.36L503.54,314.19L503.99,313.92L504.44,313.5L504.89,312.84L505.34,311.86L505.79,310.43L506.24,308.38L506.69,305.57L507.14,301.81L507.59,296.96L508.04,290.9L508.49,283.6L508.94,275.14L509.39,265.73L509.84,255.71L510.29,245.56L510.74,235.85L511.19,227.21L511.63,220.27L512.08,215.55L512.53,213.42L512.98,214.05L513.43,217.38L513.88,223.14L514.33,230.87L514.78,240L515.23,249.88L515.68,259.91L516.13,269.56L516.58,278.4L517.03,286.17L517.48,292.72L517.93,298.03L518.38,302.17L518.83,305.29L519.28,307.53L519.73,309.09L520.17,310.1L520.62,310.71L521.07,311.02L521.52,311.11L521.97,311.05L522.42,310.89L522.87,310.67L523.32,310.41L523.77,310.12L524.22,309.81L524.67,309.47L525.12,309.08L525.57,308.66L526.02,308.22L526.47,307.76L526.92,307.3L527.37,306.84L527.82,306.4L528.27,305.97L528.72,305.57L529.16,305.19L529.61,304.81L530.06,304.43L530.51,304.06L530.96,303.7L531.41,303.34L531.86,302.99L532.31,302.64L532.76,302.3L533.21,301.97L533.66,301.64L534.11,301.33L534.56,301.02L535.01,300.72L535.46,300.42L535.91,300.13L536.36,299.83L536.81,299.54L537.26,299.25L537.71,298.97L538.15,298.71L538.6,298.46L539.05,298.22L539.5,298L539.95,297.8L540.4,297.62L540.85,297.45L541.3,297.28L541.75,297.11L542.2,296.95L542.65,296.78L543.1,296.63L543.55,296.48L544,296.34L544.45,296.21L544.9,296.1L545.35,296L545.8,295.92L546.25,295.86L546.7,295.83L547.14,295.81L547.59,295.82L548.04,295.84L548.49,295.88L548.94,295.92L549.39,295.98L549.84,296.05L550.29,296.12L550.74,296.2L551.19,296.29L551.64,296.39L552.09,296.48L552.54,296.59L552.99,296.69L553.44,296.79L553.89,296.9L554.34,297.01L554.79,297.14L555.24,297.28L555.69,297.44L556.13,297.61L556.58,297.79L557.03,297.98L557.48,298.18L557.93,298.38L558.38,298.59L558.83,298.81L559.28,299.03L559.73,299.25L560.18,299.47L560.63,299.7L561.08,299.92L561.53,300.15L561.98,300.4L562.43,300.66L562.88,300.93L563.33,301.2L563.78,301.49L564.23,301.77L564.68,302.06L565.12,302.35L565.57,302.64L566.02,302.92L566.47,303.19L566.92,303.46L567.37,303.71L567.82,303.95L568.27,304.18L568.72,304.4L569.17,304.63L569.62,304.86L570.07,305.09L570.52,305.31L570.97,305.53L571.42,305.75L571.87,305.96L572.32,306.16L572.77,306.36L573.22,306.54L573.67,306.7L574.12,306.86L574.56,306.99L575.01,307.11L575.46,307.21L575.91,307.29L576.36,307.37L576.81,307.44L577.26,307.5L577.71,307.56L578.16,307.62L578.61,307.67L579.06,307.73L579.51,307.77L579.96,307.82L580.41,307.86L580.86,307.9L581.31,307.94L581.76,307.98L582.21,308.02L582.66,308.06L583.11,308.1L583.55,308.14L584,308.18L584.45,308.22L584.9,308.26L585.35,308.31L585.8,308.35L586.25,308.4L586.7,308.46L587.15,308.52L587.6,308.58L588.05,308.64L588.5,308.71L588.95,308.79L589.4,308.86L589.85,308.94L590.3,309.02L590.75,309.11L591.2,309.19L591.65,309.27L592.1,309.36L592.54,309.44L592.99,309.53L593.44,309.61L593.89,309.7L594.34,309.78L594.79,309.86L595.24,309.93L595.69,310.01L596.14,310.08L596.59,310.14L597.04,310.21L597.49,310.27L597.94,310.32L598.39,310.37L598.84,310.43L599.29,310.48L599.74,310.53L600.19,310.57L600.64,310.62L601.09,310.67L601.53,310.71L601.98,310.76L602.43,310.8L602.88,310.84L603.33,310.88L603.78,310.92L604.23,310.96L604.68,311L605.13,311.04L605.58,311.08L606.03,311.12L606.48,311.16L606.93,311.19L607.38,311.23L607.83,311.27L608.28,311.3L608.73,311.34L609.18,311.37L609.63,311.41L610.08,311.44L610.52,311.48L610.97,311.51L611.42,311.54L611.87,311.58L612.32,311.61L612.77,311.64L613.22,311.67L613.67,311.7L614.12,311.73L614.57,311.76L615.02,311.8L615.47,311.82L615.92,311.85L616.37,311.88L616.82,311.91L617.27,311.94L617.72,311.97L618.17,312L618.62,312.03L619.07,312.05L619.51,312.08L619.96,312.11L620.41,312.14L620.86,312.16L621.31,312.19L621.76,312.22L622.21,312.24L622.66,312.27L623.11,312.3L623.56,312.32L624.01,312.35L624.46,312.38L624.91,312.4L625.36,312.43L625.81,312.45L626.26,312.48L626.71,312.5L627.16,312.53L627.61,312.55L628.05,312.57L628.5,312.6L628.95,312.62L629.4,312.64L629.85,312.67L630.3,312.69L630.75,312.71L631.2,312.73L631.65,312.75L632.1,312.77L632.55,312.79L633,312.81L633.45,312.83L633.9,312.85L634.35,312.87L634.8,312.89L635.25,312.91L635.7,312.93L636.15,312.95L636.6,312.97L637.04,312.99L637.49,313.01L637.94,313.03L638.39,313.05L638.84,313.07L639.29,313.09L639.74,313.1L640.19,313.12L640.64,313.14L641.09,313.16L641.54,313.18L641.99,313.19L642.44,313.21L642.89,313.23L643.34,313.25L643.79,313.26L644.24,313.28L644.69,313.3L645.14,313.31L645.59,313.33L646.03,313.35L646.48,313.36L646.93,313.38L647.38,313.39L647.83,313.41L648.28,313.42L648.73,313.44L649.18,313.45L649.63,313.47L650.08,313.48L650.53,313.49L650.98,313.51L651.43,313.52L651.88,313.53L652.33,313.54L652.78,313.56L653.23,313.57L653.68,313.58L654.13,313.59L654.58,313.6L655.02,313.61L655.47,313.62L655.92,313.64L656.37,313.65L656.82,313.66L657.27,313.67L657.72,313.68L658.17,313.69L658.62,313.7L659.07,313.71L659.52,313.72L659.97,313.73L660.42,313.74L660.87,313.75L661.32,313.76L661.77,313.77L662.22,313.78L662.67,313.79L663.12,313.8L663.57,313.81L664.01,313.82L664.46,313.83L664.91,313.84L665.36,313.84L665.81,313.85L666.26,313.86L666.71,313.87L667.16,313.88L667.61,313.89L668.06,313.89L668.51,313.9L668.96,313.91L669.41,313.92L669.86,313.93L670.31,313.93L670.76,313.94L671.21,313.95L671.66,313.95L672.11,313.96L672.56,313.97L673,313.97L673.45,313.98L673.9,313.98L674.35,313.99L674.8,313.99L675.25,314L675.7,314L676.15,314.01L676.6,314.01L677.05,314.02L677.5,314.02" fill="none" stroke="#0a5236" stroke-width="0.5" stroke-opacity="0.95"/>
<path d="M497.7,314.6L498.15,314.6L498.6,314.6L499.05,314.6L499.5,314.6L499.95,314.6L500.4,314.6L500.85,314.6L501.3,314.6L501.75,314.6L502.19,314.6L502.64,314.6L503.09,314.6L503.54,314.6L503.99,314.6L504.44,314.6L504.89,314.59L505.34,314.55L505.79,314.5L506.24,314.42L506.69,314.33L507.14,314.23L507.59,314.11L508.04,313.97L508.49,313.83L508.94,313.69L509.39,313.53L509.84,313.38L510.29,313.22L510.74,313.02L511.19,312.78L511.63,312.51L512.08,312.21L512.53,311.89L512.98,311.55L513.43,311.19L513.88,310.83L514.33,310.45L514.78,310.07L515.23,309.66L515.68,309.22L516.13,308.75L516.58,308.26L517.03,307.74L517.48,307.2L517.93,306.65L518.38,306.06L518.83,305.42L519.28,304.75L519.73,304.07L520.17,303.4L520.62,302.77L521.07,302.14L521.52,301.43L521.97,300.54L522.42,299.46L522.87,298.27L523.32,297.09L523.77,296L524.22,294.91L524.67,293.82L525.12,292.74L525.57,291.69L526.02,290.69L526.47,289.75L526.92,288.88L527.37,288.03L527.82,287.18L528.27,286.36L528.72,285.56L529.16,284.79L529.61,284.07L530.06,283.39L530.51,282.77L530.96,282.21L531.41,281.73L531.86,281.28L532.31,280.86L532.76,280.47L533.21,280.11L533.66,279.79L534.11,279.52L534.56,279.29L535.01,279.11L535.46,278.95L535.91,278.79L536.36,278.66L536.81,278.55L537.26,278.49L537.71,278.48L538.15,278.61L538.6,278.87L539.05,279.24L539.5,279.68L539.95,280.16L540.4,280.64L540.85,281.21L541.3,281.93L541.75,282.73L542.2,283.52L542.65,284.25L543.1,284.92L543.55,285.58L544,286.22L544.45,286.86L544.9,287.47L545.35,288.08L545.8,288.66L546.25,289.24L546.7,289.81L547.14,290.38L547.59,290.94L548.04,291.48L548.49,292L548.94,292.5L549.39,292.96L549.84,293.39L550.29,293.79L550.74,294.17L551.19,294.54L551.64,294.89L552.09,295.23L552.54,295.56L552.99,295.88L553.44,296.19L553.89,296.5L554.34,296.8L554.79,297.11L555.24,297.41L555.69,297.73L556.13,298.05L556.58,298.37L557.03,298.69L557.48,299L557.93,299.29L558.38,299.56L558.83,299.8L559.28,300.01L559.73,300.19L560.18,300.35L560.63,300.5L561.08,300.63L561.53,300.75L561.98,300.87L562.43,300.98L562.88,301.09L563.33,301.19L563.78,301.29L564.23,301.39L564.68,301.49L565.12,301.6L565.57,301.7L566.02,301.79L566.47,301.87L566.92,301.96L567.37,302.04L567.82,302.13L568.27,302.22L568.72,302.33L569.17,302.44L569.62,302.57L570.07,302.72L570.52,302.89L570.97,303.09L571.42,303.3L571.87,303.52L572.32,303.75L572.77,304L573.22,304.24L573.67,304.49L574.12,304.74L574.56,304.98L575.01,305.23L575.46,305.51L575.91,305.79L576.36,306.08L576.81,306.38L577.26,306.67L577.71,306.95L578.16,307.23L578.61,307.48L579.06,307.72L579.51,307.93L579.96,308.13L580.41,308.33L580.86,308.53L581.31,308.72L581.76,308.9L582.21,309.08L582.66,309.26L583.11,309.43L583.55,309.6L584,309.75L584.45,309.91L584.9,310.05L585.35,310.19L585.8,310.32L586.25,310.45L586.7,310.56L587.15,310.67L587.6,310.77L588.05,310.86L588.5,310.95L588.95,311.04L589.4,311.13L589.85,311.21L590.3,311.29L590.75,311.37L591.2,311.44L591.65,311.51L592.1,311.58L592.54,311.65L592.99,311.72L593.44,311.78L593.89,311.84L594.34,311.9L594.79,311.96L595.24,312.02L595.69,312.07L596.14,312.12L596.59,312.18L597.04,312.23L597.49,312.27L597.94,312.32L598.39,312.37L598.84,312.41L599.29,312.45L599.74,312.5L600.19,312.54L600.64,312.58L601.09,312.62L601.53,312.65L601.98,312.69L602.43,312.73L602.88,312.76L603.33,312.8L603.78,312.83L604.23,312.86L604.68,312.89L605.13,312.92L605.58,312.95L606.03,312.98L606.48,313.01L606.93,313.04L607.38,313.07L607.83,313.09L608.28,313.12L608.73,313.14L609.18,313.17L609.63,313.19L610.08,313.22L610.52,313.24L610.97,313.26L611.42,313.28L611.87,313.31L612.32,313.33L612.77,313.35L613.22,313.37L613.67,313.39L614.12,313.41L614.57,313.43L615.02,313.45L615.47,313.47L615.92,313.48L616.37,313.5L616.82,313.52L617.27,313.53L617.72,313.55L618.17,313.57L618.62,313.58L619.07,313.6L619.51,313.61L619.96,313.62L620.41,313.64L620.86,313.65L621.31,313.67L621.76,313.68L622.21,313.69L622.66,313.71L623.11,313.72L623.56,313.73L624.01,313.75L624.46,313.76L624.91,313.77L625.36,313.78L625.81,313.8L626.26,313.81L626.71,313.82L627.16,313.83L627.61,313.84L628.05,313.85L628.5,313.87L628.95,313.88L629.4,313.89L629.85,313.9L630.3,313.91L630.75,313.92L631.2,313.93L631.65,313.94L632.1,313.95L632.55,313.95L633,313.96L633.45,313.97L633.9,313.98L634.35,313.99L634.8,313.99L635.25,314L635.7,314.01L636.15,314.02L636.6,314.02L637.04,314.03L637.49,314.03L637.94,314.04L638.39,314.05L638.84,314.05L639.29,314.06L639.74,314.07L640.19,314.07L640.64,314.08L641.09,314.08L641.54,314.09L641.99,314.1L642.44,314.1L642.89,314.11L643.34,314.11L643.79,314.12L644.24,314.12L644.69,314.13L645.14,314.14L645.59,314.14L646.03,314.15L646.48,314.15L646.93,314.16L647.38,314.16L647.83,314.17L648.28,314.18L648.73,314.18L649.18,314.19L649.63,314.19L650.08,314.2L650.53,314.2L650.98,314.21L651.43,314.21L651.88,314.22L652.33,314.22L652.78,314.23L653.23,314.23L653.68,314.24L654.13,314.24L654.58,314.25L655.02,314.25L655.47,314.26L655.92,314.26L656.37,314.27L656.82,314.27L657.27,314.28L657.72,314.28L658.17,314.28L658.62,314.29L659.07,314.29L659.52,314.3L659.97,314.3L660.42,314.3L660.87,314.31L661.32,314.31L661.77,314.32L662.22,314.32L662.67,314.32L663.12,314.33L663.57,314.33L664.01,314.33L664.46,314.34L664.91,314.34L665.36,314.34L665.81,314.34L666.26,314.35L666.71,314.35L667.16,314.35L667.61,314.36L668.06,314.36L668.51,314.36L668.96,314.36L669.41,314.36L669.86,314.37L670.31,314.37L670.76,314.37L671.21,314.37L671.66,314.37L672.11,314.37L672.56,314.38L673,314.38L673.45,314.38L673.9,314.38L674.35,314.38L674.8,314.38L675.25,314.38L675.7,314.38L676.15,314.38L676.6,314.38L677.05,314.38L677.5,314.38" fill="none" stroke="#7a3a08" stroke-width="0.3" stroke-opacity="0.75"/>
<path d="M497.7,314.6L498.15,314.6L498.6,314.6L499.05,314.6L499.5,314.6L499.95,314.6L500.4,314.6L500.85,314.6L501.3,314.6L501.75,314.6L502.19,314.59L502.64,314.59L503.09,314.58L503.54,314.55L503.99,314.51L504.44,314.43L504.89,314.27L505.34,314L505.79,313.57L506.24,312.89L506.69,311.88L507.14,310.42L507.59,308.38L508.04,305.62L508.49,302.01L508.94,297.44L509.39,291.89L509.84,285.38L510.29,278.09L510.74,270.26L511.19,262.29L511.63,254.65L512.08,247.9L512.53,242.52L512.98,238.96L513.43,237.5L513.88,238.24L514.33,241.08L514.78,245.76L515.23,251.81L515.68,258.73L516.13,266L516.58,273.13L517.03,279.74L517.48,285.55L517.93,290.41L518.38,294.24L518.83,297.07L519.28,299.03L519.73,300.27L520.17,300.95L520.62,301.24L521.07,301.21L521.52,300.88L521.97,300.23L522.42,299.28L522.87,298.18L523.32,297.04L523.77,295.97L524.22,294.9L524.67,293.81L525.12,292.74L525.57,291.69L526.02,290.69L526.47,289.75L526.92,288.88L527.37,288.03L527.82,287.18L528.27,286.36L528.72,285.56L529.16,284.79L529.61,284.07L530.06,283.39L530.51,282.77L530.96,282.21L531.41,281.73L531.86,281.28L532.31,280.86L532.76,280.47L533.21,280.11L533.66,279.79L534.11,279.52L534.56,279.29L535.01,279.11L535.46,278.95L535.91,278.79L536.36,278.66L536.81,278.55L537.26,278.49L537.71,278.48L538.15,278.61L538.6,278.87L539.05,279.24L539.5,279.68L539.95,280.16L540.4,280.64L540.85,281.21L541.3,281.93L541.75,282.73L542.2,283.52L542.65,284.25L543.1,284.92L543.55,285.58L544,286.22L544.45,286.86L544.9,287.47L545.35,288.08L545.8,288.66L546.25,289.24L546.7,289.81L547.14,290.38L547.59,290.94L548.04,291.48L548.49,292L548.94,292.5L549.39,292.96L549.84,293.39L550.29,293.79L550.74,294.17L551.19,294.54L551.64,294.89L552.09,295.23L552.54,295.56L552.99,295.88L553.44,296.19L553.89,296.5L554.34,296.8L554.79,297.11L555.24,297.41L555.69,297.73L556.13,298.05L556.58,298.37L557.03,298.69L557.48,299L557.93,299.29L558.38,299.56L558.83,299.8L559.28,300.01L559.73,300.19L560.18,300.35L560.63,300.5L561.08,300.63L561.53,300.75L561.98,300.87L562.43,300.98L562.88,301.09L563.33,301.19L563.78,301.29L564.23,301.39L564.68,301.49L565.12,301.6L565.57,301.7L566.02,301.79L566.47,301.87L566.92,301.96L567.37,302.04L567.82,302.13L568.27,302.22L568.72,302.33L569.17,302.44L569.62,302.57L570.07,302.72L570.52,302.89L570.97,303.09L571.42,303.3L571.87,303.52L572.32,303.75L572.77,304L573.22,304.24L573.67,304.49L574.12,304.74L574.56,304.98L575.01,305.23L575.46,305.51L575.91,305.79L576.36,306.08L576.81,306.38L577.26,306.67L577.71,306.95L578.16,307.23L578.61,307.48L579.06,307.72L579.51,307.93L579.96,308.13L580.41,308.33L580.86,308.53L581.31,308.72L581.76,308.9L582.21,309.08L582.66,309.26L583.11,309.43L583.55,309.6L584,309.75L584.45,309.91L584.9,310.05L585.35,310.19L585.8,310.32L586.25,310.45L586.7,310.56L587.15,310.67L587.6,310.77L588.05,310.86L588.5,310.95L588.95,311.04L589.4,311.13L589.85,311.21L590.3,311.29L590.75,311.37L591.2,311.44L591.65,311.51L592.1,311.58L592.54,311.65L592.99,311.72L593.44,311.78L593.89,311.84L594.34,311.9L594.79,311.96L595.24,312.02L595.69,312.07L596.14,312.12L596.59,312.18L597.04,312.23L597.49,312.27L597.94,312.32L598.39,312.37L598.84,312.41L599.29,312.45L599.74,312.5L600.19,312.54L600.64,312.58L601.09,312.62L601.53,312.65L601.98,312.69L602.43,312.73L602.88,312.76L603.33,312.8L603.78,312.83L604.23,312.86L604.68,312.89L605.13,312.92L605.58,312.95L606.03,312.98L606.48,313.01L606.93,313.04L607.38,313.07L607.83,313.09L608.28,313.12L608.73,313.14L609.18,313.17L609.63,313.19L610.08,313.22L610.52,313.24L610.97,313.26L611.42,313.28L611.87,313.31L612.32,313.33L612.77,313.35L613.22,313.37L613.67,313.39L614.12,313.41L614.57,313.43L615.02,313.45L615.47,313.47L615.92,313.48L616.37,313.5L616.82,313.52L617.27,313.53L617.72,313.55L618.17,313.57L618.62,313.58L619.07,313.6L619.51,313.61L619.96,313.62L620.41,313.64L620.86,313.65L621.31,313.67L621.76,313.68L622.21,313.69L622.66,313.71L623.11,313.72L623.56,313.73L624.01,313.75L624.46,313.76L624.91,313.77L625.36,313.78L625.81,313.8L626.26,313.81L626.71,313.82L627.16,313.83L627.61,313.84L628.05,313.85L628.5,313.87L628.95,313.88L629.4,313.89L629.85,313.9L630.3,313.91L630.75,313.92L631.2,313.93L631.65,313.94L632.1,313.95L632.55,313.95L633,313.96L633.45,313.97L633.9,313.98L634.35,313.99L634.8,313.99L635.25,314L635.7,314.01L636.15,314.02L636.6,314.02L637.04,314.03L637.49,314.03L637.94,314.04L638.39,314.05L638.84,314.05L639.29,314.06L639.74,314.07L640.19,314.07L640.64,314.08L641.09,314.08L641.54,314.09L641.99,314.1L642.44,314.1L642.89,314.11L643.34,314.11L643.79,314.12L644.24,314.12L644.69,314.13L645.14,314.14L645.59,314.14L646.03,314.15L646.48,314.15L646.93,314.16L647.38,314.16L647.83,314.17L648.28,314.18L648.73,314.18L649.18,314.19L649.63,314.19L650.08,314.2L650.53,314.2L650.98,314.21L651.43,314.21L651.88,314.22L652.33,314.22L652.78,314.23L653.23,314.23L653.68,314.24L654.13,314.24L654.58,314.25L655.02,314.25L655.47,314.26L655.92,314.26L656.37,314.27L656.82,314.27L657.27,314.28L657.72,314.28L658.17,314.28L658.62,314.29L659.07,314.29L659.52,314.3L659.97,314.3L660.42,314.3L660.87,314.31L661.32,314.31L661.77,314.32L662.22,314.32L662.67,314.32L663.12,314.33L663.57,314.33L664.01,314.33L664.46,314.34L664.91,314.34L665.36,314.34L665.81,314.34L666.26,314.35L666.71,314.35L667.16,314.35L667.61,314.36L668.06,314.36L668.51,314.36L668.96,314.36L669.41,314.36L669.86,314.37L670.31,314.37L670.76,314.37L671.21,314.37L671.66,314.37L672.11,314.37L672.56,314.38L673,314.38L673.45,314.38L673.9,314.38L674.35,314.38L674.8,314.38L675.25,314.38L675.7,314.38L676.15,314.38L676.6,314.38L677.05,314.38L677.5,314.38" fill="none" stroke="#7a3a08" stroke-width="0.5" stroke-opacity="0.95"/>
<path d="M497.7,314.6L498.15,314.6L498.6,314.6L499.05,314.6L499.5,314.6L499.95,314.6L500.4,314.6L500.85,314.6L501.3,314.6L501.75,314.6L502.19,314.6L502.64,314.6L503.09,314.6L503.54,314.59L503.99,314.56L504.44,314.53L504.89,314.5L505.34,314.46L505.79,314.42L506.24,314.38L506.69,314.34L507.14,314.29L507.59,314.25L508.04,314.2L508.49,314.15L508.94,314.09L509.39,314.04L509.84,313.98L510.29,313.92L510.74,313.85L511.19,313.79L511.63,313.71L512.08,313.64L512.53,313.56L512.98,313.47L513.43,313.39L513.88,313.3L514.33,313.2L514.78,313.11L515.23,313.01L515.68,312.91L516.13,312.81L516.58,312.7L517.03,312.6L517.48,312.48L517.93,312.36L518.38,312.24L518.83,312.1L519.28,311.96L519.73,311.81L520.17,311.64L520.62,311.47L521.07,311.28L521.52,311.08L521.97,310.86L522.42,310.63L522.87,310.34L523.32,309.97L523.77,309.52L524.22,309.01L524.67,308.45L525.12,307.84L525.57,307.2L526.02,306.54L526.47,305.86L526.92,305.18L527.37,304.5L527.82,303.77L528.27,302.97L528.72,302.13L529.16,301.26L529.61,300.34L530.06,299.41L530.51,298.46L530.96,297.51L531.41,296.55L531.86,295.61L532.31,294.69L532.76,293.79L533.21,292.93L533.66,292.07L534.11,291.19L534.56,290.3L535.01,289.4L535.46,288.51L535.91,287.62L536.36,286.75L536.81,285.91L537.26,285.1L537.71,284.34L538.15,283.62L538.6,282.96L539.05,282.37L539.5,281.83L539.95,281.32L540.4,280.82L540.85,280.35L541.3,279.92L541.75,279.51L542.2,279.15L542.65,278.82L543.1,278.54L543.55,278.29L544,278.04L544.45,277.8L544.9,277.6L545.35,277.46L545.8,277.39L546.25,277.41L546.7,277.5L547.14,277.65L547.59,277.84L548.04,278.07L548.49,278.32L548.94,278.58L549.39,278.84L549.84,279.11L550.29,279.43L550.74,279.79L551.19,280.19L551.64,280.62L552.09,281.07L552.54,281.55L552.99,282.05L553.44,282.57L553.89,283.1L554.34,283.65L554.79,284.19L555.24,284.74L555.69,285.29L556.13,285.84L556.58,286.41L557.03,287L557.48,287.63L557.93,288.27L558.38,288.93L558.83,289.59L559.28,290.26L559.73,290.92L560.18,291.57L560.63,292.2L561.08,292.84L561.53,293.49L561.98,294.14L562.43,294.76L562.88,295.34L563.33,295.87L563.78,296.35L564.23,296.81L564.68,297.25L565.12,297.67L565.57,298.06L566.02,298.44L566.47,298.79L566.92,299.15L567.37,299.51L567.82,299.86L568.27,300.2L568.72,300.52L569.17,300.82L569.62,301.07L570.07,301.29L570.52,301.45L570.97,301.58L571.42,301.69L571.87,301.8L572.32,301.89L572.77,301.97L573.22,302.04L573.67,302.11L574.12,302.17L574.56,302.23L575.01,302.29L575.46,302.34L575.91,302.39L576.36,302.44L576.81,302.48L577.26,302.51L577.71,302.53L578.16,302.55L578.61,302.57L579.06,302.58L579.51,302.59L579.96,302.61L580.41,302.62L580.86,302.63L581.31,302.63L581.76,302.64L582.21,302.65L582.66,302.67L583.11,302.68L583.55,302.69L584,302.7L584.45,302.72L584.9,302.73L585.35,302.74L585.8,302.75L586.25,302.76L586.7,302.78L587.15,302.79L587.6,302.81L588.05,302.83L588.5,302.85L588.95,302.88L589.4,302.9L589.85,302.95L590.3,303L590.75,303.08L591.2,303.17L591.65,303.27L592.1,303.38L592.54,303.5L592.99,303.63L593.44,303.75L593.89,303.88L594.34,304.02L594.79,304.14L595.24,304.27L595.69,304.39L596.14,304.53L596.59,304.67L597.04,304.81L597.49,304.96L597.94,305.11L598.39,305.27L598.84,305.42L599.29,305.57L599.74,305.71L600.19,305.87L600.64,306.02L601.09,306.17L601.53,306.33L601.98,306.48L602.43,306.64L602.88,306.79L603.33,306.94L603.78,307.09L604.23,307.24L604.68,307.38L605.13,307.52L605.58,307.65L606.03,307.79L606.48,307.92L606.93,308.04L607.38,308.17L607.83,308.29L608.28,308.41L608.73,308.54L609.18,308.66L609.63,308.77L610.08,308.89L610.52,309.01L610.97,309.13L611.42,309.25L611.87,309.37L612.32,309.49L612.77,309.61L613.22,309.72L613.67,309.83L614.12,309.94L614.57,310.03L615.02,310.12L615.47,310.2L615.92,310.29L616.37,310.37L616.82,310.44L617.27,310.52L617.72,310.59L618.17,310.66L618.62,310.73L619.07,310.8L619.51,310.87L619.96,310.93L620.41,311L620.86,311.06L621.31,311.12L621.76,311.18L622.21,311.24L622.66,311.29L623.11,311.35L623.56,311.4L624.01,311.45L624.46,311.5L624.91,311.55L625.36,311.6L625.81,311.65L626.26,311.7L626.71,311.74L627.16,311.79L627.61,311.83L628.05,311.88L628.5,311.92L628.95,311.96L629.4,312L629.85,312.05L630.3,312.08L630.75,312.12L631.2,312.16L631.65,312.2L632.1,312.23L632.55,312.27L633,312.3L633.45,312.33L633.9,312.37L634.35,312.4L634.8,312.43L635.25,312.45L635.7,312.48L636.15,312.51L636.6,312.54L637.04,312.56L637.49,312.59L637.94,312.62L638.39,312.64L638.84,312.67L639.29,312.7L639.74,312.72L640.19,312.75L640.64,312.77L641.09,312.79L641.54,312.82L641.99,312.84L642.44,312.87L642.89,312.89L643.34,312.91L643.79,312.93L644.24,312.95L644.69,312.98L645.14,313L645.59,313.02L646.03,313.04L646.48,313.06L646.93,313.08L647.38,313.1L647.83,313.12L648.28,313.14L648.73,313.16L649.18,313.17L649.63,313.19L650.08,313.21L650.53,313.23L650.98,313.24L651.43,313.26L651.88,313.28L652.33,313.29L652.78,313.31L653.23,313.32L653.68,313.34L654.13,313.35L654.58,313.36L655.02,313.38L655.47,313.39L655.92,313.41L656.37,313.42L656.82,313.43L657.27,313.45L657.72,313.46L658.17,313.47L658.62,313.49L659.07,313.5L659.52,313.51L659.97,313.52L660.42,313.54L660.87,313.55L661.32,313.56L661.77,313.57L662.22,313.59L662.67,313.6L663.12,313.61L663.57,313.62L664.01,313.63L664.46,313.64L664.91,313.66L665.36,313.67L665.81,313.68L666.26,313.69L666.71,313.7L667.16,313.71L667.61,313.72L668.06,313.73L668.51,313.74L668.96,313.75L669.41,313.76L669.86,313.77L670.31,313.77L670.76,313.78L671.21,313.79L671.66,313.8L672.11,313.81L672.56,313.81L673,313.82L673.45,313.83L673.9,313.84L674.35,313.84L674.8,313.85L675.25,313.85L675.7,313.86L676.15,313.86L676.6,313.87L677.05,313.87L677.5,313.88" fill="none" stroke="#7a2f78" stroke-width="0.3" stroke-opacity="0.75"/>
<path d="M497.7,314.6L498.15,314.6L498.6,314.6L499.05,314.6L499.5,314.6L499.95,314.6L500.4,314.6L500.85,314.6L501.3,314.6L501.75,314.6L502.19,314.59L502.64,314.58L503.09,314.57L503.54,314.53L503.99,314.45L504.44,314.33L504.89,314.15L505.34,313.88L505.79,313.46L506.24,312.85L506.69,311.97L507.14,310.72L507.59,309.01L508.04,306.74L508.49,303.81L508.94,300.16L509.39,295.77L509.84,290.68L510.29,285.02L510.74,279L511.19,272.89L511.63,267.05L512.08,261.85L512.53,257.66L512.98,254.79L513.43,253.47L513.88,253.8L514.33,255.73L514.78,259.12L515.23,263.68L515.68,269.08L516.13,274.92L516.58,280.86L517.03,286.56L517.48,291.78L517.93,296.35L518.38,300.19L518.83,303.29L519.28,305.69L519.73,307.47L520.17,308.72L520.62,309.55L521.07,310.06L521.52,310.32L521.97,310.4L522.42,310.36L522.87,310.19L523.32,309.88L523.77,309.48L524.22,308.99L524.67,308.44L525.12,307.84L525.57,307.2L526.02,306.54L526.47,305.86L526.92,305.18L527.37,304.5L527.82,303.77L528.27,302.97L528.72,302.13L529.16,301.26L529.61,300.34L530.06,299.41L530.51,298.46L530.96,297.51L531.41,296.55L531.86,295.61L532.31,294.69L532.76,293.79L533.21,292.92L533.66,292.07L534.11,291.19L534.56,290.3L535.01,289.4L535.46,288.51L535.91,287.62L536.36,286.75L536.81,285.91L537.26,285.1L537.71,284.34L538.15,283.62L538.6,282.96L539.05,282.37L539.5,281.83L539.95,281.32L540.4,280.82L540.85,280.35L541.3,279.92L541.75,279.51L542.2,279.15L542.65,278.82L543.1,278.54L543.55,278.29L544,278.04L544.45,277.8L544.9,277.6L545.35,277.46L545.8,277.39L546.25,277.41L546.7,277.5L547.14,277.65L547.59,277.84L548.04,278.07L548.49,278.32L548.94,278.58L549.39,278.84L549.84,279.11L550.29,279.43L550.74,279.79L551.19,280.19L551.64,280.62L552.09,281.07L552.54,281.55L552.99,282.05L553.44,282.57L553.89,283.1L554.34,283.65L554.79,284.19L555.24,284.74L555.69,285.29L556.13,285.84L556.58,286.41L557.03,287L557.48,287.63L557.93,288.27L558.38,288.93L558.83,289.59L559.28,290.26L559.73,290.92L560.18,291.57L560.63,292.2L561.08,292.84L561.53,293.49L561.98,294.14L562.43,294.76L562.88,295.34L563.33,295.87L563.78,296.35L564.23,296.81L564.68,297.25L565.12,297.67L565.57,298.06L566.02,298.44L566.47,298.79L566.92,299.15L567.37,299.51L567.82,299.86L568.27,300.2L568.72,300.52L569.17,300.82L569.62,301.07L570.07,301.29L570.52,301.45L570.97,301.58L571.42,301.69L571.87,301.8L572.32,301.89L572.77,301.97L573.22,302.04L573.67,302.11L574.12,302.17L574.56,302.23L575.01,302.29L575.46,302.34L575.91,302.39L576.36,302.44L576.81,302.48L577.26,302.51L577.71,302.53L578.16,302.55L578.61,302.57L579.06,302.58L579.51,302.59L579.96,302.61L580.41,302.62L580.86,302.63L581.31,302.63L581.76,302.64L582.21,302.65L582.66,302.67L583.11,302.68L583.55,302.69L584,302.7L584.45,302.72L584.9,302.73L585.35,302.74L585.8,302.75L586.25,302.76L586.7,302.78L587.15,302.79L587.6,302.81L588.05,302.83L588.5,302.85L588.95,302.88L589.4,302.9L589.85,302.95L590.3,303L590.75,303.08L591.2,303.17L591.65,303.27L592.1,303.38L592.54,303.5L592.99,303.63L593.44,303.75L593.89,303.88L594.34,304.02L594.79,304.14L595.24,304.27L595.69,304.39L596.14,304.53L596.59,304.67L597.04,304.81L597.49,304.96L597.94,305.11L598.39,305.27L598.84,305.42L599.29,305.57L599.74,305.71L600.19,305.87L600.64,306.02L601.09,306.17L601.53,306.33L601.98,306.48L602.43,306.64L602.88,306.79L603.33,306.94L603.78,307.09L604.23,307.24L604.68,307.38L605.13,307.52L605.58,307.65L606.03,307.79L606.48,307.92L606.93,308.04L607.38,308.17L607.83,308.29L608.28,308.41L608.73,308.54L609.18,308.66L609.63,308.77L610.08,308.89L610.52,309.01L610.97,309.13L611.42,309.25L611.87,309.37L612.32,309.49L612.77,309.61L613.22,309.72L613.67,309.83L614.12,309.94L614.57,310.03L615.02,310.12L615.47,310.2L615.92,310.29L616.37,310.37L616.82,310.44L617.27,310.52L617.72,310.59L618.17,310.66L618.62,310.73L619.07,310.8L619.51,310.87L619.96,310.93L620.41,311L620.86,311.06L621.31,311.12L621.76,311.18L622.21,311.24L622.66,311.29L623.11,311.35L623.56,311.4L624.01,311.45L624.46,311.5L624.91,311.55L625.36,311.6L625.81,311.65L626.26,311.7L626.71,311.74L627.16,311.79L627.61,311.83L628.05,311.88L628.5,311.92L628.95,311.96L629.4,312L629.85,312.05L630.3,312.08L630.75,312.12L631.2,312.16L631.65,312.2L632.1,312.23L632.55,312.27L633,312.3L633.45,312.33L633.9,312.37L634.35,312.4L634.8,312.43L635.25,312.45L635.7,312.48L636.15,312.51L636.6,312.54L637.04,312.56L637.49,312.59L637.94,312.62L638.39,312.64L638.84,312.67L639.29,312.7L639.74,312.72L640.19,312.75L640.64,312.77L641.09,312.79L641.54,312.82L641.99,312.84L642.44,312.87L642.89,312.89L643.34,312.91L643.79,312.93L644.24,312.95L644.69,312.98L645.14,313L645.59,313.02L646.03,313.04L646.48,313.06L646.93,313.08L647.38,313.1L647.83,313.12L648.28,313.14L648.73,313.16L649.18,313.17L649.63,313.19L650.08,313.21L650.53,313.23L650.98,313.24L651.43,313.26L651.88,313.28L652.33,313.29L652.78,313.31L653.23,313.32L653.68,313.34L654.13,313.35L654.58,313.36L655.02,313.38L655.47,313.39L655.92,313.41L656.37,313.42L656.82,313.43L657.27,313.45L657.72,313.46L658.17,313.47L658.62,313.49L659.07,313.5L659.52,313.51L659.97,313.52L660.42,313.54L660.87,313.55L661.32,313.56L661.77,313.57L662.22,313.59L662.67,313.6L663.12,313.61L663.57,313.62L664.01,313.63L664.46,313.64L664.91,313.66L665.36,313.67L665.81,313.68L666.26,313.69L666.71,313.7L667.16,313.71L667.61,313.72L668.06,313.73L668.51,313.74L668.96,313.75L669.41,313.76L669.86,313.77L670.31,313.77L670.76,313.78L671.21,313.79L671.66,313.8L672.11,313.81L672.56,313.81L673,313.82L673.45,313.83L673.9,313.84L674.35,313.84L674.8,313.85L675.25,313.85L675.7,313.86L676.15,313.86L676.6,313.87L677.05,313.87L677.5,313.88" fill="none" stroke="#7a2f78" stroke-width="0.5" stroke-opacity="0.95"/>
<path d="M497.7,314.6L498.15,314.6L498.6,314.6L499.05,314.6L499.5,314.6L499.95,314.6L500.4,314.6L500.85,314.6L501.3,314.6L501.75,314.6L502.19,314.6L502.64,314.6L503.09,314.6L503.54,314.6L503.99,314.6L504.44,314.6L504.89,314.6L505.34,314.6L505.79,314.6L506.24,314.6L506.69,314.6L507.14,314.6L507.59,314.6L508.04,314.6L508.49,314.6L508.94,314.6L509.39,314.6L509.84,314.6L510.29,314.59L510.74,314.56L511.19,314.53L511.63,314.49L512.08,314.45L512.53,314.41L512.98,314.36L513.43,314.31L513.88,314.25L514.33,314.2L514.78,314.14L515.23,314.07L515.68,314L516.13,313.93L516.58,313.85L517.03,313.76L517.48,313.67L517.93,313.57L518.38,313.47L518.83,313.36L519.28,313.25L519.73,313.13L520.17,313.01L520.62,312.88L521.07,312.74L521.52,312.6L521.97,312.44L522.42,312.27L522.87,312.09L523.32,311.9L523.77,311.7L524.22,311.48L524.67,311.26L525.12,311.01L525.57,310.76L526.02,310.49L526.47,310.17L526.92,309.81L527.37,309.42L527.82,308.99L528.27,308.53L528.72,308.05L529.16,307.55L529.61,307.04L530.06,306.52L530.51,305.95L530.96,305.33L531.41,304.68L531.86,303.99L532.31,303.29L532.76,302.59L533.21,301.9L533.66,301.23L534.11,300.57L534.56,299.89L535.01,299.22L535.46,298.57L535.91,297.98L536.36,297.43L536.81,296.9L537.26,296.39L537.71,295.9L538.15,295.44L538.6,294.99L539.05,294.57L539.5,294.17L539.95,293.79L540.4,293.42L540.85,293.06L541.3,292.72L541.75,292.4L542.2,292.11L542.65,291.84L543.1,291.59L543.55,291.34L544,291.1L544.45,290.87L544.9,290.66L545.35,290.46L545.8,290.27L546.25,290.1L546.7,289.95L547.14,289.82L547.59,289.7L548.04,289.58L548.49,289.49L548.94,289.46L549.39,289.48L549.84,289.55L550.29,289.65L550.74,289.79L551.19,289.95L551.64,290.14L552.09,290.33L552.54,290.53L552.99,290.74L553.44,290.93L553.89,291.12L554.34,291.31L554.79,291.51L555.24,291.72L555.69,291.95L556.13,292.18L556.58,292.42L557.03,292.65L557.48,292.89L557.93,293.12L558.38,293.34L558.83,293.55L559.28,293.75L559.73,293.93L560.18,294.1L560.63,294.27L561.08,294.44L561.53,294.59L561.98,294.75L562.43,294.9L562.88,295.05L563.33,295.2L563.78,295.35L564.23,295.51L564.68,295.66L565.12,295.81L565.57,295.97L566.02,296.13L566.47,296.28L566.92,296.44L567.37,296.59L567.82,296.74L568.27,296.9L568.72,297.05L569.17,297.21L569.62,297.36L570.07,297.52L570.52,297.67L570.97,297.83L571.42,297.99L571.87,298.16L572.32,298.32L572.77,298.49L573.22,298.65L573.67,298.81L574.12,298.98L574.56,299.15L575.01,299.32L575.46,299.5L575.91,299.68L576.36,299.86L576.81,300.05L577.26,300.25L577.71,300.47L578.16,300.69L578.61,300.93L579.06,301.16L579.51,301.38L579.96,301.59L580.41,301.81L580.86,302.02L581.31,302.23L581.76,302.43L582.21,302.64L582.66,302.84L583.11,303.04L583.55,303.24L584,303.43L584.45,303.63L584.9,303.82L585.35,304.01L585.8,304.2L586.25,304.38L586.7,304.56L587.15,304.74L587.6,304.92L588.05,305.09L588.5,305.27L588.95,305.44L589.4,305.62L589.85,305.8L590.3,305.97L590.75,306.15L591.2,306.32L591.65,306.49L592.1,306.66L592.54,306.83L592.99,306.99L593.44,307.15L593.89,307.31L594.34,307.46L594.79,307.6L595.24,307.74L595.69,307.88L596.14,308.01L596.59,308.13L597.04,308.24L597.49,308.35L597.94,308.45L598.39,308.56L598.84,308.65L599.29,308.75L599.74,308.84L600.19,308.93L600.64,309.01L601.09,309.09L601.53,309.18L601.98,309.26L602.43,309.33L602.88,309.41L603.33,309.49L603.78,309.56L604.23,309.63L604.68,309.71L605.13,309.78L605.58,309.85L606.03,309.93L606.48,310L606.93,310.08L607.38,310.15L607.83,310.23L608.28,310.31L608.73,310.39L609.18,310.47L609.63,310.55L610.08,310.64L610.52,310.73L610.97,310.82L611.42,310.91L611.87,311.01L612.32,311.11L612.77,311.2L613.22,311.3L613.67,311.4L614.12,311.5L614.57,311.6L615.02,311.7L615.47,311.8L615.92,311.9L616.37,311.99L616.82,312.09L617.27,312.18L617.72,312.27L618.17,312.36L618.62,312.45L619.07,312.53L619.51,312.61L619.96,312.69L620.41,312.76L620.86,312.83L621.31,312.9L621.76,312.96L622.21,313.01L622.66,313.06L623.11,313.11L623.56,313.16L624.01,313.21L624.46,313.25L624.91,313.3L625.36,313.34L625.81,313.38L626.26,313.42L626.71,313.46L627.16,313.5L627.61,313.53L628.05,313.57L628.5,313.6L628.95,313.64L629.4,313.67L629.85,313.7L630.3,313.73L630.75,313.76L631.2,313.79L631.65,313.82L632.1,313.85L632.55,313.88L633,313.91L633.45,313.93L633.9,313.96L634.35,313.99L634.8,314.02L635.25,314.04L635.7,314.07L636.15,314.1L636.6,314.12L637.04,314.15L637.49,314.17L637.94,314.2L638.39,314.22L638.84,314.24L639.29,314.26L639.74,314.28L640.19,314.3L640.64,314.32L641.09,314.33L641.54,314.35L641.99,314.36L642.44,314.37L642.89,314.38L643.34,314.39L643.79,314.4L644.24,314.4L644.69,314.41L645.14,314.42L645.59,314.43L646.03,314.43L646.48,314.44L646.93,314.45L647.38,314.45L647.83,314.46L648.28,314.46L648.73,314.47L649.18,314.48L649.63,314.48L650.08,314.49L650.53,314.49L650.98,314.5L651.43,314.5L651.88,314.51L652.33,314.51L652.78,314.51L653.23,314.52L653.68,314.52L654.13,314.53L654.58,314.53L655.02,314.53L655.47,314.54L655.92,314.54L656.37,314.54L656.82,314.55L657.27,314.55L657.72,314.55L658.17,314.55L658.62,314.56L659.07,314.56L659.52,314.56L659.97,314.56L660.42,314.56L660.87,314.56L661.32,314.57L661.77,314.57L662.22,314.57L662.67,314.57L663.12,314.57L663.57,314.57L664.01,314.58L664.46,314.58L664.91,314.58L665.36,314.58L665.81,314.58L666.26,314.58L666.71,314.58L667.16,314.58L667.61,314.59L668.06,314.59L668.51,314.59L668.96,314.59L669.41,314.59L669.86,314.59L670.31,314.59L670.76,314.59L671.21,314.59L671.66,314.59L672.11,314.6L672.56,314.6L673,314.6L673.45,314.6L673.9,314.6L674.35,314.6L674.8,314.6L675.25,314.6L675.7,314.6L676.15,314.6L676.6,314.6L677.05,314.6L677.5,314.6" fill="none" stroke="#6e4c2a" stroke-width="0.3" stroke-opacity="0.75"/>
<path d="M497.7,314.6L498.15,314.6L498.6,314.6L499.05,314.6L499.5,314.6L499.95,314.6L500.4,314.6L500.85,314.6L501.3,314.6L501.75,314.6L502.19,314.6L502.64,314.6L503.09,314.6L503.54,314.6L503.99,314.6L504.44,314.59L504.89,314.59L505.34,314.59L505.79,314.58L506.24,314.58L506.69,314.57L507.14,314.55L507.59,314.54L508.04,314.51L508.49,314.48L508.94,314.44L509.39,314.38L509.84,314.31L510.29,314.21L510.74,314.07L511.19,313.89L511.63,313.67L512.08,313.4L512.53,313.08L512.98,312.69L513.43,312.23L513.88,311.69L514.33,311.05L514.78,310.32L515.23,309.48L515.68,308.51L516.13,307.42L516.58,306.21L517.03,304.86L517.48,303.38L517.93,301.78L518.38,300.07L518.83,298.25L519.28,296.36L519.73,294.4L520.17,292.41L520.62,290.42L521.07,288.45L521.52,286.53L521.97,284.71L522.42,283.01L522.87,281.47L523.32,280.12L523.77,278.98L524.22,278.08L524.67,277.44L525.12,277.06L525.57,276.94L526.02,277.08L526.47,277.45L526.92,278.03L527.37,278.79L527.82,279.72L528.27,280.8L528.72,281.98L529.16,283.25L529.61,284.58L530.06,285.92L530.51,287.22L530.96,288.44L531.41,289.57L531.86,290.59L532.31,291.5L532.76,292.31L533.21,293L533.66,293.59L534.11,294.06L534.56,294.4L535.01,294.62L535.46,294.76L535.91,294.84L536.36,294.87L536.81,294.82L537.26,294.72L537.71,294.57L538.15,294.39L538.6,294.17L539.05,293.93L539.5,293.68L539.95,293.41L540.4,293.13L540.85,292.84L541.3,292.56L541.75,292.29L542.2,292.02L542.65,291.78L543.1,291.54L543.55,291.31L544,291.08L544.45,290.86L544.9,290.65L545.35,290.45L545.8,290.26L546.25,290.09L546.7,289.95L547.14,289.82L547.59,289.69L548.04,289.58L548.49,289.49L548.94,289.46L549.39,289.48L549.84,289.55L550.29,289.65L550.74,289.79L551.19,289.95L551.64,290.14L552.09,290.33L552.54,290.53L552.99,290.74L553.44,290.93L553.89,291.12L554.34,291.31L554.79,291.51L555.24,291.72L555.69,291.95L556.13,292.18L556.58,292.42L557.03,292.65L557.48,292.89L557.93,293.12L558.38,293.34L558.83,293.55L559.28,293.75L559.73,293.93L560.18,294.1L560.63,294.27L561.08,294.44L561.53,294.59L561.98,294.75L562.43,294.9L562.88,295.05L563.33,295.2L563.78,295.35L564.23,295.51L564.68,295.66L565.12,295.81L565.57,295.97L566.02,296.13L566.47,296.28L566.92,296.44L567.37,296.59L567.82,296.74L568.27,296.9L568.72,297.05L569.17,297.21L569.62,297.36L570.07,297.52L570.52,297.67L570.97,297.83L571.42,297.99L571.87,298.16L572.32,298.32L572.77,298.49L573.22,298.65L573.67,298.81L574.12,298.98L574.56,299.15L575.01,299.32L575.46,299.5L575.91,299.68L576.36,299.86L576.81,300.05L577.26,300.25L577.71,300.47L578.16,300.69L578.61,300.93L579.06,301.16L579.51,301.38L579.96,301.59L580.41,301.81L580.86,302.02L581.31,302.23L581.76,302.43L582.21,302.64L582.66,302.84L583.11,303.04L583.55,303.24L584,303.43L584.45,303.63L584.9,303.82L585.35,304.01L585.8,304.2L586.25,304.38L586.7,304.56L587.15,304.74L587.6,304.92L588.05,305.09L588.5,305.27L588.95,305.44L589.4,305.62L589.85,305.8L590.3,305.97L590.75,306.15L591.2,306.32L591.65,306.49L592.1,306.66L592.54,306.83L592.99,306.99L593.44,307.15L593.89,307.31L594.34,307.46L594.79,307.6L595.24,307.74L595.69,307.88L596.14,308.01L596.59,308.13L597.04,308.24L597.49,308.35L597.94,308.45L598.39,308.56L598.84,308.65L599.29,308.75L599.74,308.84L600.19,308.93L600.64,309.01L601.09,309.09L601.53,309.18L601.98,309.26L602.43,309.33L602.88,309.41L603.33,309.49L603.78,309.56L604.23,309.63L604.68,309.71L605.13,309.78L605.58,309.85L606.03,309.93L606.48,310L606.93,310.08L607.38,310.15L607.83,310.23L608.28,310.31L608.73,310.39L609.18,310.47L609.63,310.55L610.08,310.64L610.52,310.73L610.97,310.82L611.42,310.91L611.87,311.01L612.32,311.11L612.77,311.2L613.22,311.3L613.67,311.4L614.12,311.5L614.57,311.6L615.02,311.7L615.47,311.8L615.92,311.9L616.37,311.99L616.82,312.09L617.27,312.18L617.72,312.27L618.17,312.36L618.62,312.45L619.07,312.53L619.51,312.61L619.96,312.69L620.41,312.76L620.86,312.83L621.31,312.9L621.76,312.96L622.21,313.01L622.66,313.06L623.11,313.11L623.56,313.16L624.01,313.21L624.46,313.25L624.91,313.3L625.36,313.34L625.81,313.38L626.26,313.42L626.71,313.46L627.16,313.5L627.61,313.53L628.05,313.57L628.5,313.6L628.95,313.64L629.4,313.67L629.85,313.7L630.3,313.73L630.75,313.76L631.2,313.79L631.65,313.82L632.1,313.85L632.55,313.88L633,313.91L633.45,313.93L633.9,313.96L634.35,313.99L634.8,314.02L635.25,314.04L635.7,314.07L636.15,314.1L636.6,314.12L637.04,314.15L637.49,314.17L637.94,314.2L638.39,314.22L638.84,314.24L639.29,314.26L639.74,314.28L640.19,314.3L640.64,314.32L641.09,314.33L641.54,314.35L641.99,314.36L642.44,314.37L642.89,314.38L643.34,314.39L643.79,314.4L644.24,314.4L644.69,314.41L645.14,314.42L645.59,314.43L646.03,314.43L646.48,314.44L646.93,314.45L647.38,314.45L647.83,314.46L648.28,314.46L648.73,314.47L649.18,314.48L649.63,314.48L650.08,314.49L650.53,314.49L650.98,314.5L651.43,314.5L651.88,314.51L652.33,314.51L652.78,314.51L653.23,314.52L653.68,314.52L654.13,314.53L654.58,314.53L655.02,314.53L655.47,314.54L655.92,314.54L656.37,314.54L656.82,314.55L657.27,314.55L657.72,314.55L658.17,314.55L658.62,314.56L659.07,314.56L659.52,314.56L659.97,314.56L660.42,314.56L660.87,314.56L661.32,314.57L661.77,314.57L662.22,314.57L662.67,314.57L663.12,314.57L663.57,314.57L664.01,314.58L664.46,314.58L664.91,314.58L665.36,314.58L665.81,314.58L666.26,314.58L666.71,314.58L667.16,314.58L667.61,314.59L668.06,314.59L668.51,314.59L668.96,314.59L669.41,314.59L669.86,314.59L670.31,314.59L670.76,314.59L671.21,314.59L671.66,314.59L672.11,314.6L672.56,314.6L673,314.6L673.45,314.6L673.9,314.6L674.35,314.6L674.8,314.6L675.25,314.6L675.7,314.6L676.15,314.6L676.6,314.6L677.05,314.6L677.5,314.6" fill="none" stroke="#6e4c2a" stroke-width="0.5" stroke-opacity="0.95"/>
<path d="M497.7,181.5V314.6H677.5" fill="none" stroke="#333" stroke-width="0.75"/>
<path d="M497.7,314.6v1.9M542.65,314.6v1.9M587.6,314.6v1.9M632.55,314.6v1.9M677.5,314.6v1.9M506.69,314.6v1.1M515.68,314.6v1.1M524.67,314.6v1.1M533.66,314.6v1.1M551.64,314.6v1.1M560.63,314.6v1.1M569.62,314.6v1.1M578.61,314.6v1.1M596.59,314.6v1.1M605.58,314.6v1.1M614.57,314.6v1.1M623.56,314.6v1.1M641.54,314.6v1.1M650.53,314.6v1.1M659.52,314.6v1.1M668.51,314.6v1.1M497.7,314.6h-1.9M497.7,285.7h-1.9M497.7,256.8h-1.9M497.7,227.9h-1.9M497.7,199h-1.9M497.7,308.82h-1.1M497.7,303.04h-1.1M497.7,297.26h-1.1M497.7,291.48h-1.1M497.7,279.92h-1.1M497.7,274.14h-1.1M497.7,268.36h-1.1M497.7,262.58h-1.1M497.7,251.02h-1.1M497.7,245.24h-1.1M497.7,239.46h-1.1M497.7,233.68h-1.1M497.7,222.12h-1.1M497.7,216.34h-1.1M497.7,210.56h-1.1M497.7,204.78h-1.1M497.7,193.22h-1.1M497.7,187.44h-1.1M497.7,181.66h-1.1" fill="none" stroke="#111" stroke-width="0.5"/>
<text transform="translate(497.7,323.4) scale(0.9,1)" text-anchor="middle" class="tk">0</text>
<text transform="translate(542.65,323.4) scale(0.9,1)" text-anchor="middle" class="tk">400</text>
<text transform="translate(587.6,323.4) scale(0.9,1)" text-anchor="middle" class="tk">800</text>
<text transform="translate(632.55,323.4) scale(0.9,1)" text-anchor="middle" class="tk">1200</text>
<text transform="translate(677.5,323.4) scale(0.9,1)" text-anchor="middle" class="tk">1600</text>
<text transform="translate(493.5,317.1) scale(0.9,1)" text-anchor="end" class="tk">0</text>
<text transform="translate(493.5,288.2) scale(0.9,1)" text-anchor="end" class="tk">40</text>
<text transform="translate(493.5,259.3) scale(0.9,1)" text-anchor="end" class="tk">80</text>
<text transform="translate(493.5,230.4) scale(0.9,1)" text-anchor="end" class="tk">120</text>
<text transform="translate(493.5,201.5) scale(0.9,1)" text-anchor="end" class="tk">160</text>
<text transform="translate(587.6,331) scale(0.85,1)" text-anchor="middle" class="lb">Mass [kDa]</text>
<text transform="translate(481.6,248.65) rotate(-90) scale(0.85,1)" text-anchor="middle" class="lb">Counts</text>
<rect x="567" y="194.5" width="110.3" height="35.5" rx="0.8" fill="#fff" fill-opacity="0.8" stroke="#ccc" stroke-width="0.4"/>
<rect x="569.1" y="197" width="10" height="3.4" fill="#0173b2" fill-opacity="0.5" stroke="#0173b2" stroke-width="0.6"/>
<text x="585.9" y="200.7" class="lg">αSO</text>
<rect x="569.1" y="203.7" width="10" height="3.4" fill="#029e73" fill-opacity="0.5" stroke="#029e73" stroke-width="0.6"/>
<text x="585.9" y="207.4" class="lg">αSO + NBg1-NabFab (1:3)</text>
<rect x="569.1" y="210.7" width="10" height="3.4" fill="#d55e00" fill-opacity="0.5" stroke="#d55e00" stroke-width="0.6"/>
<text x="585.9" y="214.4" class="lg">αSO + NBg2-NabFab (1:3)</text>
<rect x="569.1" y="217.1" width="10" height="3.4" fill="#cc78bc" fill-opacity="0.5" stroke="#cc78bc" stroke-width="0.6"/>
<text x="585.9" y="220.8" class="lg">αSO + NBg2-NabFab (1:10)</text>
<rect x="569.1" y="223.6" width="10" height="3.4" fill="#ca9161" fill-opacity="0.5" stroke="#ca9161" stroke-width="0.6"/>
<text x="585.9" y="227.3" class="lg">αSO + NBg1-NabFab (1:10)</text>
<text transform="translate(116.3,168.8) scale(0.89,1)" text-anchor="middle" class="pl">a</text>
<text transform="translate(356,170.1) scale(0.89,1)" text-anchor="middle" class="pl">b</text>
<text transform="translate(599.7,167.7) scale(0.89,1)" text-anchor="middle" class="pl">c</text>
<text transform="translate(126.7,353.6) scale(0.89,1)" text-anchor="middle" class="pl">d</text>
<text transform="translate(360.3,352.5) scale(0.89,1)" text-anchor="middle" class="pl">e</text>
<text transform="translate(595.2,352.5) scale(0.89,1)" text-anchor="middle" class="pl">f</text>
</g>
</svg>
</body></html>
